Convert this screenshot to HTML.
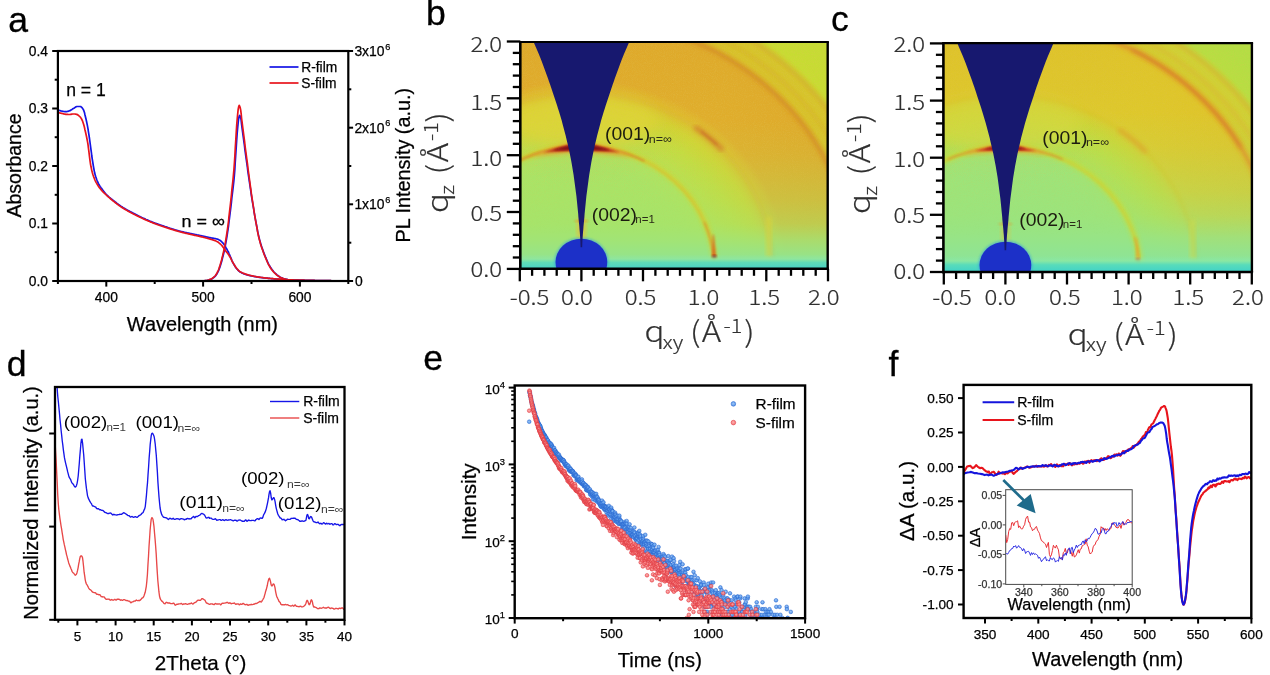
<!DOCTYPE html>
<html lang="en"><head><meta charset="utf-8"><title>Figure</title>
<style>html,body{margin:0;padding:0;background:#fff}svg{display:block}text{font-family:"Liberation Sans",Arial,sans-serif}.yh{font-family:"Noto Sans CJK SC","Liberation Sans",sans-serif;font-weight:300}</style></head><body>
<svg width="1270" height="675" viewBox="0 0 1270 675">
<rect width="1270" height="675" fill="#fff"/>
<text x="8.2" y="32.4" font-size="35.6" text-anchor="start" fill="#000" stroke="#000" stroke-width="0.3" >a</text>
<text x="426" y="25.4" font-size="35.6" text-anchor="start" fill="#000" stroke="#000" stroke-width="0.3" >b</text>
<text x="831" y="31" font-size="35.6" text-anchor="start" fill="#000" stroke="#000" stroke-width="0.3" >c</text>
<text x="6.8" y="376.2" font-size="35.6" text-anchor="start" fill="#000" stroke="#000" stroke-width="0.3" >d</text>
<text x="423.3" y="369.5" font-size="35.6" text-anchor="start" fill="#000" stroke="#000" stroke-width="0.3" >e</text>
<text x="888.6" y="375.7" font-size="35.6" text-anchor="start" fill="#000" stroke="#000" stroke-width="0.3" >f</text>
<g id="panel-a">
<clipPath id="clipA"><rect x="57.9" y="51.0" width="290.40000000000003" height="231.0"/></clipPath>
<g clip-path="url(#clipA)" fill="none" stroke-width="1.7" stroke-linejoin="round">
<path d="M57.9,109.9L58.4,110.1L58.9,110.3L59.4,110.4L59.8,110.6L60.3,110.7L60.8,110.9L61.3,111L61.8,111.1L62.3,111.2L62.7,111.3L63.2,111.4L63.7,111.5L64.2,111.5L64.7,111.6L65.2,111.6L65.7,111.7L66.1,111.6L66.6,111.6L67.1,111.5L67.6,111.4L68.1,111.3L68.6,111.1L69.1,111L69.5,110.8L70,110.6L70.5,110.4L71,110.1L71.5,109.7L72,109.4L72.4,109.1L72.9,108.8L73.4,108.5L73.9,108.2L74.4,107.9L74.9,107.5L75.4,107.2L75.8,106.9L76.3,106.7L76.8,106.5L77.3,106.5L77.8,106.5L78.3,106.5L78.7,106.5L79.2,106.5L79.7,106.5L80.2,106.5L80.7,106.6L81.2,106.9L81.7,107.3L82.1,107.8L82.6,108.5L83.1,109.1L83.6,110.1L84.1,111.5L84.6,113.1L85,115L85.5,117L86,119L86.5,121.2L87,123.6L87.5,126.1L88,128.9L88.4,131.7L88.9,134.7L89.4,138L89.9,141.5L90.4,145.3L90.9,149.1L91.4,152.7L91.8,156L92.3,159.3L92.8,162.5L93.3,165.6L93.8,168.5L94.3,171.1L94.7,173.1L95.2,174.9L95.7,176.6L96.2,178.1L96.7,179.5L97.2,180.8L97.7,181.9L98.1,183L98.6,184L99.1,184.8L99.6,185.6L100.1,186.4L100.6,187.1L101,187.7L101.5,188.4L102,189L102.5,189.7L103,190.3L103.5,191L104,191.6L104.4,192.3L104.9,192.9L105.4,193.5L105.9,194L106.4,194.5L106.9,195L107.4,195.5L107.8,196L108.3,196.4L108.8,196.9L109.3,197.3L109.8,197.7L110.3,198.1L110.7,198.5L111.2,198.9L111.7,199.3L112.2,199.6L112.7,200L113.2,200.4L113.7,200.8L114.1,201.1L114.6,201.5L115.1,201.9L115.6,202.3L116.1,202.6L116.6,203L117,203.4L117.5,203.7L118,204.1L118.5,204.5L119,204.8L119.5,205.2L120,205.5L120.4,205.8L120.9,206.2L121.4,206.5L121.9,206.8L122.4,207.1L122.9,207.5L123.3,207.8L123.8,208.1L124.3,208.4L124.8,208.6L125.3,208.9L125.8,209.2L126.3,209.5L126.7,209.8L127.2,210L127.7,210.3L128.2,210.6L128.7,210.8L129.2,211.1L129.7,211.4L130.1,211.6L130.6,211.9L131.1,212.1L131.6,212.4L132.1,212.6L132.6,212.9L133,213.1L133.5,213.4L134,213.6L134.5,213.9L135,214.1L135.5,214.4L136,214.6L136.4,214.9L136.9,215.1L137.4,215.3L137.9,215.6L138.4,215.8L138.9,216.1L139.3,216.3L139.8,216.5L140.3,216.8L140.8,217L141.3,217.2L141.8,217.5L142.3,217.7L142.7,217.9L143.2,218.2L143.7,218.4L144.2,218.6L144.7,218.8L145.2,219L145.7,219.3L146.1,219.5L146.6,219.7L147.1,219.9L147.6,220.1L148.1,220.3L148.6,220.5L149,220.7L149.5,221L150,221.2L150.5,221.4L151,221.6L151.5,221.7L152,221.9L152.4,222.1L152.9,222.3L153.4,222.5L153.9,222.7L154.4,222.9L154.9,223.1L155.3,223.2L155.8,223.4L156.3,223.6L156.8,223.8L157.3,223.9L157.8,224.1L158.3,224.3L158.7,224.5L159.2,224.6L159.7,224.8L160.2,225L160.7,225.1L161.2,225.3L161.6,225.5L162.1,225.6L162.6,225.8L163.1,225.9L163.6,226.1L164.1,226.3L164.6,226.4L165,226.6L165.5,226.8L166,226.9L166.5,227.1L167,227.2L167.5,227.4L168,227.6L168.4,227.7L168.9,227.9L169.4,228L169.9,228.2L170.4,228.4L170.9,228.5L171.3,228.7L171.8,228.8L172.3,229L172.8,229.1L173.3,229.3L173.8,229.4L174.3,229.6L174.7,229.7L175.2,229.9L175.7,230L176.2,230.2L176.7,230.3L177.2,230.4L177.6,230.6L178.1,230.7L178.6,230.9L179.1,231L179.6,231.1L180.1,231.2L180.6,231.4L181,231.5L181.5,231.6L182,231.7L182.5,231.8L183,231.9L183.5,232.1L184,232.2L184.4,232.3L184.9,232.4L185.4,232.5L185.9,232.6L186.4,232.7L186.9,232.8L187.3,232.9L187.8,233L188.3,233.1L188.8,233.2L189.3,233.3L189.8,233.4L190.3,233.5L190.7,233.6L191.2,233.7L191.7,233.8L192.2,233.9L192.7,234L193.2,234.1L193.6,234.2L194.1,234.3L194.6,234.4L195.1,234.5L195.6,234.6L196.1,234.7L196.6,234.8L197,234.9L197.5,235L198,235.1L198.5,235.2L199,235.3L199.5,235.4L199.9,235.5L200.4,235.6L200.9,235.7L201.4,235.8L201.9,235.9L202.4,236L202.9,236.1L203.3,236.2L203.8,236.3L204.3,236.4L204.8,236.5L205.3,236.6L205.8,236.8L206.3,236.9L206.7,237L207.2,237.1L207.7,237.2L208.2,237.3L208.7,237.4L209.2,237.5L209.6,237.6L210.1,237.7L210.6,237.8L211.1,237.9L211.6,238L212.1,238.1L212.6,238.2L213,238.2L213.5,238.3L214,238.4L214.5,238.5L215,238.5L215.5,238.6L215.9,238.7L216.4,238.9L216.9,239L217.4,239.1L217.9,239.3L218.4,239.5L218.9,239.8L219.3,240L219.8,240.3L220.3,240.6L220.8,240.9L221.3,241.3L221.8,241.8L222.2,242.3L222.7,242.8L223.2,243.4L223.7,244L224.2,244.7L224.7,245.4L225.2,246.2L225.6,247L226.1,247.9L226.6,248.7L227.1,249.6L227.6,250.6L228.1,251.5L228.6,252.5L229,253.5L229.5,254.6L230,255.8L230.5,257L231,258.2L231.5,259.4L231.9,260.6L232.4,261.6L232.9,262.6L233.4,263.5L233.9,264.4L234.4,265.3L234.9,266.1L235.3,266.8L235.8,267.5L236.3,268.2L236.8,268.8L237.3,269.3L237.8,269.9L238.2,270.4L238.7,270.9L239.2,271.3L239.7,271.7L240.2,272L240.7,272.3L241.2,272.6L241.6,272.8L242.1,273.1L242.6,273.3L243.1,273.5L243.6,273.7L244.1,273.9L244.6,274L245,274.2L245.5,274.4L246,274.5L246.5,274.7L247,274.8L247.5,275L247.9,275.1L248.4,275.2L248.9,275.3L249.4,275.5L249.9,275.6L250.4,275.7L250.9,275.8L251.3,275.9L251.8,276L252.3,276.1L252.8,276.2L253.3,276.3L253.8,276.4L254.2,276.5L254.7,276.6L255.2,276.6L255.7,276.7L256.2,276.8L256.7,276.9L257.2,277L257.6,277L258.1,277.1L258.6,277.2L259.1,277.3L259.6,277.3L260.1,277.4L260.5,277.5L261,277.5L261.5,277.6L262,277.7L262.5,277.7L263,277.8L263.5,277.8L263.9,277.9L264.4,277.9L264.9,278L265.4,278L265.9,278.1L266.4,278.1L266.9,278.2L267.3,278.2L267.8,278.3L268.3,278.3L268.8,278.4L269.3,278.4L269.8,278.4L270.2,278.5L270.7,278.5L271.2,278.6L271.7,278.6L272.2,278.7L272.7,278.7L273.2,278.7L273.6,278.8L274.1,278.8L274.6,278.8L275.1,278.9L275.6,278.9L276.1,279L276.5,279L277,279L277.5,279.1L278,279.1L278.5,279.1L279,279.2L279.5,279.2L279.9,279.3L280.4,279.3L280.9,279.3L281.4,279.4L281.9,279.4L282.4,279.4L282.9,279.5L283.3,279.5L283.8,279.5L284.3,279.6L284.8,279.6L285.3,279.6L285.8,279.6L286.2,279.7L286.7,279.7L287.2,279.7L287.7,279.7L288.2,279.8L288.7,279.8L289.2,279.8L289.6,279.8L290.1,279.8L290.6,279.9L291.1,279.9L291.6,279.9L292.1,279.9L292.5,279.9L293,279.9L293.5,280L294,280L294.5,280L295,280L295.5,280L295.9,280L296.4,280.1L296.9,280.1L297.4,280.1L297.9,280.1L298.4,280.1L298.8,280.1L299.3,280.1L299.8,280.1L300.3,280.2L300.8,280.2L301.3,280.2L301.8,280.2L302.2,280.2L302.7,280.2L303.2,280.2L303.7,280.2L304.2,280.2L304.7,280.3L305.2,280.3L305.6,280.3L306.1,280.3L306.6,280.3L307.1,280.3L307.6,280.3L308.1,280.3L308.5,280.3L309,280.3L309.5,280.4L310,280.4L310.5,280.4L311,280.4L311.5,280.4L311.9,280.4L312.4,280.4L312.9,280.4L313.4,280.4L313.9,280.4L314.4,280.4L314.8,280.5L315.3,280.5L315.8,280.5L316.3,280.5L316.8,280.5L317.3,280.5L317.8,280.5L318.2,280.5L318.7,280.5L319.2,280.5L319.7,280.5L320.2,280.6L320.7,280.6L321.2,280.6L321.6,280.6L322.1,280.6L322.6,280.6L323.1,280.6L323.6,280.6L324.1,280.6L324.5,280.6L325,280.6L325.5,280.7L326,280.7L326.5,280.7L327,280.7L327.5,280.7L327.9,280.7L328.4,280.7L328.9,280.7L329.4,280.7L329.9,280.7L330.4,280.7L330.8,280.7L331.3,280.8L331.8,280.8L332.3,280.8L332.8,280.8L333.3,280.8L333.8,280.8L334.2,280.8L334.7,280.8L335.2,280.8L335.7,280.8L336.2,280.8L336.7,280.8L337.1,280.8L337.6,280.9L338.1,280.9L338.6,280.9L339.1,280.9L339.6,280.9L340.1,280.9L340.5,280.9L341,280.9L341.5,280.9L342,280.9L342.5,280.9L343,280.9L343.5,280.9L343.9,280.9L344.4,281L344.9,281L345.4,281L345.9,281L346.4,281L346.8,281L347.3,281L347.8,281L348.3,281" stroke="#1414e6"/>
<path d="M58.3,281L58.8,281L59.3,281L59.7,281L60.2,281L60.7,281L61.2,281L61.7,281L62.2,281L62.7,281L63.1,281L63.6,281L64.1,281L64.6,281L65.1,281L65.6,281L66,281L66.5,281L67,281L67.5,281L68,281L68.5,281L69,281L69.4,281L69.9,281L70.4,281L70.9,281L71.4,281L71.9,281L72.3,281L72.8,281L73.3,281L73.8,281L74.3,281L74.8,281L75.3,281L75.7,281L76.2,281L76.7,281L77.2,281L77.7,281L78.2,281L78.6,281L79.1,281L79.6,281L80.1,281L80.6,281L81.1,281L81.6,281L82,281L82.5,281L83,281L83.5,281L84,281L84.5,281L85,281L85.4,281L85.9,281L86.4,281L86.9,281L87.4,281L87.9,281L88.3,281L88.8,281L89.3,281L89.8,281L90.3,281L90.8,281L91.3,281L91.7,281L92.2,281L92.7,281L93.2,281L93.7,281L94.2,281L94.6,281L95.1,281L95.6,281L96.1,281L96.6,281L97.1,281L97.6,281L98,281L98.5,281L99,281L99.5,281L100,281L100.5,281L101,281L101.4,281L101.9,281L102.4,281L102.9,281L103.4,281L103.9,281L104.3,281L104.8,281L105.3,281L105.8,281L106.3,281L106.8,281L107.3,281L107.7,281L108.2,281L108.7,281L109.2,281L109.7,281L110.2,281L110.6,281L111.1,281L111.6,281L112.1,281L112.6,281L113.1,281L113.6,281L114,281L114.5,281L115,281L115.5,281L116,281L116.5,281L116.9,281L117.4,281L117.9,281L118.4,281L118.9,281L119.4,281L119.9,281L120.3,281L120.8,281L121.3,281L121.8,281L122.3,281L122.8,281L123.3,281L123.7,281L124.2,281L124.7,281L125.2,281L125.7,281L126.2,281L126.6,281L127.1,281L127.6,281L128.1,281L128.6,281L129.1,281L129.6,281L130,281L130.5,281L131,281L131.5,281L132,281L132.5,281L132.9,281L133.4,281L133.9,281L134.4,281L134.9,281L135.4,281L135.9,281L136.3,281L136.8,281L137.3,281L137.8,281L138.3,281L138.8,281L139.3,281L139.7,281L140.2,281L140.7,281L141.2,281L141.7,281L142.2,281L142.6,281L143.1,281L143.6,281L144.1,281L144.6,281L145.1,281L145.6,281L146,281L146.5,281L147,281L147.5,281L148,281L148.5,281L148.9,281L149.4,281L149.9,281L150.4,281L150.9,281L151.4,281L151.9,281L152.3,281L152.8,281L153.3,281L153.8,281L154.3,281L154.8,281L155.2,281L155.7,281L156.2,281L156.7,281L157.2,281L157.7,281L158.2,281L158.6,281L159.1,281L159.6,281L160.1,281L160.6,281L161.1,281L161.6,281L162,281L162.5,281L163,281L163.5,281L164,281L164.5,281L164.9,281L165.4,281L165.9,281L166.4,281L166.9,281L167.4,281L167.9,281L168.3,281L168.8,281L169.3,281L169.8,281L170.3,281L170.8,281L171.2,281L171.7,281L172.2,281L172.7,281L173.2,281L173.7,281L174.2,281L174.6,281L175.1,281L175.6,281L176.1,281L176.6,281L177.1,281L177.5,281L178,281L178.5,281L179,281L179.5,281L180,281L180.5,281L180.9,281L181.4,281L181.9,281L182.4,281L182.9,281L183.4,281L183.9,281L184.3,281L184.8,281L185.3,281L185.8,281L186.3,281L186.8,281L187.2,281L187.7,281L188.2,281L188.7,281L189.2,281L189.7,281L190.2,281L190.6,281L191.1,281L191.6,281L192.1,281L192.6,281L193.1,281L193.5,281L194,281L194.5,281L195,281L195.5,281L196,281L196.5,281L196.9,281L197.4,281L197.9,281L198.4,281L198.9,281L199.4,281L199.9,281L200.3,281L200.8,281L201.3,280.9L201.8,280.9L202.3,280.9L202.8,280.9L203.2,280.9L203.7,280.8L204.2,280.8L204.7,280.8L205.2,280.7L205.7,280.7L206.2,280.6L206.6,280.6L207.1,280.5L207.6,280.4L208.1,280.3L208.6,280.1L209.1,280L209.5,279.8L210,279.6L210.5,279.4L211,279.2L211.5,279L212,278.7L212.5,278.4L212.9,278.1L213.4,277.8L213.9,277.4L214.4,277L214.9,276.5L215.4,276.1L215.8,275.5L216.3,274.8L216.8,274L217.3,273.1L217.8,272.2L218.3,271.2L218.8,270.1L219.2,268.9L219.7,267.6L220.2,266.2L220.7,264.6L221.2,263L221.7,261.3L222.2,259.4L222.6,257.6L223.1,255.7L223.6,253.7L224.1,251.6L224.6,249.4L225.1,247L225.5,244.5L226,241.9L226.5,239.1L227,236.1L227.5,232.9L228,229.6L228.5,226.2L228.9,222.5L229.4,218.6L229.9,214.7L230.4,210.7L230.9,206.7L231.4,202.5L231.8,198.2L232.3,194.1L232.8,190.1L233.3,185.8L233.8,181.3L234.3,176.1L234.8,169.9L235.2,162.6L235.7,155.1L236.2,147.7L236.7,139.9L237.2,132.9L237.7,127.3L238.2,122.4L238.6,119L239.1,116.5L239.6,115.4L240.1,116.1L240.6,117.6L241.1,119.8L241.5,123.6L242,127.7L242.5,131.4L243,135.1L243.5,138.7L244,142.3L244.5,145.9L244.9,149.6L245.4,153.2L245.9,156.9L246.4,160.4L246.9,164L247.4,167.4L247.8,170.9L248.3,174.3L248.8,177.7L249.3,181.1L249.8,184.5L250.3,187.8L250.8,191L251.2,194.2L251.7,197.3L252.2,200.3L252.7,203.3L253.2,206.3L253.7,209.2L254.1,212L254.6,214.9L255.1,217.7L255.6,220.4L256.1,223L256.6,225.6L257.1,228.1L257.5,230.6L258,233.1L258.5,235.4L259,237.5L259.5,239.5L260,241.3L260.5,243L260.9,244.6L261.4,246.1L261.9,247.5L262.4,248.9L262.9,250.3L263.4,251.7L263.8,252.9L264.3,254.2L264.8,255.4L265.3,256.6L265.8,257.7L266.3,258.9L266.8,260L267.2,261.2L267.7,262.2L268.2,263.3L268.7,264.3L269.2,265.2L269.7,266L270.1,266.8L270.6,267.6L271.1,268.3L271.6,269L272.1,269.7L272.6,270.3L273.1,270.9L273.5,271.5L274,272L274.5,272.6L275,273L275.5,273.5L276,274L276.5,274.4L276.9,274.8L277.4,275.2L277.9,275.5L278.4,275.9L278.9,276.2L279.4,276.6L279.8,276.9L280.3,277.2L280.8,277.4L281.3,277.7L281.8,277.9L282.3,278.1L282.8,278.3L283.2,278.5L283.7,278.7L284.2,278.8L284.7,279L285.2,279.1L285.7,279.3L286.1,279.4L286.6,279.6L287.1,279.7L287.6,279.8L288.1,279.9L288.6,280L289.1,280.1L289.5,280.1L290,280.2L290.5,280.2L291,280.3L291.5,280.3L292,280.4L292.4,280.4L292.9,280.5L293.4,280.5L293.9,280.5L294.4,280.6L294.9,280.6L295.4,280.6L295.8,280.6L296.3,280.7L296.8,280.7L297.3,280.7L297.8,280.7L298.3,280.7L298.8,280.8L299.2,280.8L299.7,280.8L300.2,280.8L300.7,280.8L301.2,280.9L301.7,280.9L302.1,280.9L302.6,280.9L303.1,280.9L303.6,280.9L304.1,280.9L304.6,280.9L305.1,280.9L305.5,280.9L306,280.9L306.5,280.9L307,280.9L307.5,280.9L308,280.9L308.4,280.9L308.9,280.9L309.4,280.9L309.9,280.9L310.4,280.9L310.9,280.9L311.4,280.9L311.8,280.9L312.3,280.9L312.8,281L313.3,281L313.8,281L314.3,281L314.8,281L315.2,281L315.7,281L316.2,281L316.7,281L317.2,281L317.7,281L318.1,281L318.6,281L319.1,281L319.6,281L320.1,281L320.6,281L321.1,281L321.5,281L322,281L322.5,281L323,281L323.5,281L324,281L324.4,281L324.9,281L325.4,281L325.9,281L326.4,281L326.9,281L327.4,281L327.8,281L328.3,281L328.8,281L329.3,281L329.8,281L330.3,281L330.7,281L331.2,281L331.7,281L332.2,281L332.7,281L333.2,281L333.7,281L334.1,281L334.6,281L335.1,281L335.6,281L336.1,281L336.6,281L337.1,281L337.5,281L338,281L338.5,281L339,281L339.5,281L340,281L340.4,281L340.9,281L341.4,281L341.9,281L342.4,281L342.9,281L343.4,281L343.8,281L344.3,281L344.8,281L345.3,281L345.8,281L346.3,281L346.7,281L347.2,281L347.7,281L348.2,281L348.7,281" stroke="#1414e6"/>
<path d="M57.9,112.5L58.4,112.6L58.9,112.7L59.4,112.8L59.8,113L60.3,113.1L60.8,113.2L61.3,113.3L61.8,113.4L62.3,113.5L62.7,113.6L63.2,113.8L63.7,113.9L64.2,114L64.7,114.1L65.2,114.2L65.7,114.3L66.1,114.3L66.6,114.4L67.1,114.4L67.6,114.4L68.1,114.5L68.6,114.5L69.1,114.5L69.5,114.5L70,114.5L70.5,114.4L71,114.4L71.5,114.2L72,114.1L72.4,114L72.9,114L73.4,114L73.9,114L74.4,114L74.9,114L75.4,114.1L75.8,114.2L76.3,114.3L76.8,114.4L77.3,114.6L77.8,114.9L78.3,115.2L78.7,115.6L79.2,116L79.7,116.5L80.2,117L80.7,117.6L81.2,118.4L81.7,119.2L82.1,120.1L82.6,121.2L83.1,122.7L83.6,124.3L84.1,126.1L84.6,128L85,130L85.5,132L86,134.2L86.5,136.5L87,139L87.5,141.6L88,144.5L88.4,147.8L88.9,151.7L89.4,155.9L89.9,159.9L90.4,163.5L90.9,166.3L91.4,168.6L91.8,170.6L92.3,172.5L92.8,174.2L93.3,175.7L93.8,177.1L94.3,178.3L94.7,179.5L95.2,180.6L95.7,181.6L96.2,182.6L96.7,183.4L97.2,184.3L97.7,185.1L98.1,185.8L98.6,186.6L99.1,187.2L99.6,187.9L100.1,188.5L100.6,189.1L101,189.7L101.5,190.2L102,190.8L102.5,191.3L103,191.8L103.5,192.3L104,192.8L104.4,193.3L104.9,193.7L105.4,194.2L105.9,194.7L106.4,195.1L106.9,195.6L107.4,196L107.8,196.4L108.3,196.9L108.8,197.3L109.3,197.7L109.8,198.1L110.3,198.6L110.7,199L111.2,199.4L111.7,199.8L112.2,200.2L112.7,200.6L113.2,201L113.7,201.3L114.1,201.7L114.6,202.1L115.1,202.5L115.6,202.9L116.1,203.2L116.6,203.6L117,204L117.5,204.3L118,204.7L118.5,205L119,205.4L119.5,205.7L120,206.1L120.4,206.4L120.9,206.7L121.4,207.1L121.9,207.4L122.4,207.7L122.9,208L123.3,208.3L123.8,208.6L124.3,208.9L124.8,209.2L125.3,209.5L125.8,209.8L126.3,210.1L126.7,210.3L127.2,210.6L127.7,210.9L128.2,211.2L128.7,211.4L129.2,211.7L129.7,211.9L130.1,212.2L130.6,212.5L131.1,212.7L131.6,213L132.1,213.2L132.6,213.5L133,213.7L133.5,214L134,214.2L134.5,214.5L135,214.7L135.5,214.9L136,215.2L136.4,215.4L136.9,215.7L137.4,215.9L137.9,216.2L138.4,216.4L138.9,216.6L139.3,216.9L139.8,217.1L140.3,217.3L140.8,217.6L141.3,217.8L141.8,218L142.3,218.3L142.7,218.5L143.2,218.7L143.7,219L144.2,219.2L144.7,219.4L145.2,219.6L145.7,219.8L146.1,220.1L146.6,220.3L147.1,220.5L147.6,220.7L148.1,220.9L148.6,221.1L149,221.3L149.5,221.5L150,221.7L150.5,221.9L151,222.1L151.5,222.3L152,222.5L152.4,222.7L152.9,222.9L153.4,223.1L153.9,223.3L154.4,223.4L154.9,223.6L155.3,223.8L155.8,224L156.3,224.2L156.8,224.3L157.3,224.5L157.8,224.7L158.3,224.9L158.7,225L159.2,225.2L159.7,225.4L160.2,225.5L160.7,225.7L161.2,225.9L161.6,226L162.1,226.2L162.6,226.4L163.1,226.5L163.6,226.7L164.1,226.8L164.6,227L165,227.2L165.5,227.3L166,227.5L166.5,227.7L167,227.8L167.5,228L168,228.1L168.4,228.3L168.9,228.4L169.4,228.6L169.9,228.8L170.4,228.9L170.9,229.1L171.3,229.2L171.8,229.4L172.3,229.5L172.8,229.7L173.3,229.8L173.8,230L174.3,230.1L174.7,230.3L175.2,230.4L175.7,230.6L176.2,230.7L176.7,230.8L177.2,231L177.6,231.1L178.1,231.3L178.6,231.4L179.1,231.5L179.6,231.7L180.1,231.8L180.6,231.9L181,232.1L181.5,232.2L182,232.3L182.5,232.4L183,232.6L183.5,232.7L184,232.8L184.4,232.9L184.9,233L185.4,233.2L185.9,233.3L186.4,233.4L186.9,233.5L187.3,233.6L187.8,233.7L188.3,233.8L188.8,233.9L189.3,234.1L189.8,234.2L190.3,234.3L190.7,234.4L191.2,234.5L191.7,234.6L192.2,234.7L192.7,234.8L193.2,234.9L193.6,235.1L194.1,235.2L194.6,235.3L195.1,235.4L195.6,235.5L196.1,235.6L196.6,235.7L197,235.8L197.5,235.9L198,236L198.5,236.1L199,236.2L199.5,236.3L199.9,236.4L200.4,236.6L200.9,236.7L201.4,236.8L201.9,236.9L202.4,237L202.9,237.1L203.3,237.2L203.8,237.4L204.3,237.5L204.8,237.6L205.3,237.7L205.8,237.9L206.3,238L206.7,238.1L207.2,238.3L207.7,238.4L208.2,238.5L208.7,238.7L209.2,238.8L209.6,239L210.1,239.1L210.6,239.2L211.1,239.4L211.6,239.5L212.1,239.7L212.6,239.8L213,240L213.5,240.1L214,240.3L214.5,240.4L215,240.6L215.5,240.8L215.9,241L216.4,241.2L216.9,241.5L217.4,241.7L217.9,242L218.4,242.4L218.9,242.8L219.3,243.2L219.8,243.6L220.3,244L220.8,244.5L221.3,245L221.8,245.5L222.2,246.1L222.7,246.8L223.2,247.4L223.7,248L224.2,248.7L224.7,249.3L225.2,250L225.6,250.7L226.1,251.4L226.6,252.1L227.1,252.7L227.6,253.3L228.1,254L228.6,254.7L229,255.4L229.5,256.2L230,257L230.5,257.9L231,258.9L231.5,259.8L231.9,260.8L232.4,261.7L232.9,262.5L233.4,263.4L233.9,264.2L234.4,265L234.9,265.8L235.3,266.6L235.8,267.2L236.3,267.9L236.8,268.5L237.3,269L237.8,269.6L238.2,270.1L238.7,270.6L239.2,271L239.7,271.4L240.2,271.7L240.7,272L241.2,272.3L241.6,272.5L242.1,272.8L242.6,273L243.1,273.2L243.6,273.4L244.1,273.6L244.6,273.7L245,273.9L245.5,274.1L246,274.3L246.5,274.4L247,274.6L247.5,274.7L247.9,274.9L248.4,275L248.9,275.1L249.4,275.3L249.9,275.4L250.4,275.5L250.9,275.6L251.3,275.7L251.8,275.8L252.3,275.9L252.8,276L253.3,276.1L253.8,276.2L254.2,276.3L254.7,276.4L255.2,276.5L255.7,276.6L256.2,276.7L256.7,276.8L257.2,276.8L257.6,276.9L258.1,277L258.6,277.1L259.1,277.1L259.6,277.2L260.1,277.3L260.5,277.3L261,277.4L261.5,277.5L262,277.5L262.5,277.6L263,277.7L263.5,277.7L263.9,277.8L264.4,277.9L264.9,277.9L265.4,278L265.9,278L266.4,278.1L266.9,278.1L267.3,278.2L267.8,278.2L268.3,278.3L268.8,278.3L269.3,278.4L269.8,278.4L270.2,278.5L270.7,278.5L271.2,278.6L271.7,278.6L272.2,278.6L272.7,278.7L273.2,278.7L273.6,278.8L274.1,278.8L274.6,278.9L275.1,278.9L275.6,278.9L276.1,279L276.5,279L277,279L277.5,279.1L278,279.1L278.5,279.2L279,279.2L279.5,279.2L279.9,279.3L280.4,279.3L280.9,279.3L281.4,279.4L281.9,279.4L282.4,279.4L282.9,279.5L283.3,279.5L283.8,279.5L284.3,279.6L284.8,279.6L285.3,279.6L285.8,279.6L286.2,279.7L286.7,279.7L287.2,279.7L287.7,279.7L288.2,279.8L288.7,279.8L289.2,279.8L289.6,279.8L290.1,279.8L290.6,279.9L291.1,279.9L291.6,279.9L292.1,279.9L292.5,279.9L293,279.9L293.5,280L294,280L294.5,280L295,280L295.5,280L295.9,280L296.4,280.1L296.9,280.1L297.4,280.1L297.9,280.1L298.4,280.1L298.8,280.1L299.3,280.1L299.8,280.1L300.3,280.2L300.8,280.2L301.3,280.2L301.8,280.2L302.2,280.2L302.7,280.2L303.2,280.2L303.7,280.2L304.2,280.2L304.7,280.3L305.2,280.3L305.6,280.3L306.1,280.3L306.6,280.3L307.1,280.3L307.6,280.3L308.1,280.3L308.5,280.3L309,280.3L309.5,280.4L310,280.4L310.5,280.4L311,280.4L311.5,280.4L311.9,280.4L312.4,280.4L312.9,280.4L313.4,280.4L313.9,280.4L314.4,280.4L314.8,280.5L315.3,280.5L315.8,280.5L316.3,280.5L316.8,280.5L317.3,280.5L317.8,280.5L318.2,280.5L318.7,280.5L319.2,280.5L319.7,280.5L320.2,280.6L320.7,280.6L321.2,280.6L321.6,280.6L322.1,280.6L322.6,280.6L323.1,280.6L323.6,280.6L324.1,280.6L324.5,280.6L325,280.6L325.5,280.7L326,280.7L326.5,280.7L327,280.7L327.5,280.7L327.9,280.7L328.4,280.7L328.9,280.7L329.4,280.7L329.9,280.7L330.4,280.7L330.8,280.7L331.3,280.8L331.8,280.8L332.3,280.8L332.8,280.8L333.3,280.8L333.8,280.8L334.2,280.8L334.7,280.8L335.2,280.8L335.7,280.8L336.2,280.8L336.7,280.8L337.1,280.8L337.6,280.9L338.1,280.9L338.6,280.9L339.1,280.9L339.6,280.9L340.1,280.9L340.5,280.9L341,280.9L341.5,280.9L342,280.9L342.5,280.9L343,280.9L343.5,280.9L343.9,280.9L344.4,281L344.9,281L345.4,281L345.9,281L346.4,281L346.8,281L347.3,281L347.8,281L348.3,281" stroke="#e8141c"/>
<path d="M57.9,281L58.4,281L58.9,281L59.4,281L59.8,281L60.3,281L60.8,281L61.3,281L61.8,281L62.3,281L62.7,281L63.2,281L63.7,281L64.2,281L64.7,281L65.2,281L65.7,281L66.1,281L66.6,281L67.1,281L67.6,281L68.1,281L68.6,281L69.1,281L69.5,281L70,281L70.5,281L71,281L71.5,281L72,281L72.4,281L72.9,281L73.4,281L73.9,281L74.4,281L74.9,281L75.4,281L75.8,281L76.3,281L76.8,281L77.3,281L77.8,281L78.3,281L78.7,281L79.2,281L79.7,281L80.2,281L80.7,281L81.2,281L81.7,281L82.1,281L82.6,281L83.1,281L83.6,281L84.1,281L84.6,281L85,281L85.5,281L86,281L86.5,281L87,281L87.5,281L88,281L88.4,281L88.9,281L89.4,281L89.9,281L90.4,281L90.9,281L91.4,281L91.8,281L92.3,281L92.8,281L93.3,281L93.8,281L94.3,281L94.7,281L95.2,281L95.7,281L96.2,281L96.7,281L97.2,281L97.7,281L98.1,281L98.6,281L99.1,281L99.6,281L100.1,281L100.6,281L101,281L101.5,281L102,281L102.5,281L103,281L103.5,281L104,281L104.4,281L104.9,281L105.4,281L105.9,281L106.4,281L106.9,281L107.4,281L107.8,281L108.3,281L108.8,281L109.3,281L109.8,281L110.3,281L110.7,281L111.2,281L111.7,281L112.2,281L112.7,281L113.2,281L113.7,281L114.1,281L114.6,281L115.1,281L115.6,281L116.1,281L116.6,281L117,281L117.5,281L118,281L118.5,281L119,281L119.5,281L120,281L120.4,281L120.9,281L121.4,281L121.9,281L122.4,281L122.9,281L123.3,281L123.8,281L124.3,281L124.8,281L125.3,281L125.8,281L126.3,281L126.7,281L127.2,281L127.7,281L128.2,281L128.7,281L129.2,281L129.7,281L130.1,281L130.6,281L131.1,281L131.6,281L132.1,281L132.6,281L133,281L133.5,281L134,281L134.5,281L135,281L135.5,281L136,281L136.4,281L136.9,281L137.4,281L137.9,281L138.4,281L138.9,281L139.3,281L139.8,281L140.3,281L140.8,281L141.3,281L141.8,281L142.3,281L142.7,281L143.2,281L143.7,281L144.2,281L144.7,281L145.2,281L145.7,281L146.1,281L146.6,281L147.1,281L147.6,281L148.1,281L148.6,281L149,281L149.5,281L150,281L150.5,281L151,281L151.5,281L152,281L152.4,281L152.9,281L153.4,281L153.9,281L154.4,281L154.9,281L155.3,281L155.8,281L156.3,281L156.8,281L157.3,281L157.8,281L158.3,281L158.7,281L159.2,281L159.7,281L160.2,281L160.7,281L161.2,281L161.6,281L162.1,281L162.6,281L163.1,281L163.6,281L164.1,281L164.6,281L165,281L165.5,281L166,281L166.5,281L167,281L167.5,281L168,281L168.4,281L168.9,281L169.4,281L169.9,281L170.4,281L170.9,281L171.3,281L171.8,281L172.3,281L172.8,281L173.3,281L173.8,281L174.3,281L174.7,281L175.2,281L175.7,281L176.2,281L176.7,281L177.2,281L177.6,281L178.1,281L178.6,281L179.1,281L179.6,281L180.1,281L180.6,281L181,281L181.5,281L182,281L182.5,281L183,281L183.5,281L184,281L184.4,281L184.9,281L185.4,281L185.9,281L186.4,281L186.9,281L187.3,281L187.8,281L188.3,281L188.8,281L189.3,281L189.8,281L190.3,281L190.7,281L191.2,281L191.7,281L192.2,281L192.7,281L193.2,281L193.6,281L194.1,281L194.6,281L195.1,281L195.6,281L196.1,281L196.6,281L197,281L197.5,281L198,281L198.5,281L199,281L199.5,281L199.9,281L200.4,281L200.9,280.9L201.4,280.9L201.9,280.9L202.4,280.9L202.9,280.9L203.3,280.8L203.8,280.8L204.3,280.8L204.8,280.7L205.3,280.7L205.8,280.6L206.3,280.6L206.7,280.5L207.2,280.4L207.7,280.3L208.2,280.1L208.7,280L209.2,279.8L209.6,279.6L210.1,279.4L210.6,279.2L211.1,279L211.6,278.7L212.1,278.4L212.6,278.1L213,277.8L213.5,277.4L214,277L214.5,276.5L215,276L215.5,275.5L215.9,274.8L216.4,274L216.9,273.1L217.4,272.1L217.9,271.1L218.4,270L218.9,268.8L219.3,267.5L219.8,266.1L220.3,264.5L220.8,262.8L221.3,261L221.8,259.2L222.2,257.3L222.7,255.4L223.2,253.3L223.7,251.1L224.2,248.8L224.7,246.4L225.2,243.8L225.6,241.1L226.1,238.1L226.6,235L227.1,231.6L227.6,228.2L228.1,224.5L228.6,220.5L229,216.4L229.5,212.2L230,207.9L230.5,203.5L231,198.9L231.5,194.2L231.9,189.7L232.4,185.2L232.9,180.5L233.4,175.4L233.9,169.8L234.4,163.1L234.9,155.4L235.3,147.5L235.8,139.7L236.3,131.4L236.8,123.9L237.3,118L237.8,112.9L238.2,109.2L238.7,106.6L239.2,105.4L239.7,106.2L240.2,107.8L240.7,110.1L241.2,114.1L241.6,118.5L242.1,122.4L242.6,126.3L243.1,130.1L243.6,134L244.1,137.8L244.6,141.7L245,145.5L245.5,149.4L246,153.2L246.5,156.9L247,160.6L247.5,164.2L247.9,167.8L248.4,171.5L248.9,175.2L249.4,179L249.9,182.7L250.4,186.3L250.9,189.8L251.3,193.2L251.8,196.5L252.3,199.8L252.8,203L253.3,206.2L253.8,209.3L254.2,212.4L254.7,215.4L255.2,218.3L255.7,221.1L256.2,223.8L256.7,226.5L257.2,229.2L257.6,231.8L258.1,234.2L258.6,236.5L259.1,238.6L259.6,240.4L260.1,242.2L260.5,243.8L261,245.4L261.5,246.9L262,248.4L262.5,249.8L263,251.2L263.5,252.5L263.9,253.8L264.4,255L264.9,256.3L265.4,257.4L265.9,258.6L266.4,259.8L266.9,260.9L267.3,262L267.8,263.1L268.3,264.1L268.8,265L269.3,265.9L269.8,266.7L270.2,267.5L270.7,268.3L271.2,269L271.7,269.6L272.2,270.3L272.7,270.9L273.2,271.5L273.6,272L274.1,272.5L274.6,273L275.1,273.5L275.6,273.9L276.1,274.4L276.5,274.8L277,275.2L277.5,275.5L278,275.9L278.5,276.2L279,276.6L279.5,276.9L279.9,277.2L280.4,277.4L280.9,277.7L281.4,277.9L281.9,278.1L282.4,278.3L282.9,278.5L283.3,278.6L283.8,278.8L284.3,279L284.8,279.1L285.3,279.3L285.8,279.4L286.2,279.6L286.7,279.7L287.2,279.8L287.7,279.9L288.2,280L288.7,280.1L289.2,280.1L289.6,280.2L290.1,280.2L290.6,280.3L291.1,280.3L291.6,280.4L292.1,280.4L292.5,280.5L293,280.5L293.5,280.5L294,280.6L294.5,280.6L295,280.6L295.5,280.6L295.9,280.7L296.4,280.7L296.9,280.7L297.4,280.7L297.9,280.7L298.4,280.8L298.8,280.8L299.3,280.8L299.8,280.8L300.3,280.8L300.8,280.9L301.3,280.9L301.8,280.9L302.2,280.9L302.7,280.9L303.2,280.9L303.7,280.9L304.2,280.9L304.7,280.9L305.2,280.9L305.6,280.9L306.1,280.9L306.6,280.9L307.1,280.9L307.6,280.9L308.1,280.9L308.5,280.9L309,280.9L309.5,280.9L310,280.9L310.5,280.9L311,280.9L311.5,280.9L311.9,280.9L312.4,281L312.9,281L313.4,281L313.9,281L314.4,281L314.8,281L315.3,281L315.8,281L316.3,281L316.8,281L317.3,281L317.8,281L318.2,281L318.7,281L319.2,281L319.7,281L320.2,281L320.7,281L321.2,281L321.6,281L322.1,281L322.6,281L323.1,281L323.6,281L324.1,281L324.5,281L325,281L325.5,281L326,281L326.5,281L327,281L327.5,281L327.9,281L328.4,281L328.9,281L329.4,281L329.9,281L330.4,281L330.8,281L331.3,281L331.8,281L332.3,281L332.8,281L333.3,281L333.8,281L334.2,281L334.7,281L335.2,281L335.7,281L336.2,281L336.7,281L337.1,281L337.6,281L338.1,281L338.6,281L339.1,281L339.6,281L340.1,281L340.5,281L341,281L341.5,281L342,281L342.5,281L343,281L343.5,281L343.9,281L344.4,281L344.9,281L345.4,281L345.9,281L346.4,281L346.8,281L347.3,281L347.8,281L348.3,281" stroke="#e8141c"/>
</g>
<rect x="57.9" y="51.0" width="290.40000000000003" height="230.0" fill="none" stroke="#000" stroke-width="2.2"/>
<line x1="52.2" y1="281" x2="57.9" y2="281" stroke="#000" stroke-width="2" />
<text x="48" y="285.7" font-size="13.8" text-anchor="end" fill="#000" stroke="#000" stroke-width="0.25" >0.0</text>
<line x1="54.7" y1="252.2" x2="57.9" y2="252.2" stroke="#000" stroke-width="2" />
<line x1="52.2" y1="223.5" x2="57.9" y2="223.5" stroke="#000" stroke-width="2" />
<text x="48" y="228.2" font-size="13.8" text-anchor="end" fill="#000" stroke="#000" stroke-width="0.25" >0.1</text>
<line x1="54.7" y1="194.8" x2="57.9" y2="194.8" stroke="#000" stroke-width="2" />
<line x1="52.2" y1="166" x2="57.9" y2="166" stroke="#000" stroke-width="2" />
<text x="48" y="170.7" font-size="13.8" text-anchor="end" fill="#000" stroke="#000" stroke-width="0.25" >0.2</text>
<line x1="54.7" y1="137.2" x2="57.9" y2="137.2" stroke="#000" stroke-width="2" />
<line x1="52.2" y1="108.5" x2="57.9" y2="108.5" stroke="#000" stroke-width="2" />
<text x="48" y="113.2" font-size="13.8" text-anchor="end" fill="#000" stroke="#000" stroke-width="0.25" >0.3</text>
<line x1="54.7" y1="79.7" x2="57.9" y2="79.7" stroke="#000" stroke-width="2" />
<line x1="52.2" y1="51" x2="57.9" y2="51" stroke="#000" stroke-width="2" />
<text x="48" y="55.7" font-size="13.8" text-anchor="end" fill="#000" stroke="#000" stroke-width="0.25" >0.4</text>
<line x1="57.9" y1="281" x2="57.9" y2="284" stroke="#000" stroke-width="2" />
<line x1="106.3" y1="281" x2="106.3" y2="286.6" stroke="#000" stroke-width="2" />
<text x="106.3" y="301.8" font-size="13.8" text-anchor="middle" fill="#000" stroke="#000" stroke-width="0.25" >400</text>
<line x1="154.7" y1="281" x2="154.7" y2="284" stroke="#000" stroke-width="2" />
<line x1="203.1" y1="281" x2="203.1" y2="286.6" stroke="#000" stroke-width="2" />
<text x="203.1" y="301.8" font-size="13.8" text-anchor="middle" fill="#000" stroke="#000" stroke-width="0.25" >500</text>
<line x1="251.5" y1="281" x2="251.5" y2="284" stroke="#000" stroke-width="2" />
<line x1="299.9" y1="281" x2="299.9" y2="286.6" stroke="#000" stroke-width="2" />
<text x="299.9" y="301.8" font-size="13.8" text-anchor="middle" fill="#000" stroke="#000" stroke-width="0.25" >600</text>
<line x1="348.3" y1="281" x2="348.3" y2="284" stroke="#000" stroke-width="2" />
<line x1="348.3" y1="281" x2="353.1" y2="281" stroke="#000" stroke-width="2" />
<text x="355" y="285.9" font-size="13.9" text-anchor="start" fill="#000" stroke="#000" stroke-width="0.25" >0</text>
<line x1="348.3" y1="242.7" x2="351.3" y2="242.7" stroke="#000" stroke-width="2" />
<line x1="348.3" y1="204.3" x2="353.1" y2="204.3" stroke="#000" stroke-width="2" />
<text x="354.4" y="209.2" font-size="13.9" text-anchor="start" fill="#000" stroke="#000" stroke-width="0.25" >1x10<tspan dy="-6.4" dx="0.8" font-size="9.2">6</tspan></text>
<line x1="348.3" y1="166" x2="351.3" y2="166" stroke="#000" stroke-width="2" />
<line x1="348.3" y1="127.7" x2="353.1" y2="127.7" stroke="#000" stroke-width="2" />
<text x="354.4" y="132.6" font-size="13.9" text-anchor="start" fill="#000" stroke="#000" stroke-width="0.25" >2x10<tspan dy="-6.4" dx="0.8" font-size="9.2">6</tspan></text>
<line x1="348.3" y1="89.3" x2="351.3" y2="89.3" stroke="#000" stroke-width="2" />
<line x1="348.3" y1="51" x2="353.1" y2="51" stroke="#000" stroke-width="2" />
<text x="354.4" y="55.9" font-size="13.9" text-anchor="start" fill="#000" stroke="#000" stroke-width="0.25" >3x10<tspan dy="-6.4" dx="0.8" font-size="9.2">6</tspan></text>
<text x="21" y="165.5" font-size="19.5" text-anchor="middle" fill="#000" stroke="#000" stroke-width="0.25" transform="rotate(-90 21 165.5)" >Absorbance</text>
<text x="202.4" y="331" font-size="19.95" text-anchor="middle" fill="#000" stroke="#000" stroke-width="0.25" >Wavelength (nm)</text>
<text x="410.4" y="165.2" font-size="19.85" text-anchor="middle" fill="#000" stroke="#000" stroke-width="0.25" transform="rotate(-90 410.4 165.2)" >PL Intensity (a.u.)</text>
<text x="66.2" y="96.3" font-size="17.6" text-anchor="start" fill="#000" stroke="#000" stroke-width="0.25" >n = 1</text>
<text x="181.6" y="226.6" font-size="17.4" text-anchor="start" fill="#000" stroke="#000" stroke-width="0.25" textLength="43.2" lengthAdjust="spacingAndGlyphs">n = ∞</text>
<line x1="269.5" y1="67" x2="298.5" y2="67" stroke="#1414e6" stroke-width="1.7" />
<line x1="269.5" y1="83" x2="298.5" y2="83" stroke="#e8141c" stroke-width="1.7" />
<text x="301.2" y="71.6" font-size="13.8" text-anchor="start" fill="#000" stroke="#000" stroke-width="0.25" >R-film</text>
<text x="301.2" y="87.6" font-size="13.8" text-anchor="start" fill="#000" stroke="#000" stroke-width="0.25" >S-film</text>
</g>
<g id="panel-b">
<defs>
<clipPath id="clipb"><rect x="520.3" y="42" width="307.4" height="226.8"/></clipPath>
<linearGradient id="vgb" gradientUnits="userSpaceOnUse" x1="0" y1="268.9" x2="0" y2="41.5">
<stop offset="0.000" stop-color="#8ee494" stop-opacity="1"/>
<stop offset="0.050" stop-color="#94e48c" stop-opacity="1"/>
<stop offset="0.125" stop-color="#a0e478" stop-opacity="0.85"/>
<stop offset="0.200" stop-color="#a6e46c" stop-opacity="0.55"/>
<stop offset="0.300" stop-color="#a8e468" stop-opacity="0.35"/>
<stop offset="0.400" stop-color="#a8e468" stop-opacity="0.22"/>
<stop offset="0.500" stop-color="#a8e468" stop-opacity="0.1"/>
<stop offset="0.650" stop-color="#a8e468" stop-opacity="0.0"/>
<stop offset="1.000" stop-color="#a8e468" stop-opacity="0.0"/>
</linearGradient>
<radialGradient id="rgb" gradientUnits="userSpaceOnUse" cx="581.4" cy="268.9" r="332.9" gradientTransform="translate(581.4 268.9) scale(1 0.9221) translate(-581.4 -268.9)">
<stop offset="0.000" stop-color="#a4e46c" stop-opacity="1"/>
<stop offset="0.333" stop-color="#aae466" stop-opacity="1"/>
<stop offset="0.391" stop-color="#b0e460" stop-opacity="1"/>
<stop offset="0.407" stop-color="#bce04e" stop-opacity="1"/>
<stop offset="0.481" stop-color="#c6dc3e" stop-opacity="1"/>
<stop offset="0.537" stop-color="#d2d432" stop-opacity="1"/>
<stop offset="0.585" stop-color="#dfbc2e" stop-opacity="1"/>
<stop offset="0.615" stop-color="#e0ae2c" stop-opacity="1"/>
<stop offset="0.807" stop-color="#dfab2b" stop-opacity="1"/>
<stop offset="0.833" stop-color="#d8c22a" stop-opacity="1"/>
<stop offset="0.896" stop-color="#d6c62c" stop-opacity="1"/>
<stop offset="0.926" stop-color="#c8dc32" stop-opacity="1"/>
<stop offset="1.000" stop-color="#c6dc34" stop-opacity="1"/>
</radialGradient>
<linearGradient id="mgb" gradientUnits="userSpaceOnUse" x1="0" y1="268.9" x2="0" y2="41.5">
<stop offset="0.000" stop-color="rgb(0,0,0)"/>
<stop offset="0.150" stop-color="rgb(0,0,0)"/>
<stop offset="0.275" stop-color="rgb(89,89,89)"/>
<stop offset="0.450" stop-color="rgb(216,216,216)"/>
<stop offset="0.600" stop-color="rgb(255,255,255)"/>
<stop offset="1.000" stop-color="rgb(255,255,255)"/>
</linearGradient>
<mask id="mkb" maskUnits="userSpaceOnUse" x="520.3" y="42" width="307.4" height="226.8"><rect x="520.3" y="42" width="307.4" height="226.8" fill="url(#mgb)"/></mask>
<radialGradient id="tgb" gradientUnits="userSpaceOnUse" cx="581.4" cy="32" r="154.1"><stop offset="0" stop-color="#dc9c28" stop-opacity="0.18"/><stop offset="0.55" stop-color="#dc9c28" stop-opacity="0.126"/><stop offset="1" stop-color="#dc9c28" stop-opacity="0"/></radialGradient>
<filter id="b1b" x="-20%" y="-20%" width="140%" height="140%"><feGaussianBlur stdDeviation="0.8"/></filter>
<filter id="b2b" x="-20%" y="-20%" width="140%" height="140%"><feGaussianBlur stdDeviation="2.2"/></filter>
<filter id="b3b" x="-20%" y="-20%" width="140%" height="140%"><feGaussianBlur stdDeviation="7"/></filter>
<filter id="nzb" x="0" y="0" width="100%" height="100%"><feTurbulence type="fractalNoise" baseFrequency="0.9" numOctaves="2" seed="3"/><feColorMatrix type="matrix" values="0 0 0 0 0.75  0 0 0 0 0.55  0 0 0 0 0.1  1.2 0 0 0 -0.5"/></filter>
</defs>
<g clip-path="url(#clipb)">
<rect x="520.3" y="42" width="307.4" height="226.8" fill="url(#rgb)"/>
<rect x="520.3" y="42" width="307.4" height="226.8" fill="url(#vgb)"/>
<rect x="520.3" y="42" width="307.4" height="226.8" fill="url(#tgb)"/>
<ellipse cx="581.4" cy="121.1" rx="76.4" ry="26.2" fill="#e0d636" fill-opacity="0.75" filter="url(#b3b)"/>
<rect x="520.3" y="42" width="307.4" height="226.8" filter="url(#nzb)" opacity="0.5" mask="url(#mkb)"/>
<ellipse cx="581.4" cy="268.9" rx="133.4" ry="123.0" fill="none" stroke="#dccc2a" stroke-width="4.5" stroke-opacity="0.75" filter="url(#b2b)"/>
<ellipse cx="581.4" cy="268.9" rx="132.9" ry="122.6" fill="none" stroke="#dcb428" stroke-width="1.6" stroke-opacity="0.5" filter="url(#b1b)"/>
<ellipse cx="581.4" cy="268.9" rx="191.1" ry="176.2" fill="none" stroke="#d8982a" stroke-width="2.4" stroke-opacity="0.25" filter="url(#b2b)"/>
<ellipse cx="581.4" cy="268.9" rx="271.3" ry="250.1" fill="none" stroke="#d48a26" stroke-width="6" stroke-opacity="0.5" filter="url(#b2b)"/>
<ellipse cx="581.4" cy="268.9" rx="271.3" ry="250.1" fill="none" stroke="#cc7626" stroke-width="1.8" stroke-opacity="0.3" filter="url(#b1b)"/>
<ellipse cx="581.4" cy="268.9" rx="286.1" ry="263.8" fill="none" stroke="#d48a28" stroke-width="3" stroke-opacity="0.25" filter="url(#b2b)"/>
<ellipse cx="581.4" cy="268.9" rx="300.9" ry="277.4" fill="none" stroke="#d08628" stroke-width="3.5" stroke-opacity="0.38" filter="url(#b2b)"/>
<path d="M721.2,148.7L720.6,148.1L720,147.6L719.4,147L718.8,146.4L718.2,145.9L717.6,145.3L717,144.7L716.4,144.2L715.8,143.6L715.2,143.1L714.6,142.5L714,142L713.4,141.4L712.7,140.9L712.1,140.3L711.5,139.8L710.9,139.3L710.2,138.7L709.6,138.2L709,137.7L708.3,137.1L707.7,136.6L707,136.1L706.4,135.6L705.7,135.1L705.1,134.6L704.4,134L703.8,133.5L703.1,133L702.5,132.5L701.8,132L701.1,131.5L700.5,131.1L699.8,130.6L699.1,130.1L698.5,129.6L697.8,129.1L697.1,128.6L696.4,128.2" fill="none" stroke="#d06826" stroke-width="5.5" stroke-opacity="0.55" stroke-linecap="round" filter="url(#b2b)"/>
<path d="M716.5,144.3L716.2,143.9L715.8,143.6L715.4,143.3L715.1,143L714.7,142.6L714.3,142.3L714,142L713.6,141.6L713.2,141.3L712.9,141L712.5,140.7L712.1,140.3L711.7,140L711.4,139.7L711,139.4L710.6,139L710.2,138.7L709.9,138.4L709.5,138.1L709.1,137.8L708.7,137.5L708.3,137.1L707.9,136.8L707.6,136.5L707.2,136.2L706.8,135.9L706.4,135.6L706,135.3L705.6,135L705.2,134.7L704.8,134.4L704.4,134L704,133.7L703.7,133.4L703.3,133.1L702.9,132.8L702.5,132.5L702.1,132.2L701.7,131.9" fill="none" stroke="#c05420" stroke-width="2.0" stroke-opacity="0.4" stroke-linecap="round" filter="url(#b1b)"/>
<path d="M714,260.4L713.9,259.4L713.8,258.4L713.7,257.4L713.6,256.4L713.5,255.4L713.4,254.5L713.3,253.5L713.1,252.5L713,251.5L712.8,250.5L712.7,249.6L712.5,248.6L712.3,247.6L712.1,246.6L711.9,245.7L711.7,244.7L711.5,243.7L711.3,242.8L711,241.8L710.8,240.8L710.5,239.9L710.3,238.9L710,238L709.7,237L709.5,236.1L709.2,235.1L708.9,234.2L708.6,233.2L708.2,232.3L707.9,231.3L707.6,230.4L707.2,229.5L706.9,228.5L706.5,227.6L706.2,226.7L705.8,225.7L705.4,224.8L705,223.9L704.6,223" fill="none" stroke="#dc8222" stroke-width="2.0" stroke-opacity="0.5" stroke-linecap="round" filter="url(#b1b)"/>
<path d="M643.8,160.7L640.8,159.3L637.8,157.9L634.8,156.7L631.7,155.5L628.6,154.3L625.5,153.3L622.4,152.3L619.2,151.4L616,150.6L612.7,149.8L609.5,149.1L606.2,148.5L603,148L599.7,147.5L596.4,147.1L593,146.8L589.7,146.6L586.4,146.4L583.1,146.3L579.7,146.3L576.4,146.4L573.1,146.6L569.8,146.8L566.4,147.1L563.1,147.5L559.8,148L556.6,148.5L553.3,149.1L550.1,149.8L546.8,150.6L543.6,151.4L540.4,152.3L537.3,153.3L534.2,154.3L531.1,155.5L528,156.7L525,157.9L522,159.3L519,160.7" fill="none" stroke="#d8601c" stroke-width="2.0" stroke-opacity="0.5" stroke-linecap="round" filter="url(#b1b)"/>
<rect x="765.8" y="216.6" width="6" height="40.9" fill="#e4d438" opacity="0.45" filter="url(#b2b)"/>
<path d="M529.6,157 Q565.9,141.7 581.4,141.7 Q596.9,141.7 633.2,157 Q596.9,152.2 581.4,152.2 Q565.9,152.2 529.6,157Z" fill="#ec9026" fill-opacity="0.7" filter="url(#b2b)"/>
<path d="M543.2,152.5 Q569.9,143 581.4,143 Q592.9,143 619.6,152.5 Q592.9,150.8 581.4,150.8 Q569.9,150.8 543.2,152.5Z" fill="#bc2a1a" fill-opacity="0.95" filter="url(#b1b)"/>
<path d="M552.4,150.2 Q572.7,144 581.4,144 Q590.1,144 610.4,150.2 Q590.1,150 581.4,150 Q572.7,150 552.4,150.2Z" fill="#7e0e16" fill-opacity="1.0" filter="url(#b1b)"/>
<path d="M712,257.5 L712.7,234.8 L713.9,234.8 L716.3,257.5Z" fill="#d86a1e" fill-opacity="0.85" filter="url(#b1b)"/>
<ellipse cx="714.3" cy="257" rx="2.4" ry="2.0" fill="#8a1410" filter="url(#b1b)"/>
<ellipse cx="581.4" cy="221.1" rx="7.5" ry="1.0" fill="#e8801c" fill-opacity="0.7" filter="url(#b1b)"/>
<ellipse cx="581.4" cy="229.1" rx="4.5" ry="13.6" fill="#f0b830" fill-opacity="0.63" filter="url(#b2b)"/>
<linearGradient id="cyb" gradientUnits="userSpaceOnUse" x1="0" y1="254.7" x2="0" y2="268.8"><stop offset="0" stop-color="#8ee6a0" stop-opacity="0"/><stop offset="0.3" stop-color="#8ee6a0" stop-opacity="0.85"/><stop offset="0.55" stop-color="#60dcb6"/><stop offset="1" stop-color="#48d2c6"/></linearGradient>
<rect x="520.3" y="254.7" width="307.4" height="14.1" fill="url(#cyb)"/>
<ellipse cx="581.4" cy="262.1" rx="27.2" ry="24.6" fill="#38a0d8" fill-opacity="0.6" filter="url(#b1b)"/>
<ellipse cx="581.4" cy="262.1" rx="25.9" ry="23.3" fill="#1c30c8"/>
<path d="M532.4,39.2L533.7,42.2L535,45.3L536.3,48.3L537.6,51.3L538.9,54.3L540.1,57.3L541.3,60.3L542.5,63.4L543.6,66.4L544.7,69.4L545.8,72.4L546.9,75.4L548,78.4L549,81.4L550.1,84.5L551.1,87.5L552.1,90.5L553.1,93.5L554.1,96.5L555.1,99.5L556.1,102.6L557.1,105.6L558,108.6L559,111.6L559.9,114.6L560.8,117.6L561.7,120.6L562.5,123.7L563.3,126.7L564.1,129.7L564.9,132.7L565.7,135.7L566.4,138.7L567.1,141.8L567.9,144.8L568.5,147.8L569.2,150.8L569.8,153.8L570.4,156.8L571,159.8L571.6,162.9L572.1,165.9L572.6,168.9L573.1,171.9L573.6,174.9L574,177.9L574.4,181L574.8,184L575.2,187L575.6,190L576,193L576.4,196L576.7,199L577,202.1L577.3,205.1L577.6,208.1L577.9,211.1L578.2,214.1L578.4,217.1L578.7,220.2L579,223.2L579.3,226.2L579.5,229.2L579.8,232.2L580,235.2L580.2,238.3L580.4,241.3L580.5,244.3L580.6,247.3L582.2,247.3L582.3,244.3L582.4,241.3L582.6,238.3L582.8,235.2L583,232.2L583.3,229.2L583.5,226.2L583.8,223.2L584.1,220.2L584.4,217.1L584.6,214.1L584.9,211.1L585.2,208.1L585.5,205.1L585.8,202.1L586.1,199L586.4,196L586.8,193L587.2,190L587.6,187L588,184L588.4,181L588.8,177.9L589.2,174.9L589.7,171.9L590.2,168.9L590.7,165.9L591.2,162.9L591.8,159.8L592.4,156.8L593,153.8L593.6,150.8L594.3,147.8L594.9,144.8L595.7,141.8L596.4,138.7L597.1,135.7L597.9,132.7L598.7,129.7L599.5,126.7L600.3,123.7L601.1,120.6L602,117.6L602.9,114.6L603.8,111.6L604.8,108.6L605.7,105.6L606.7,102.6L607.7,99.5L608.7,96.5L609.7,93.5L610.7,90.5L611.7,87.5L612.7,84.5L613.8,81.4L614.8,78.4L615.9,75.4L617,72.4L618.1,69.4L619.2,66.4L620.3,63.4L621.5,60.3L622.7,57.3L623.9,54.3L625.2,51.3L626.5,48.3L627.8,45.3L629.1,42.2L630.4,39.2Z" fill="#17186f"/>
</g>
<text x="605.1" y="140.1" font-size="17.6" fill="#1c1c10" textLength="45.2" lengthAdjust="spacingAndGlyphs">(001)</text>
<text x="648.7" y="142.6" font-size="11.4" fill="#2a2a18" textLength="23.2" lengthAdjust="spacingAndGlyphs">n=∞</text>
<text x="591.7" y="221.1" font-size="17.6" fill="#1c1c10" textLength="45.2" lengthAdjust="spacingAndGlyphs">(002)</text>
<text x="635.3" y="223" font-size="11.4" fill="#2a2a18" textLength="19.5" lengthAdjust="spacingAndGlyphs">n=1</text>
<line x1="519.3" y1="42" x2="828.9" y2="42" stroke="#000" stroke-width="2.2" />
<line x1="827.7" y1="42" x2="827.7" y2="268.8" stroke="#000" stroke-width="2.4" />
<line x1="520.3" y1="41" x2="520.3" y2="270.1" stroke="#000" stroke-width="2.6" />
<line x1="519" y1="268.8" x2="828.9" y2="268.8" stroke="#000" stroke-width="2.6" />
<line x1="506.8" y1="268.9" x2="520.3" y2="268.9" stroke="#000" stroke-width="2.3" />
<line x1="512.8" y1="257.5" x2="520.3" y2="257.5" stroke="#000" stroke-width="2.3" />
<line x1="512.8" y1="246.2" x2="520.3" y2="246.2" stroke="#000" stroke-width="2.3" />
<line x1="512.8" y1="234.8" x2="520.3" y2="234.8" stroke="#000" stroke-width="2.3" />
<line x1="512.8" y1="223.4" x2="520.3" y2="223.4" stroke="#000" stroke-width="2.3" />
<line x1="506.8" y1="212" x2="520.3" y2="212" stroke="#000" stroke-width="2.3" />
<line x1="512.8" y1="200.7" x2="520.3" y2="200.7" stroke="#000" stroke-width="2.3" />
<line x1="512.8" y1="189.3" x2="520.3" y2="189.3" stroke="#000" stroke-width="2.3" />
<line x1="512.8" y1="177.9" x2="520.3" y2="177.9" stroke="#000" stroke-width="2.3" />
<line x1="512.8" y1="166.6" x2="520.3" y2="166.6" stroke="#000" stroke-width="2.3" />
<line x1="506.8" y1="155.2" x2="520.3" y2="155.2" stroke="#000" stroke-width="2.3" />
<line x1="512.8" y1="143.8" x2="520.3" y2="143.8" stroke="#000" stroke-width="2.3" />
<line x1="512.8" y1="132.5" x2="520.3" y2="132.5" stroke="#000" stroke-width="2.3" />
<line x1="512.8" y1="121.1" x2="520.3" y2="121.1" stroke="#000" stroke-width="2.3" />
<line x1="512.8" y1="109.7" x2="520.3" y2="109.7" stroke="#000" stroke-width="2.3" />
<line x1="506.8" y1="98.3" x2="520.3" y2="98.3" stroke="#000" stroke-width="2.3" />
<line x1="512.8" y1="87" x2="520.3" y2="87" stroke="#000" stroke-width="2.3" />
<line x1="512.8" y1="75.6" x2="520.3" y2="75.6" stroke="#000" stroke-width="2.3" />
<line x1="512.8" y1="64.2" x2="520.3" y2="64.2" stroke="#000" stroke-width="2.3" />
<line x1="512.8" y1="52.9" x2="520.3" y2="52.9" stroke="#000" stroke-width="2.3" />
<line x1="506.8" y1="41.5" x2="520.3" y2="41.5" stroke="#000" stroke-width="2.3" />
<text transform="translate(502 51.6) scale(1.14 1)" font-size="21" text-anchor="end" class="yh" fill="#303030" stroke="#303030" stroke-width="0.2">2.0</text>
<text transform="translate(502 109.6) scale(1.14 1)" font-size="21" text-anchor="end" class="yh" fill="#303030" stroke="#303030" stroke-width="0.2">1.5</text>
<text transform="translate(502 166.3) scale(1.14 1)" font-size="21" text-anchor="end" class="yh" fill="#303030" stroke="#303030" stroke-width="0.2">1.0</text>
<text transform="translate(502 221) scale(1.14 1)" font-size="21" text-anchor="end" class="yh" fill="#303030" stroke="#303030" stroke-width="0.2">0.5</text>
<text transform="translate(502 276.7) scale(1.14 1)" font-size="21" text-anchor="end" class="yh" fill="#303030" stroke="#303030" stroke-width="0.2">0.0</text>
<line x1="519.8" y1="268.8" x2="519.8" y2="281.3" stroke="#000" stroke-width="2.3" />
<line x1="532.1" y1="268.8" x2="532.1" y2="275.8" stroke="#000" stroke-width="2.3" />
<line x1="544.4" y1="268.8" x2="544.4" y2="275.8" stroke="#000" stroke-width="2.3" />
<line x1="556.7" y1="268.8" x2="556.7" y2="275.8" stroke="#000" stroke-width="2.3" />
<line x1="569.1" y1="268.8" x2="569.1" y2="275.8" stroke="#000" stroke-width="2.3" />
<line x1="581.4" y1="268.8" x2="581.4" y2="281.3" stroke="#000" stroke-width="2.3" />
<line x1="593.7" y1="268.8" x2="593.7" y2="275.8" stroke="#000" stroke-width="2.3" />
<line x1="606.1" y1="268.8" x2="606.1" y2="275.8" stroke="#000" stroke-width="2.3" />
<line x1="618.4" y1="268.8" x2="618.4" y2="275.8" stroke="#000" stroke-width="2.3" />
<line x1="630.7" y1="268.8" x2="630.7" y2="275.8" stroke="#000" stroke-width="2.3" />
<line x1="643" y1="268.8" x2="643" y2="281.3" stroke="#000" stroke-width="2.3" />
<line x1="655.4" y1="268.8" x2="655.4" y2="275.8" stroke="#000" stroke-width="2.3" />
<line x1="667.7" y1="268.8" x2="667.7" y2="275.8" stroke="#000" stroke-width="2.3" />
<line x1="680" y1="268.8" x2="680" y2="275.8" stroke="#000" stroke-width="2.3" />
<line x1="692.4" y1="268.8" x2="692.4" y2="275.8" stroke="#000" stroke-width="2.3" />
<line x1="704.7" y1="268.8" x2="704.7" y2="281.3" stroke="#000" stroke-width="2.3" />
<line x1="717" y1="268.8" x2="717" y2="275.8" stroke="#000" stroke-width="2.3" />
<line x1="729.4" y1="268.8" x2="729.4" y2="275.8" stroke="#000" stroke-width="2.3" />
<line x1="741.7" y1="268.8" x2="741.7" y2="275.8" stroke="#000" stroke-width="2.3" />
<line x1="754" y1="268.8" x2="754" y2="275.8" stroke="#000" stroke-width="2.3" />
<line x1="766.3" y1="268.8" x2="766.3" y2="281.3" stroke="#000" stroke-width="2.3" />
<line x1="778.7" y1="268.8" x2="778.7" y2="275.8" stroke="#000" stroke-width="2.3" />
<line x1="791" y1="268.8" x2="791" y2="275.8" stroke="#000" stroke-width="2.3" />
<line x1="803.3" y1="268.8" x2="803.3" y2="275.8" stroke="#000" stroke-width="2.3" />
<line x1="815.7" y1="268.8" x2="815.7" y2="275.8" stroke="#000" stroke-width="2.3" />
<line x1="828" y1="268.8" x2="828" y2="281.3" stroke="#000" stroke-width="2.3" />
<text transform="translate(529.6 304.7) scale(1.14 1)" font-size="21" text-anchor="middle" class="yh" fill="#303030" stroke="#303030" stroke-width="0.2">-0.5</text>
<text transform="translate(576.9 304.7) scale(1.14 1)" font-size="21" text-anchor="middle" class="yh" fill="#303030" stroke="#303030" stroke-width="0.2">0.0</text>
<text transform="translate(640.5 304.7) scale(1.14 1)" font-size="21" text-anchor="middle" class="yh" fill="#303030" stroke="#303030" stroke-width="0.2">0.5</text>
<text transform="translate(703.6 304.7) scale(1.14 1)" font-size="21" text-anchor="middle" class="yh" fill="#303030" stroke="#303030" stroke-width="0.2">1.0</text>
<text transform="translate(764.3 304.7) scale(1.14 1)" font-size="21" text-anchor="middle" class="yh" fill="#303030" stroke="#303030" stroke-width="0.2">1.5</text>
<text transform="translate(823.8 304.7) scale(1.14 1)" font-size="21" text-anchor="middle" class="yh" fill="#303030" stroke="#303030" stroke-width="0.2">2.0</text>
<text transform="translate(644.5 342) scale(1.15 1)" font-size="28.8" class="yh" fill="#303030" stroke="#303030" stroke-width="0.2">q<tspan dy="6.6" dx="-1.6" font-size="18.6">xy</tspan><tspan dy="-6.6" dx="-0.4"> (</tspan><tspan dx="1.2">Å</tspan><tspan dy="-9.4" dx="2" font-size="18.8">-1</tspan><tspan dy="9.4" dx="1.6">)</tspan></text>
<text transform="translate(447.5 213) rotate(-90) scale(1.15 1)" font-size="28.8" class="yh" fill="#303030" stroke="#303030" stroke-width="0.2">q<tspan dy="6.6" dx="-1.6" font-size="18.6">z</tspan><tspan dy="-6.6" dx="2.9"> (</tspan><tspan dx="1.5">Å</tspan><tspan dy="-9.4" dx="1.6" font-size="18.8">-1</tspan><tspan dy="9.4" dx="-0.3">)</tspan></text>
</g>
<g id="panel-c">
<defs>
<clipPath id="clipc"><rect x="943.4" y="43.2" width="308.5" height="228.8"/></clipPath>
<linearGradient id="vgc" gradientUnits="userSpaceOnUse" x1="0" y1="272" x2="0" y2="43.4">
<stop offset="0.000" stop-color="#86e4a0" stop-opacity="1"/>
<stop offset="0.050" stop-color="#8ce498" stop-opacity="1"/>
<stop offset="0.150" stop-color="#96e488" stop-opacity="0.85"/>
<stop offset="0.250" stop-color="#9ce47c" stop-opacity="0.55"/>
<stop offset="0.350" stop-color="#9ee478" stop-opacity="0.35"/>
<stop offset="0.450" stop-color="#9ee478" stop-opacity="0.22"/>
<stop offset="0.550" stop-color="#9ee478" stop-opacity="0.1"/>
<stop offset="0.700" stop-color="#9ee478" stop-opacity="0.0"/>
<stop offset="1.000" stop-color="#9ee478" stop-opacity="0.0"/>
</linearGradient>
<radialGradient id="rgc" gradientUnits="userSpaceOnUse" cx="1005.4" cy="272" r="332.6" gradientTransform="translate(1005.4 272) scale(1 0.9278) translate(-1005.4 -272)">
<stop offset="0.000" stop-color="#98e482" stop-opacity="1"/>
<stop offset="0.333" stop-color="#9ee47a" stop-opacity="1"/>
<stop offset="0.394" stop-color="#a2e474" stop-opacity="1"/>
<stop offset="0.413" stop-color="#b2e056" stop-opacity="1"/>
<stop offset="0.481" stop-color="#bede44" stop-opacity="1"/>
<stop offset="0.537" stop-color="#ccd636" stop-opacity="1"/>
<stop offset="0.585" stop-color="#ddcb2e" stop-opacity="1"/>
<stop offset="0.615" stop-color="#dec92c" stop-opacity="1"/>
<stop offset="0.807" stop-color="#dfc52a" stop-opacity="1"/>
<stop offset="0.833" stop-color="#d4cc30" stop-opacity="1"/>
<stop offset="0.896" stop-color="#cfd236" stop-opacity="1"/>
<stop offset="0.926" stop-color="#b8de42" stop-opacity="1"/>
<stop offset="1.000" stop-color="#b4de44" stop-opacity="1"/>
</radialGradient>
<linearGradient id="mgc" gradientUnits="userSpaceOnUse" x1="0" y1="272" x2="0" y2="43.4">
<stop offset="0.000" stop-color="rgb(0,0,0)"/>
<stop offset="0.150" stop-color="rgb(0,0,0)"/>
<stop offset="0.275" stop-color="rgb(76,76,76)"/>
<stop offset="0.450" stop-color="rgb(204,204,204)"/>
<stop offset="0.600" stop-color="rgb(255,255,255)"/>
<stop offset="1.000" stop-color="rgb(255,255,255)"/>
</linearGradient>
<mask id="mkc" maskUnits="userSpaceOnUse" x="943.4" y="43.2" width="308.5" height="228.8"><rect x="943.4" y="43.2" width="308.5" height="228.8" fill="url(#mgc)"/></mask>
<radialGradient id="tgc" gradientUnits="userSpaceOnUse" cx="1005.4" cy="33.2" r="154"><stop offset="0" stop-color="#dca82a" stop-opacity="0.12"/><stop offset="0.55" stop-color="#dca82a" stop-opacity="0.08399999999999999"/><stop offset="1" stop-color="#dca82a" stop-opacity="0"/></radialGradient>
<filter id="b1c" x="-20%" y="-20%" width="140%" height="140%"><feGaussianBlur stdDeviation="0.8"/></filter>
<filter id="b2c" x="-20%" y="-20%" width="140%" height="140%"><feGaussianBlur stdDeviation="2.2"/></filter>
<filter id="b3c" x="-20%" y="-20%" width="140%" height="140%"><feGaussianBlur stdDeviation="7"/></filter>
<filter id="nzc" x="0" y="0" width="100%" height="100%"><feTurbulence type="fractalNoise" baseFrequency="0.9" numOctaves="2" seed="3"/><feColorMatrix type="matrix" values="0 0 0 0 0.75  0 0 0 0 0.55  0 0 0 0 0.1  1.2 0 0 0 -0.5"/></filter>
</defs>
<g clip-path="url(#clipc)">
<rect x="943.4" y="43.2" width="308.5" height="228.8" fill="url(#rgc)"/>
<rect x="943.4" y="43.2" width="308.5" height="228.8" fill="url(#vgc)"/>
<rect x="943.4" y="43.2" width="308.5" height="228.8" fill="url(#tgc)"/>
<ellipse cx="1005.4" cy="123.4" rx="76.4" ry="26.3" fill="#d8d83a" fill-opacity="0.6" filter="url(#b3c)"/>
<rect x="943.4" y="43.2" width="308.5" height="228.8" filter="url(#nzc)" opacity="0.4" mask="url(#mkc)"/>
<ellipse cx="1005.4" cy="272" rx="134.8" ry="125.0" fill="none" stroke="#d0d830" stroke-width="5.5" stroke-opacity="0.7" filter="url(#b2c)"/>
<ellipse cx="1005.4" cy="272" rx="134.3" ry="124.6" fill="none" stroke="#d8c02a" stroke-width="1.6" stroke-opacity="0.4" filter="url(#b1c)"/>
<ellipse cx="1005.4" cy="272" rx="191.0" ry="177.2" fill="none" stroke="#dca82a" stroke-width="2.4" stroke-opacity="0.22" filter="url(#b2c)"/>
<ellipse cx="1005.4" cy="272" rx="271.0" ry="251.5" fill="none" stroke="#e0962a" stroke-width="6.5" stroke-opacity="0.55" filter="url(#b2c)"/>
<ellipse cx="1005.4" cy="272" rx="271.0" ry="251.5" fill="none" stroke="#d8702a" stroke-width="1.8" stroke-opacity="0.3" filter="url(#b1c)"/>
<ellipse cx="1005.4" cy="272" rx="285.8" ry="265.2" fill="none" stroke="#e09a2a" stroke-width="3.5" stroke-opacity="0.3" filter="url(#b2c)"/>
<ellipse cx="1005.4" cy="272" rx="300.6" ry="278.9" fill="none" stroke="#dc962a" stroke-width="4" stroke-opacity="0.4" filter="url(#b2c)"/>
<path d="M1145.1,151.2L1144.5,150.6L1143.9,150L1143.3,149.4L1142.7,148.9L1142.1,148.3L1141.5,147.7L1140.9,147.2L1140.3,146.6L1139.7,146.1L1139.1,145.5L1138.5,144.9L1137.9,144.4L1137.3,143.8L1136.6,143.3L1136,142.8L1135.4,142.2L1134.8,141.7L1134.1,141.1L1133.5,140.6L1132.9,140.1L1132.2,139.5L1131.6,139L1130.9,138.5L1130.3,138L1129.6,137.5L1129,136.9L1128.3,136.4L1127.7,135.9L1127,135.4L1126.4,134.9L1125.7,134.4L1125,133.9L1124.4,133.4L1123.7,132.9L1123,132.4L1122.4,132L1121.7,131.5L1121,131L1120.3,130.5" fill="none" stroke="#e0962a" stroke-width="5" stroke-opacity="0.5" stroke-linecap="round" filter="url(#b2c)"/>
<path d="M1139.4,263.3L1139.3,262.6L1139.3,262L1139.2,261.3L1139.1,260.6L1139.1,260L1139,259.3L1138.9,258.6L1138.8,258L1138.8,257.3L1138.7,256.7L1138.6,256L1138.5,255.3L1138.4,254.7L1138.3,254L1138.2,253.3L1138.1,252.7L1137.9,252L1137.8,251.4L1137.7,250.7L1137.6,250L1137.5,249.4L1137.3,248.7L1137.2,248.1L1137,247.4L1136.9,246.8L1136.8,246.1L1136.6,245.4L1136.4,244.8L1136.3,244.1L1136.1,243.5L1136,242.8L1135.8,242.2L1135.6,241.5L1135.4,240.9L1135.3,240.2L1135.1,239.6L1134.9,238.9L1134.7,238.3L1134.5,237.7" fill="none" stroke="#e09426" stroke-width="2.0" stroke-opacity="0.45" stroke-linecap="round" filter="url(#b1c)"/>
<path d="M1062.2,159.1L1059.4,157.9L1056.7,156.8L1053.9,155.8L1051,154.8L1048.2,153.9L1045.4,153.1L1042.5,152.3L1039.6,151.5L1036.7,150.8L1033.7,150.2L1030.8,149.7L1027.8,149.2L1024.9,148.7L1021.9,148.4L1018.9,148L1015.9,147.8L1012.9,147.6L1009.9,147.5L1006.9,147.4L1003.9,147.4L1000.9,147.5L997.9,147.6L994.9,147.8L991.9,148L988.9,148.4L985.9,148.7L983,149.2L980,149.7L977.1,150.2L974.1,150.8L971.2,151.5L968.3,152.3L965.4,153.1L962.6,153.9L959.8,154.8L956.9,155.8L954.1,156.8L951.4,157.9L948.6,159.1" fill="none" stroke="#dc6a20" stroke-width="2.0" stroke-opacity="0.45" stroke-linecap="round" filter="url(#b1c)"/>
<path d="M1240.1,146.3L1238.2,143.2L1236.2,140.1L1234.1,137L1232,134L1229.8,131L1227.6,128L1225.4,125.1L1223.1,122.2L1220.8,119.3L1218.4,116.5L1216,113.7L1213.5,110.9L1211,108.1L1208.4,105.4L1205.8,102.7L1203.2,100.1L1200.5,97.5L1197.8,94.9L1195.1,92.4L1192.3,89.9L1189.4,87.4L1186.6,85L1183.7,82.6L1180.7,80.2L1177.8,77.9L1174.7,75.7L1171.7,73.4L1168.6,71.2L1165.5,69.1L1162.3,67L1159.2,64.9L1156,62.9L1152.7,60.9L1149.4,59L1146.1,57.1L1142.8,55.2L1139.4,53.4L1136.1,51.7L1132.6,50" fill="none" stroke="#d45a26" stroke-width="3.5" stroke-opacity="0.4" stroke-linecap="round" filter="url(#b2c)"/>
<rect x="1189.7" y="219.4" width="6" height="41.1" fill="#d8d840" opacity="0.45" filter="url(#b2c)"/>
<path d="M961,154.8 Q992.1,143.2 1005.4,143.2 Q1018.7,143.2 1049.8,154.8 Q1018.7,152 1005.4,152 Q992.1,152 961,154.8Z" fill="#ec9a28" fill-opacity="0.65" filter="url(#b2c)"/>
<path d="M974.6,151.1 Q996.2,144.4 1005.4,144.4 Q1014.6,144.4 1036.2,151.1 Q1014.6,150.8 1005.4,150.8 Q996.2,150.8 974.6,151.1Z" fill="#cc301c" fill-opacity="0.95" filter="url(#b1c)"/>
<path d="M984.5,149.3 Q999.1,145.2 1005.4,145.2 Q1011.7,145.2 1026.3,149.3 Q1011.7,150 1005.4,150 Q999.1,150 984.5,149.3Z" fill="#8a1216" fill-opacity="1.0" filter="url(#b1c)"/>
<path d="M1135.5,260.6 L1136.2,237.7 L1137.4,237.7 L1139.8,260.6Z" fill="#e8a82a" fill-opacity="0.55" filter="url(#b1c)"/>
<ellipse cx="1137.8" cy="260" rx="2.4" ry="2.0" fill="#d8501c" filter="url(#b1c)"/>
<ellipse cx="1005.4" cy="224" rx="7.5" ry="1.0" fill="#e8801c" fill-opacity="0.45" filter="url(#b1c)"/>
<ellipse cx="1005.4" cy="232" rx="4.5" ry="13.7" fill="#f0b830" fill-opacity="0.405" filter="url(#b2c)"/>
<linearGradient id="cyc" gradientUnits="userSpaceOnUse" x1="0" y1="256" x2="0" y2="272"><stop offset="0" stop-color="#8ae8a4" stop-opacity="0"/><stop offset="0.3" stop-color="#8ae8a4" stop-opacity="0.85"/><stop offset="0.55" stop-color="#58dcba"/><stop offset="1" stop-color="#40d2c8"/></linearGradient>
<rect x="943.4" y="256" width="308.5" height="16" fill="url(#cyc)"/>
<ellipse cx="1005.4" cy="265.1" rx="27.2" ry="24.7" fill="#38a0d8" fill-opacity="0.6" filter="url(#b1c)"/>
<ellipse cx="1005.4" cy="265.1" rx="25.9" ry="23.4" fill="#1c30c8"/>
<path d="M956.4,41.1L957.7,44.1L959,47.2L960.3,50.2L961.6,53.2L962.9,56.3L964.1,59.3L965.3,62.3L966.5,65.4L967.6,68.4L968.7,71.4L969.8,74.5L970.9,77.5L972,80.5L973,83.6L974.1,86.6L975.1,89.6L976.1,92.6L977.1,95.7L978.1,98.7L979.1,101.7L980.1,104.8L981.1,107.8L982,110.8L983,113.9L983.9,116.9L984.8,119.9L985.7,123L986.5,126L987.3,129L988.1,132.1L988.9,135.1L989.7,138.1L990.4,141.2L991.1,144.2L991.9,147.2L992.5,150.2L993.2,153.3L993.8,156.3L994.4,159.3L995,162.4L995.6,165.4L996.1,168.4L996.6,171.5L997.1,174.5L997.6,177.5L998,180.6L998.4,183.6L998.8,186.6L999.2,189.7L999.6,192.7L1000,195.7L1000.4,198.7L1000.7,201.8L1001,204.8L1001.3,207.8L1001.6,210.9L1001.9,213.9L1002.2,216.9L1002.4,220L1002.7,223L1003,226L1003.3,229.1L1003.5,232.1L1003.8,235.1L1004,238.2L1004.2,241.2L1004.4,244.2L1004.5,247.3L1004.6,250.3L1006.2,250.3L1006.3,247.3L1006.4,244.2L1006.6,241.2L1006.8,238.2L1007,235.1L1007.3,232.1L1007.5,229.1L1007.8,226L1008.1,223L1008.4,220L1008.6,216.9L1008.9,213.9L1009.2,210.9L1009.5,207.8L1009.8,204.8L1010.1,201.8L1010.4,198.7L1010.8,195.7L1011.2,192.7L1011.6,189.7L1012,186.6L1012.4,183.6L1012.8,180.6L1013.2,177.5L1013.7,174.5L1014.2,171.5L1014.7,168.4L1015.2,165.4L1015.8,162.4L1016.4,159.3L1017,156.3L1017.6,153.3L1018.3,150.2L1018.9,147.2L1019.7,144.2L1020.4,141.2L1021.1,138.1L1021.9,135.1L1022.7,132.1L1023.5,129L1024.3,126L1025.1,123L1026,119.9L1026.9,116.9L1027.8,113.9L1028.8,110.8L1029.7,107.8L1030.7,104.8L1031.7,101.7L1032.7,98.7L1033.7,95.7L1034.7,92.6L1035.7,89.6L1036.7,86.6L1037.8,83.6L1038.8,80.5L1039.9,77.5L1041,74.5L1042.1,71.4L1043.2,68.4L1044.3,65.4L1045.5,62.3L1046.7,59.3L1047.9,56.3L1049.2,53.2L1050.5,50.2L1051.8,47.2L1053.1,44.1L1054.4,41.1Z" fill="#17186f"/>
</g>
<text x="1042.3" y="143.6" font-size="17.6" fill="#1c1c10" textLength="45.2" lengthAdjust="spacingAndGlyphs">(001)</text>
<text x="1085.9" y="146" font-size="11.4" fill="#2a2a18" textLength="23.2" lengthAdjust="spacingAndGlyphs">n=∞</text>
<text x="1019.2" y="226.4" font-size="17.6" fill="#1c1c10" textLength="45.2" lengthAdjust="spacingAndGlyphs">(002)</text>
<text x="1062.8" y="228.3" font-size="11.4" fill="#2a2a18" textLength="19.5" lengthAdjust="spacingAndGlyphs">n=1</text>
<line x1="942.4" y1="43.2" x2="1253.1" y2="43.2" stroke="#000" stroke-width="2.2" />
<line x1="1251.9" y1="43.2" x2="1251.9" y2="272" stroke="#000" stroke-width="2.4" />
<line x1="943.4" y1="42.2" x2="943.4" y2="273.3" stroke="#000" stroke-width="2.6" />
<line x1="942.1" y1="272" x2="1253.1" y2="272" stroke="#000" stroke-width="2.6" />
<line x1="929.9" y1="272" x2="943.4" y2="272" stroke="#000" stroke-width="2.3" />
<line x1="935.9" y1="260.6" x2="943.4" y2="260.6" stroke="#000" stroke-width="2.3" />
<line x1="935.9" y1="249.1" x2="943.4" y2="249.1" stroke="#000" stroke-width="2.3" />
<line x1="935.9" y1="237.7" x2="943.4" y2="237.7" stroke="#000" stroke-width="2.3" />
<line x1="935.9" y1="226.3" x2="943.4" y2="226.3" stroke="#000" stroke-width="2.3" />
<line x1="929.9" y1="214.8" x2="943.4" y2="214.8" stroke="#000" stroke-width="2.3" />
<line x1="935.9" y1="203.4" x2="943.4" y2="203.4" stroke="#000" stroke-width="2.3" />
<line x1="935.9" y1="192" x2="943.4" y2="192" stroke="#000" stroke-width="2.3" />
<line x1="935.9" y1="180.6" x2="943.4" y2="180.6" stroke="#000" stroke-width="2.3" />
<line x1="935.9" y1="169.1" x2="943.4" y2="169.1" stroke="#000" stroke-width="2.3" />
<line x1="929.9" y1="157.7" x2="943.4" y2="157.7" stroke="#000" stroke-width="2.3" />
<line x1="935.9" y1="146.3" x2="943.4" y2="146.3" stroke="#000" stroke-width="2.3" />
<line x1="935.9" y1="134.8" x2="943.4" y2="134.8" stroke="#000" stroke-width="2.3" />
<line x1="935.9" y1="123.4" x2="943.4" y2="123.4" stroke="#000" stroke-width="2.3" />
<line x1="935.9" y1="112" x2="943.4" y2="112" stroke="#000" stroke-width="2.3" />
<line x1="929.9" y1="100.6" x2="943.4" y2="100.6" stroke="#000" stroke-width="2.3" />
<line x1="935.9" y1="89.1" x2="943.4" y2="89.1" stroke="#000" stroke-width="2.3" />
<line x1="935.9" y1="77.7" x2="943.4" y2="77.7" stroke="#000" stroke-width="2.3" />
<line x1="935.9" y1="66.3" x2="943.4" y2="66.3" stroke="#000" stroke-width="2.3" />
<line x1="935.9" y1="54.8" x2="943.4" y2="54.8" stroke="#000" stroke-width="2.3" />
<line x1="929.9" y1="43.4" x2="943.4" y2="43.4" stroke="#000" stroke-width="2.3" />
<text transform="translate(925 51.6) scale(1.14 1)" font-size="21" text-anchor="end" class="yh" fill="#303030" stroke="#303030" stroke-width="0.2">2.0</text>
<text transform="translate(925 109.5) scale(1.14 1)" font-size="21" text-anchor="end" class="yh" fill="#303030" stroke="#303030" stroke-width="0.2">1.5</text>
<text transform="translate(925 166.5) scale(1.14 1)" font-size="21" text-anchor="end" class="yh" fill="#303030" stroke="#303030" stroke-width="0.2">1.0</text>
<text transform="translate(925 223) scale(1.14 1)" font-size="21" text-anchor="end" class="yh" fill="#303030" stroke="#303030" stroke-width="0.2">0.5</text>
<text transform="translate(925 279.3) scale(1.14 1)" font-size="21" text-anchor="end" class="yh" fill="#303030" stroke="#303030" stroke-width="0.2">0.0</text>
<line x1="943.8" y1="272" x2="943.8" y2="284.5" stroke="#000" stroke-width="2.3" />
<line x1="956.1" y1="272" x2="956.1" y2="279" stroke="#000" stroke-width="2.3" />
<line x1="968.4" y1="272" x2="968.4" y2="279" stroke="#000" stroke-width="2.3" />
<line x1="980.8" y1="272" x2="980.8" y2="279" stroke="#000" stroke-width="2.3" />
<line x1="993.1" y1="272" x2="993.1" y2="279" stroke="#000" stroke-width="2.3" />
<line x1="1005.4" y1="272" x2="1005.4" y2="284.5" stroke="#000" stroke-width="2.3" />
<line x1="1017.7" y1="272" x2="1017.7" y2="279" stroke="#000" stroke-width="2.3" />
<line x1="1030" y1="272" x2="1030" y2="279" stroke="#000" stroke-width="2.3" />
<line x1="1042.4" y1="272" x2="1042.4" y2="279" stroke="#000" stroke-width="2.3" />
<line x1="1054.7" y1="272" x2="1054.7" y2="279" stroke="#000" stroke-width="2.3" />
<line x1="1067" y1="272" x2="1067" y2="284.5" stroke="#000" stroke-width="2.3" />
<line x1="1079.3" y1="272" x2="1079.3" y2="279" stroke="#000" stroke-width="2.3" />
<line x1="1091.6" y1="272" x2="1091.6" y2="279" stroke="#000" stroke-width="2.3" />
<line x1="1104" y1="272" x2="1104" y2="279" stroke="#000" stroke-width="2.3" />
<line x1="1116.3" y1="272" x2="1116.3" y2="279" stroke="#000" stroke-width="2.3" />
<line x1="1128.6" y1="272" x2="1128.6" y2="284.5" stroke="#000" stroke-width="2.3" />
<line x1="1140.9" y1="272" x2="1140.9" y2="279" stroke="#000" stroke-width="2.3" />
<line x1="1153.2" y1="272" x2="1153.2" y2="279" stroke="#000" stroke-width="2.3" />
<line x1="1165.6" y1="272" x2="1165.6" y2="279" stroke="#000" stroke-width="2.3" />
<line x1="1177.9" y1="272" x2="1177.9" y2="279" stroke="#000" stroke-width="2.3" />
<line x1="1190.2" y1="272" x2="1190.2" y2="284.5" stroke="#000" stroke-width="2.3" />
<line x1="1202.5" y1="272" x2="1202.5" y2="279" stroke="#000" stroke-width="2.3" />
<line x1="1214.8" y1="272" x2="1214.8" y2="279" stroke="#000" stroke-width="2.3" />
<line x1="1227.2" y1="272" x2="1227.2" y2="279" stroke="#000" stroke-width="2.3" />
<line x1="1239.5" y1="272" x2="1239.5" y2="279" stroke="#000" stroke-width="2.3" />
<line x1="1251.8" y1="272" x2="1251.8" y2="284.5" stroke="#000" stroke-width="2.3" />
<text transform="translate(952.1 304.9) scale(1.14 1)" font-size="21" text-anchor="middle" class="yh" fill="#303030" stroke="#303030" stroke-width="0.2">-0.5</text>
<text transform="translate(1000.2 304.9) scale(1.14 1)" font-size="21" text-anchor="middle" class="yh" fill="#303030" stroke="#303030" stroke-width="0.2">0.0</text>
<text transform="translate(1064.7 304.9) scale(1.14 1)" font-size="21" text-anchor="middle" class="yh" fill="#303030" stroke="#303030" stroke-width="0.2">0.5</text>
<text transform="translate(1126.7 304.9) scale(1.14 1)" font-size="21" text-anchor="middle" class="yh" fill="#303030" stroke="#303030" stroke-width="0.2">1.0</text>
<text transform="translate(1188.3 304.9) scale(1.14 1)" font-size="21" text-anchor="middle" class="yh" fill="#303030" stroke="#303030" stroke-width="0.2">1.5</text>
<text transform="translate(1247.9 304.9) scale(1.14 1)" font-size="21" text-anchor="middle" class="yh" fill="#303030" stroke="#303030" stroke-width="0.2">2.0</text>
<text transform="translate(1067.8 344.5) scale(1.15 1)" font-size="28.8" class="yh" fill="#303030" stroke="#303030" stroke-width="0.2">q<tspan dy="6.6" dx="-1.6" font-size="18.6">xy</tspan><tspan dy="-6.6" dx="-0.4"> (</tspan><tspan dx="1.2">Å</tspan><tspan dy="-9.4" dx="2" font-size="18.8">-1</tspan><tspan dy="9.4" dx="1.6">)</tspan></text>
<text transform="translate(869.9 214) rotate(-90) scale(1.15 1)" font-size="28.8" class="yh" fill="#303030" stroke="#303030" stroke-width="0.2">q<tspan dy="6.6" dx="-1.6" font-size="18.6">z</tspan><tspan dy="-6.6" dx="2.9"> (</tspan><tspan dx="1.5">Å</tspan><tspan dy="-9.4" dx="1.6" font-size="18.8">-1</tspan><tspan dy="9.4" dx="-0.3">)</tspan></text>
</g>
<g id="panel-d">
<clipPath id="clipD"><rect x="55.0" y="387.0" width="289.5" height="232.79999999999995"/></clipPath>
<g clip-path="url(#clipD)" fill="none" stroke-width="1.35" stroke-linejoin="round">
<path d="M56.2,372.1L56.8,382.1L57.3,390.5L57.8,396.8L58.4,402.2L58.9,407.5L59.5,413.6L60,419.5L60.6,424.9L61.1,430.2L61.7,435.6L62.2,440.5L62.8,444.9L63.3,449.3L63.9,453.7L64.4,457.4L65,460.3L65.5,462.6L66.1,465.1L66.6,467.2L67.2,469.7L67.7,471.9L68.3,474.1L68.8,476L69.4,477.7L69.9,478.4L70.5,479.3L71,480.6L71.6,482.3L72.1,483L72.7,483.6L73.2,484.2L73.8,485.1L74.3,486.1L74.9,486.8L75.4,487.1L76,486.6L76.5,485.4L77.1,483.2L77.6,480.5L78.2,476L78.7,470.2L79.3,463.3L79.8,456.4L80.4,449.6L80.9,443.4L81.5,439.3L82,439.2L82.6,443.3L83.1,448.7L83.7,454.8L84.2,462L84.8,470.7L85.3,478.5L85.9,483.8L86.4,488.2L87,492.2L87.5,495.6L88.1,497.6L88.6,498.9L89.2,499.9L89.7,501.2L90.3,502L90.8,502.8L91.4,503.6L91.9,504.8L92.5,505.9L93,506.1L93.6,506L94.1,506.3L94.7,506.6L95.2,506.8L95.8,507.1L96.3,508.1L96.9,508.7L97.4,508.9L98,508.6L98.5,508.6L99.1,509.3L99.6,509.7L100.2,509.7L100.7,509.7L101.3,510.1L101.8,510.4L102.4,510.3L102.9,510.5L103.5,510.8L104,511.6L104.6,512.2L105.1,512.5L105.7,512.6L106.2,512.7L106.8,513.1L107.3,513.3L107.9,513.6L108.4,513.4L109,513.5L109.5,513.2L110.1,513.1L110.6,513L111.2,513.4L111.7,513.9L112.3,514.7L112.8,515L113.4,514.6L113.9,514.2L114.5,514.7L115,514.9L115.6,514.8L116.1,514.9L116.7,515.1L117.2,515L117.8,514.7L118.3,514.6L118.9,514.6L119.4,514.5L120,514.2L120.5,514.4L121.1,514.3L121.6,514.3L122.2,513.7L122.7,513.5L123.3,513L123.8,512.7L124.4,513L124.9,513.3L125.5,513.8L126,513.8L126.6,514.6L127.1,514.7L127.7,515.4L128.2,515.6L128.8,515.6L129.3,515.8L129.9,516.5L130.4,517L131,516.8L131.5,516.6L132.1,516.5L132.6,516.9L133.2,517.1L133.7,517.3L134.3,517L134.8,516.9L135.4,516.6L135.9,516.9L136.5,517.1L137,517.4L137.6,516.9L138.1,516.5L138.7,515.9L139.2,515.5L139.8,515.3L140.3,515L140.9,514.7L141.4,514L142,513.2L142.5,513.1L143.1,512.6L143.6,511.3L144.2,509.7L144.7,508.8L145.3,506.3L145.8,501.6L146.4,495.6L146.9,489.3L147.5,482.9L148,475.1L148.6,466.7L149.1,458.5L149.7,451.1L150.2,444.3L150.8,439.2L151.3,435.1L151.9,433.3L152.4,433.2L153,434L153.5,435L154.1,436.5L154.6,439.4L155.2,443.8L155.7,449.4L156.3,455.5L156.8,463.4L157.4,472.4L157.9,481.9L158.5,490.2L159,497L159.6,503.3L160.1,508L160.7,511L161.2,513.1L161.8,514.7L162.3,515.6L162.9,516.4L163.4,517.1L164,517.4L164.5,517.4L165.1,517.7L165.6,517.6L166.2,517.8L166.7,518L167.3,518.6L167.8,519L168.4,519.5L168.9,519.2L169.5,518.3L170,518.2L170.6,518.5L171.1,518.9L171.7,519L172.2,519L172.8,518.4L173.3,518.3L173.9,518.9L174.4,519.4L175,519.3L175.5,519.1L176.1,518.8L176.6,518.7L177.2,518.8L177.7,518.7L178.3,518.8L178.8,519.1L179.4,519.6L179.9,519.2L180.5,519L181,518.7L181.6,518.6L182.1,518.8L182.7,518.9L183.2,519.1L183.8,519.2L184.3,519.8L184.9,519.5L185.4,519.3L186,519L186.5,519.2L187.1,518.6L187.6,518.4L188.2,518.6L188.7,518.9L189.3,519L189.8,518.7L190.4,518.9L190.9,518.9L191.5,518.3L192,517.6L192.6,517.2L193.1,516.7L193.7,516.4L194.2,517.2L194.8,517.8L195.3,517.3L195.9,516.4L196.4,516.4L197,516.6L197.5,516.5L198.1,516L198.6,515.6L199.2,515.4L199.7,515.2L200.3,514.8L200.8,514L201.4,513.6L201.9,513.4L202.5,513.8L203,513.8L203.6,514.2L204.1,514.6L204.7,515.3L205.2,516.3L205.8,517.5L206.3,518L206.9,517.9L207.4,517.9L208,517.5L208.5,517.3L209.1,517.5L209.6,518.3L210.2,518.1L210.7,518.1L211.3,518.2L211.8,518.8L212.4,519.2L212.9,519.3L213.5,519.4L214,519.4L214.6,519.2L215.1,518.6L215.7,519L216.2,519.6L216.8,520.3L217.3,520.1L217.9,520L218.4,519.8L219,519.7L219.5,519.6L220.1,519.6L220.6,520.1L221.2,520.4L221.7,520.3L222.3,519.8L222.8,519.6L223.4,520L223.9,520.4L224.5,520.5L225,520.1L225.6,519.7L226.1,519.6L226.7,520L227.2,520.3L227.8,520.2L228.3,519.9L228.9,520.1L229.4,519.8L230,519.7L230.5,519.6L231.1,520.1L231.6,520.2L232.2,520.4L232.7,520.7L233.3,520.9L233.8,520.5L234.4,520.2L234.9,520.3L235.5,520.2L236,520.2L236.6,520.8L237.1,521.1L237.7,520.8L238.2,520.1L238.8,520.2L239.3,520.1L239.9,519.9L240.4,520.2L241,520.5L241.5,520.8L242.1,521L242.6,521.3L243.2,521.1L243.7,521.3L244.3,521.3L244.8,520.8L245.4,520L245.9,520L246.5,520.6L247,521.3L247.6,521L248.1,520.3L248.7,520L249.2,520.3L249.8,520.5L250.3,520.6L250.9,520.6L251.4,520.5L252,520.4L252.5,520.3L253.1,520.3L253.6,520.4L254.2,520.7L254.7,520.9L255.3,520.6L255.8,519.6L256.4,519.3L256.9,518.9L257.5,518.7L258,518.7L258.6,519.3L259.1,519.5L259.7,518.6L260.2,518.1L260.8,517.9L261.3,518.1L261.9,518.4L262.4,518.1L263,516.9L263.5,515.1L264.1,514L264.6,513.2L265.2,511.9L265.7,510.6L266.3,508.5L266.8,506.3L267.4,503.6L267.9,501.1L268.5,497.9L269,494.4L269.6,491.4L270.1,490.8L270.7,493.5L271.2,497.5L271.8,499.9L272.3,499.7L272.9,498.7L273.4,497.7L274,497.6L274.5,499.1L275.1,501.6L275.6,504.8L276.2,508.1L276.7,510.1L277.3,512.2L277.8,514L278.4,515.3L278.9,516L279.5,516.9L280,517.9L280.6,518L281.1,518.3L281.7,518.9L282.2,519.8L282.8,519.7L283.3,519.6L283.9,519.2L284.4,519.9L285,520.3L285.5,520.8L286.1,520.2L286.6,520.1L287.2,519.3L287.7,519.1L288.3,519.3L288.8,519.4L289.4,519.4L289.9,519.3L290.5,519.1L291,518.5L291.6,518.3L292.1,518.4L292.7,518.4L293.2,518.2L293.8,518.2L294.3,518.2L294.9,518.2L295.4,518.4L296,519.2L296.5,519.4L297.1,519.5L297.6,519.6L298.2,519.9L298.7,520.3L299.3,520.7L299.8,521.3L300.4,521.2L300.9,521.3L301.5,521L302,520.9L302.6,521L303.1,521.1L303.7,521.3L304.2,521.2L304.8,521L305.3,520.7L305.9,520.3L306.4,517.9L307,514.9L307.5,514.4L308.1,515.7L308.6,518.2L309.2,518.9L309.7,518.1L310.3,516.8L310.8,516.5L311.4,516.8L311.9,517.9L312.5,519.4L313,520.9L313.6,521.6L314.1,521.9L314.7,522L315.2,522.2L315.8,522.5L316.3,522.7L316.9,522.6L317.4,522.5L318,522L318.5,522.7L319.1,523.3L319.6,523.7L320.2,523.3L320.7,523.5L321.3,523.5L321.8,524L322.4,523.9L322.9,523.4L323.5,522.7L324,522.8L324.6,523.3L325.1,523.9L325.7,524.1L326.2,523.5L326.8,523.2L327.3,523.9L327.9,523.8L328.4,523.7L329,523.4L329.5,524.2L330.1,524.1L330.6,524.1L331.2,523.6L331.7,523.6L332.3,524.1L332.8,524.8L333.4,524.9L333.9,524.4L334.5,523.7L335,523.7L335.6,524L336.1,524.5L336.7,524.6L337.2,524.4L337.8,524.3L338.3,524.5L338.9,525L339.4,525.6L340,525.7L340.5,525L341.1,524.6L341.6,524.5L342.2,524.5L342.7,524.5L343.3,524.5L343.8,524.7L344.4,524.8L344.9,525" stroke="#1515e8"/>
<path d="M55,440L55.5,450L56.1,460L56.6,470.5L57.2,482.2L57.7,494.3L58.3,503.7L58.8,509.5L59.4,514.4L59.9,518.4L60.5,522.2L61,525.6L61.6,528.9L62.1,532.3L62.7,535.8L63.2,539.3L63.8,542.1L64.3,544.7L64.9,547.1L65.4,549.6L66,552L66.5,554.6L67.1,556.6L67.6,558.8L68.2,560.9L68.7,562.9L69.3,564.4L69.8,565.9L70.4,567.1L70.9,568.5L71.5,569.8L72,571.3L72.6,572.2L73.1,572.7L73.7,573.2L74.2,573.9L74.8,574.7L75.3,575.2L75.9,574.8L76.4,574.2L77,572.7L77.5,570.7L78.1,567.8L78.6,564.7L79.2,561.7L79.7,558.8L80.3,556.5L80.8,555.9L81.4,555.9L81.9,556.3L82.5,557.6L83,561.2L83.6,566.7L84.1,572.2L84.7,575.9L85.2,579.6L85.8,582.3L86.3,583.9L86.9,584.7L87.4,585.5L88,586.6L88.5,587.8L89.1,588.7L89.6,589.4L90.2,589.7L90.7,590L91.3,590.5L91.8,591.3L92.4,591.9L92.9,592.3L93.5,592.4L94,592.6L94.6,592.7L95.1,592.6L95.7,593L96.2,593.7L96.8,594.4L97.3,594.2L97.9,594.3L98.4,594.4L99,594.9L99.5,594.7L100.1,594.9L100.6,595.7L101.2,596.6L101.7,596.7L102.3,596.7L102.8,597L103.4,596.8L103.9,596.8L104.5,597.2L105,598.2L105.6,598.9L106.1,599.3L106.7,599.3L107.2,599.1L107.8,599.2L108.3,599.2L108.9,599.1L109.4,599.3L110,600L110.5,600.2L111.1,599.8L111.6,599.5L112.2,599.8L112.7,600L113.3,600.2L113.8,599.8L114.4,599.6L114.9,599.3L115.5,599.7L116,600.1L116.6,599.8L117.1,599.2L117.7,599.1L118.2,599.4L118.8,599.2L119.3,599.3L119.9,599.8L120.4,600.3L121,599.9L121.5,600L122.1,600L122.6,600.3L123.2,600L123.7,599.7L124.3,599.6L124.8,599.8L125.4,600.2L125.9,600.5L126.5,600.6L127,600.5L127.6,600.6L128.1,601.1L128.7,601.2L129.2,601.1L129.8,601.3L130.3,602.2L130.9,602.8L131.4,602.5L132,601.9L132.5,601.8L133.1,601.8L133.6,601.4L134.2,601L134.7,601.1L135.3,601.1L135.8,600.6L136.4,600L136.9,600.3L137.5,600.6L138,600.7L138.6,600.5L139.1,600.7L139.7,600.5L140.2,600.2L140.8,599.5L141.3,599L141.9,598.2L142.4,598L143,597.6L143.5,596.9L144.1,595.5L144.6,594L145.2,592.3L145.7,589.6L146.3,586.3L146.8,581.6L147.4,574.7L147.9,565.6L148.5,556.3L149,546.8L149.6,538.1L150.1,530.2L150.7,523.7L151.2,519.4L151.8,517.6L152.3,518.1L152.9,519L153.4,522.1L154,526.7L154.5,532.8L155.1,539.4L155.6,545.8L156.2,553.9L156.7,563.1L157.3,572.6L157.8,580.2L158.4,586.4L158.9,591.7L159.5,596L160,598.1L160.6,599.4L161.1,600.2L161.7,601L162.2,601.2L162.8,601.9L163.3,602.5L163.9,603.4L164.4,603.7L165,603.8L165.5,603.1L166.1,602.4L166.6,602.3L167.2,602.6L167.7,603L168.3,602.9L168.8,603L169.4,602.9L169.9,603.3L170.5,603.4L171,603.7L171.6,603.6L172.1,603.6L172.7,603.5L173.2,603.1L173.8,603.2L174.3,603.9L174.9,604.9L175.4,605.2L176,604.9L176.5,604.3L177.1,604.2L177.6,604.2L178.2,604.2L178.7,603.8L179.3,603.8L179.8,603.8L180.4,603.8L180.9,603.5L181.5,603.4L182,604L182.6,604.5L183.1,604.3L183.7,603.9L184.2,604.1L184.8,603.9L185.3,603.6L185.9,603.7L186.4,604.1L187,604.1L187.5,604.3L188.1,604.1L188.6,603.9L189.2,603.5L189.7,603.9L190.3,603.6L190.8,603.3L191.4,602.9L191.9,603.5L192.5,603.8L193,604.1L193.6,603.4L194.1,603L194.7,602.6L195.2,602.5L195.8,602.1L196.3,601.8L196.9,601.1L197.4,600.5L198,600.2L198.5,600.2L199.1,600.1L199.6,600.3L200.2,600.4L200.7,600.1L201.3,599.4L201.8,598.7L202.4,598.7L202.9,598.9L203.5,599.3L204,599.7L204.6,599.8L205.1,600.5L205.7,601.7L206.2,602.8L206.8,603L207.3,603.4L207.9,603.5L208.4,603.9L209,604.1L209.5,604.3L210.1,604.3L210.6,603.9L211.2,603.8L211.7,603.8L212.3,604.2L212.8,604L213.4,604.4L213.9,604.6L214.5,604.5L215,603.6L215.6,603.5L216.1,603.8L216.7,604L217.2,604L217.8,603.9L218.3,604.1L218.9,603.9L219.4,603.9L220,604L220.5,604.8L221.1,604.6L221.6,603.9L222.2,603.1L222.7,603.4L223.3,603.4L223.8,603.2L224.4,603.1L224.9,603.1L225.5,602.9L226,602.8L226.6,602.5L227.1,602.3L227.7,602.4L228.2,603L228.8,603.3L229.3,603L229.9,602.8L230.4,603.1L231,603.7L231.5,603.8L232.1,603.4L232.6,603.4L233.2,603.4L233.7,603.3L234.3,602.9L234.8,603.5L235.4,604L235.9,604.4L236.5,604L237,604.1L237.6,603.8L238.1,603.8L238.7,604.3L239.2,604.8L239.8,604.6L240.3,604L240.9,603.9L241.4,604.4L242,604.4L242.5,603.8L243.1,603.4L243.6,603.7L244.2,604.1L244.7,604.6L245.3,604.7L245.8,604.8L246.4,604.4L246.9,604.4L247.5,604.8L248,605.4L248.6,605.1L249.1,604.7L249.7,604.9L250.2,604.8L250.8,604.5L251.3,604.3L251.9,604.7L252.4,604.6L253,604.4L253.5,604.2L254.1,604.2L254.6,604L255.2,603.6L255.7,603.4L256.3,603.5L256.8,603.4L257.4,602.9L257.9,602.7L258.5,602.4L259,602.1L259.6,601.4L260.1,601.5L260.7,601.7L261.2,602.1L261.8,601.4L262.3,600.4L262.9,599.5L263.4,598.7L264,597.5L264.5,595.6L265.1,593.6L265.6,591.4L266.2,589.8L266.7,587.8L267.3,585.5L267.8,582.6L268.4,580.4L268.9,578.8L269.5,578.3L270,579.7L270.6,582L271.1,584.6L271.7,585.9L272.2,585.9L272.8,584.7L273.3,584L273.9,584.1L274.4,585.3L275,587.6L275.5,591L276.1,593.8L276.6,596.2L277.2,597.4L277.7,598.5L278.3,599.6L278.8,601L279.4,601.8L279.9,602.2L280.5,603.2L281,604.4L281.6,604.8L282.1,604.7L282.7,604.7L283.2,604.8L283.8,604.7L284.3,604.7L284.9,604.7L285.4,604.5L286,604.6L286.5,604.8L287.1,604.8L287.6,604.7L288.2,605L288.7,605.3L289.3,605.6L289.8,605.7L290.4,605.8L290.9,606.1L291.5,605.8L292,605.6L292.6,605.2L293.1,605.8L293.7,606.2L294.2,605.9L294.8,605L295.3,604.9L295.9,605.8L296.4,606.3L297,606.3L297.5,606.3L298.1,606.5L298.6,606.6L299.2,606.8L299.7,606.4L300.3,606.4L300.8,606.2L301.4,606.9L301.9,606.9L302.5,606.8L303,606.6L303.6,606.3L304.1,606L304.7,605.3L305.2,605L305.8,603.7L306.3,602.1L306.9,600.5L307.4,600.4L308,601.7L308.5,603.4L309.1,604.6L309.6,604.7L310.2,603.3L310.7,601.2L311.3,599.8L311.8,600.2L312.4,602L312.9,604.6L313.5,606.5L314,607.2L314.6,607L315.1,607.2L315.7,607.4L316.2,607.6L316.8,608L317.3,608.3L317.9,608.8L318.4,608.7L319,608.5L319.5,607.9L320.1,607.9L320.6,608.2L321.2,608.3L321.7,608.2L322.3,607.8L322.8,607.6L323.4,607.3L323.9,607.7L324.5,607.8L325,608.1L325.6,607.9L326.1,608.2L326.7,608.1L327.2,607.6L327.8,607.3L328.3,607.2L328.9,607.3L329.4,608L330,608.4L330.5,608.6L331.1,608L331.6,608.2L332.2,608.1L332.7,608.4L333.3,608.4L333.8,609L334.4,609.1L334.9,608.9L335.5,608.3L336,608.3L336.6,608.3L337.1,608.7L337.7,608.6L338.2,609L338.8,608.5L339.3,608.1L339.9,608.1L340.4,608.5L341,608.3L341.5,608L342.1,607.8L342.6,607.9L343.2,608.7L343.7,609.4L344.3,609.1L344.8,608.3" stroke="#e84848"/>
</g>
<rect x="55.0" y="387.0" width="289.5" height="232.79999999999995" fill="none" stroke="#000" stroke-width="2.3"/>
<line x1="49.2" y1="433.5" x2="55" y2="433.5" stroke="#000" stroke-width="2" />
<line x1="49.2" y1="526.6" x2="55" y2="526.6" stroke="#000" stroke-width="2" />
<line x1="49.2" y1="619.8" x2="55" y2="619.8" stroke="#000" stroke-width="2" />
<line x1="58.3" y1="619.8" x2="58.3" y2="622.7" stroke="#000" stroke-width="2" />
<line x1="77.4" y1="619.8" x2="77.4" y2="625.4" stroke="#000" stroke-width="2" />
<text x="77.4" y="641" font-size="13.5" text-anchor="middle" fill="#000" stroke="#000" stroke-width="0.25" >5</text>
<line x1="96.5" y1="619.8" x2="96.5" y2="622.7" stroke="#000" stroke-width="2" />
<line x1="115.6" y1="619.8" x2="115.6" y2="625.4" stroke="#000" stroke-width="2" />
<text x="115.6" y="641" font-size="13.5" text-anchor="middle" fill="#000" stroke="#000" stroke-width="0.25" >10</text>
<line x1="134.6" y1="619.8" x2="134.6" y2="622.7" stroke="#000" stroke-width="2" />
<line x1="153.7" y1="619.8" x2="153.7" y2="625.4" stroke="#000" stroke-width="2" />
<text x="153.7" y="641" font-size="13.5" text-anchor="middle" fill="#000" stroke="#000" stroke-width="0.25" >15</text>
<line x1="172.8" y1="619.8" x2="172.8" y2="622.7" stroke="#000" stroke-width="2" />
<line x1="191.9" y1="619.8" x2="191.9" y2="625.4" stroke="#000" stroke-width="2" />
<text x="191.9" y="641" font-size="13.5" text-anchor="middle" fill="#000" stroke="#000" stroke-width="0.25" >20</text>
<line x1="211" y1="619.8" x2="211" y2="622.7" stroke="#000" stroke-width="2" />
<line x1="230" y1="619.8" x2="230" y2="625.4" stroke="#000" stroke-width="2" />
<text x="230" y="641" font-size="13.5" text-anchor="middle" fill="#000" stroke="#000" stroke-width="0.25" >25</text>
<line x1="249.1" y1="619.8" x2="249.1" y2="622.7" stroke="#000" stroke-width="2" />
<line x1="268.2" y1="619.8" x2="268.2" y2="625.4" stroke="#000" stroke-width="2" />
<text x="268.2" y="641" font-size="13.5" text-anchor="middle" fill="#000" stroke="#000" stroke-width="0.25" >30</text>
<line x1="287.3" y1="619.8" x2="287.3" y2="622.7" stroke="#000" stroke-width="2" />
<line x1="306.4" y1="619.8" x2="306.4" y2="625.4" stroke="#000" stroke-width="2" />
<text x="306.4" y="641" font-size="13.5" text-anchor="middle" fill="#000" stroke="#000" stroke-width="0.25" >35</text>
<line x1="325.4" y1="619.8" x2="325.4" y2="622.7" stroke="#000" stroke-width="2" />
<line x1="344.5" y1="619.8" x2="344.5" y2="625.4" stroke="#000" stroke-width="2" />
<text x="344.5" y="641" font-size="13.5" text-anchor="middle" fill="#000" stroke="#000" stroke-width="0.25" >40</text>
<text x="38.2" y="503" font-size="20.0" text-anchor="middle" fill="#000" stroke="#000" stroke-width="0.25" transform="rotate(-90 38.2 503)" >Normalized Intensity (a.u.)</text>
<text x="200.6" y="669.5" font-size="20.6" text-anchor="middle" fill="#000" stroke="#000" stroke-width="0.25" >2Theta (°)</text>
<text x="63.7" y="428" font-size="16.6" textLength="43.6" lengthAdjust="spacingAndGlyphs">(002)</text>
<text x="106.4" y="431.3" font-size="10.6" fill="#3c3c3c" textLength="19.7" lengthAdjust="spacingAndGlyphs">n=1</text>
<text x="135.5" y="428.3" font-size="16.6" textLength="43.6" lengthAdjust="spacingAndGlyphs">(001)</text>
<text x="177.5" y="431.6" font-size="10.6" fill="#3c3c3c" textLength="22.6" lengthAdjust="spacingAndGlyphs">n=∞</text>
<text x="179.3" y="508.3" font-size="16.6" textLength="43.6" lengthAdjust="spacingAndGlyphs">(011)</text>
<text x="222.2" y="512.4" font-size="10.6" fill="#3c3c3c" textLength="22.6" lengthAdjust="spacingAndGlyphs">n=∞</text>
<text x="241" y="484.2" font-size="16.6" textLength="43.6" lengthAdjust="spacingAndGlyphs">(002)</text>
<text x="287.1" y="487.9" font-size="10.6" fill="#3c3c3c" textLength="22.6" lengthAdjust="spacingAndGlyphs">n=∞</text>
<text x="277.8" y="508.9" font-size="16.6" textLength="43.6" lengthAdjust="spacingAndGlyphs">(012)</text>
<text x="320.9" y="513.1" font-size="10.6" fill="#3c3c3c" textLength="22.6" lengthAdjust="spacingAndGlyphs">n=∞</text>
<line x1="270" y1="401.5" x2="299.3" y2="401.5" stroke="#1515e8" stroke-width="1.4" />
<line x1="270" y1="418" x2="299.3" y2="418" stroke="#e84848" stroke-width="1.4" />
<text x="303.2" y="406.3" font-size="14" text-anchor="start" fill="#000" stroke="#000" stroke-width="0.25" >R-film</text>
<text x="303.2" y="422.8" font-size="14" text-anchor="start" fill="#000" stroke="#000" stroke-width="0.25" >S-film</text>
</g>
<g id="panel-e">
<clipPath id="clipE"><rect x="514.7" y="385.5" width="290.4" height="232.70000000000005"/></clipPath>
<defs><radialGradient id="gB" cx="0.45" cy="0.42" r="0.6"><stop offset="0" stop-color="#8cbaf4"/><stop offset="0.55" stop-color="#5a9cec"/><stop offset="1" stop-color="#3f82e4"/></radialGradient><radialGradient id="gR" cx="0.45" cy="0.42" r="0.6"><stop offset="0" stop-color="#fba4a4"/><stop offset="0.55" stop-color="#f87a7a"/><stop offset="1" stop-color="#f05c60"/></radialGradient></defs>
<g clip-path="url(#clipE)" stroke-width="0.6">
<g fill="url(#gB)" fill-opacity="0.85" stroke="#2c68d0" stroke-opacity="0.85">
<circle cx="529.2" cy="421.7" r="1.85"/>
<circle cx="529.4" cy="391.8" r="1.85"/>
<circle cx="529.7" cy="392.8" r="1.85"/>
<circle cx="529.9" cy="393.5" r="1.85"/>
<circle cx="530.1" cy="395.3" r="1.85"/>
<circle cx="530.4" cy="396.3" r="1.85"/>
<circle cx="530.6" cy="396.8" r="1.85"/>
<circle cx="530.9" cy="397.9" r="1.85"/>
<circle cx="531.1" cy="399.4" r="1.85"/>
<circle cx="531.3" cy="400.7" r="1.85"/>
<circle cx="531.6" cy="401.9" r="1.85"/>
<circle cx="531.8" cy="402.6" r="1.85"/>
<circle cx="532.1" cy="404.2" r="1.85"/>
<circle cx="532.3" cy="403.9" r="1.85"/>
<circle cx="532.6" cy="405.4" r="1.85"/>
<circle cx="532.8" cy="405.9" r="1.85"/>
<circle cx="533.0" cy="406.2" r="1.85"/>
<circle cx="533.3" cy="407.4" r="1.85"/>
<circle cx="533.5" cy="409.3" r="1.85"/>
<circle cx="533.8" cy="409.2" r="1.85"/>
<circle cx="534.0" cy="410.0" r="1.85"/>
<circle cx="534.3" cy="411.6" r="1.85"/>
<circle cx="534.5" cy="412.5" r="1.85"/>
<circle cx="534.7" cy="412.9" r="1.85"/>
<circle cx="535.0" cy="414.4" r="1.85"/>
<circle cx="535.2" cy="413.7" r="1.85"/>
<circle cx="535.5" cy="416.4" r="1.85"/>
<circle cx="535.7" cy="416.5" r="1.85"/>
<circle cx="535.9" cy="416.8" r="1.85"/>
<circle cx="536.2" cy="417.5" r="1.85"/>
<circle cx="536.4" cy="418.0" r="1.85"/>
<circle cx="536.7" cy="418.6" r="1.85"/>
<circle cx="536.9" cy="419.5" r="1.85"/>
<circle cx="537.2" cy="419.5" r="1.85"/>
<circle cx="537.4" cy="421.8" r="1.85"/>
<circle cx="537.6" cy="421.3" r="1.85"/>
<circle cx="537.9" cy="422.3" r="1.85"/>
<circle cx="538.1" cy="422.5" r="1.85"/>
<circle cx="538.4" cy="423.0" r="1.85"/>
<circle cx="538.6" cy="424.2" r="1.85"/>
<circle cx="538.9" cy="424.7" r="1.85"/>
<circle cx="539.1" cy="424.4" r="1.85"/>
<circle cx="539.3" cy="425.3" r="1.85"/>
<circle cx="539.6" cy="426.4" r="1.85"/>
<circle cx="539.8" cy="425.4" r="1.85"/>
<circle cx="540.1" cy="425.8" r="1.85"/>
<circle cx="540.3" cy="428.4" r="1.85"/>
<circle cx="540.5" cy="427.9" r="1.85"/>
<circle cx="540.8" cy="427.2" r="1.85"/>
<circle cx="541.0" cy="428.6" r="1.85"/>
<circle cx="541.3" cy="429.5" r="1.85"/>
<circle cx="541.5" cy="430.2" r="1.85"/>
<circle cx="541.8" cy="430.9" r="1.85"/>
<circle cx="542.0" cy="431.2" r="1.85"/>
<circle cx="542.2" cy="431.8" r="1.85"/>
<circle cx="542.5" cy="431.5" r="1.85"/>
<circle cx="542.7" cy="432.7" r="1.85"/>
<circle cx="543.0" cy="433.1" r="1.85"/>
<circle cx="543.2" cy="434.1" r="1.85"/>
<circle cx="543.4" cy="433.8" r="1.85"/>
<circle cx="543.7" cy="434.7" r="1.85"/>
<circle cx="543.9" cy="434.7" r="1.85"/>
<circle cx="544.2" cy="434.3" r="1.85"/>
<circle cx="544.4" cy="435.2" r="1.85"/>
<circle cx="544.7" cy="435.5" r="1.85"/>
<circle cx="544.9" cy="436.0" r="1.85"/>
<circle cx="545.1" cy="436.6" r="1.85"/>
<circle cx="545.4" cy="437.1" r="1.85"/>
<circle cx="545.6" cy="437.7" r="1.85"/>
<circle cx="545.9" cy="437.3" r="1.85"/>
<circle cx="546.1" cy="439.0" r="1.85"/>
<circle cx="546.4" cy="437.7" r="1.85"/>
<circle cx="546.6" cy="439.0" r="1.85"/>
<circle cx="546.8" cy="439.9" r="1.85"/>
<circle cx="547.1" cy="440.1" r="1.85"/>
<circle cx="547.3" cy="440.6" r="1.85"/>
<circle cx="547.6" cy="440.4" r="1.85"/>
<circle cx="547.8" cy="441.4" r="1.85"/>
<circle cx="548.0" cy="440.4" r="1.85"/>
<circle cx="548.3" cy="442.2" r="1.85"/>
<circle cx="548.5" cy="443.6" r="1.85"/>
<circle cx="548.8" cy="442.9" r="1.85"/>
<circle cx="549.0" cy="444.2" r="1.85"/>
<circle cx="549.3" cy="443.1" r="1.85"/>
<circle cx="549.5" cy="442.6" r="1.85"/>
<circle cx="549.7" cy="443.3" r="1.85"/>
<circle cx="550.0" cy="445.1" r="1.85"/>
<circle cx="550.2" cy="445.0" r="1.85"/>
<circle cx="550.5" cy="443.5" r="1.85"/>
<circle cx="550.7" cy="444.9" r="1.85"/>
<circle cx="551.0" cy="445.5" r="1.85"/>
<circle cx="551.2" cy="445.0" r="1.85"/>
<circle cx="551.4" cy="444.3" r="1.85"/>
<circle cx="551.7" cy="445.5" r="1.85"/>
<circle cx="551.9" cy="446.7" r="1.85"/>
<circle cx="552.2" cy="446.9" r="1.85"/>
<circle cx="552.4" cy="447.0" r="1.85"/>
<circle cx="552.6" cy="448.3" r="1.85"/>
<circle cx="552.9" cy="449.0" r="1.85"/>
<circle cx="553.1" cy="448.4" r="1.85"/>
<circle cx="553.4" cy="449.5" r="1.85"/>
<circle cx="553.6" cy="449.1" r="1.85"/>
<circle cx="553.9" cy="449.3" r="1.85"/>
<circle cx="554.1" cy="447.9" r="1.85"/>
<circle cx="554.3" cy="450.8" r="1.85"/>
<circle cx="554.6" cy="450.5" r="1.85"/>
<circle cx="554.8" cy="450.8" r="1.85"/>
<circle cx="555.1" cy="450.7" r="1.85"/>
<circle cx="555.3" cy="450.5" r="1.85"/>
<circle cx="555.5" cy="452.1" r="1.85"/>
<circle cx="555.8" cy="452.7" r="1.85"/>
<circle cx="556.0" cy="453.7" r="1.85"/>
<circle cx="556.3" cy="453.4" r="1.85"/>
<circle cx="556.5" cy="452.5" r="1.85"/>
<circle cx="556.8" cy="453.2" r="1.85"/>
<circle cx="557.0" cy="454.4" r="1.85"/>
<circle cx="557.2" cy="454.2" r="1.85"/>
<circle cx="557.5" cy="454.1" r="1.85"/>
<circle cx="557.7" cy="454.0" r="1.85"/>
<circle cx="558.0" cy="455.3" r="1.85"/>
<circle cx="558.2" cy="455.3" r="1.85"/>
<circle cx="558.5" cy="457.0" r="1.85"/>
<circle cx="558.7" cy="456.7" r="1.85"/>
<circle cx="558.9" cy="454.6" r="1.85"/>
<circle cx="559.2" cy="458.3" r="1.85"/>
<circle cx="559.4" cy="456.9" r="1.85"/>
<circle cx="559.7" cy="456.7" r="1.85"/>
<circle cx="559.9" cy="457.5" r="1.85"/>
<circle cx="560.1" cy="458.3" r="1.85"/>
<circle cx="560.4" cy="457.9" r="1.85"/>
<circle cx="560.6" cy="458.1" r="1.85"/>
<circle cx="560.9" cy="458.5" r="1.85"/>
<circle cx="561.1" cy="460.5" r="1.85"/>
<circle cx="561.4" cy="459.2" r="1.85"/>
<circle cx="561.6" cy="460.1" r="1.85"/>
<circle cx="561.8" cy="460.1" r="1.85"/>
<circle cx="562.1" cy="459.7" r="1.85"/>
<circle cx="562.3" cy="459.6" r="1.85"/>
<circle cx="562.6" cy="459.7" r="1.85"/>
<circle cx="562.8" cy="461.3" r="1.85"/>
<circle cx="563.1" cy="460.2" r="1.85"/>
<circle cx="563.3" cy="460.3" r="1.85"/>
<circle cx="563.5" cy="460.6" r="1.85"/>
<circle cx="563.8" cy="460.7" r="1.85"/>
<circle cx="564.0" cy="462.4" r="1.85"/>
<circle cx="564.3" cy="462.7" r="1.85"/>
<circle cx="564.5" cy="462.1" r="1.85"/>
<circle cx="564.7" cy="464.5" r="1.85"/>
<circle cx="565.0" cy="463.3" r="1.85"/>
<circle cx="565.2" cy="464.3" r="1.85"/>
<circle cx="565.5" cy="464.4" r="1.85"/>
<circle cx="565.7" cy="466.1" r="1.85"/>
<circle cx="566.0" cy="465.5" r="1.85"/>
<circle cx="566.2" cy="464.9" r="1.85"/>
<circle cx="566.4" cy="464.3" r="1.85"/>
<circle cx="566.7" cy="464.5" r="1.85"/>
<circle cx="566.9" cy="465.9" r="1.85"/>
<circle cx="567.2" cy="466.3" r="1.85"/>
<circle cx="567.4" cy="467.2" r="1.85"/>
<circle cx="567.6" cy="466.3" r="1.85"/>
<circle cx="567.9" cy="467.2" r="1.85"/>
<circle cx="568.1" cy="466.6" r="1.85"/>
<circle cx="568.4" cy="465.7" r="1.85"/>
<circle cx="568.6" cy="467.8" r="1.85"/>
<circle cx="568.9" cy="469.7" r="1.85"/>
<circle cx="569.1" cy="469.3" r="1.85"/>
<circle cx="569.3" cy="470.3" r="1.85"/>
<circle cx="569.6" cy="470.3" r="1.85"/>
<circle cx="569.8" cy="467.8" r="1.85"/>
<circle cx="570.1" cy="469.3" r="1.85"/>
<circle cx="570.3" cy="471.5" r="1.85"/>
<circle cx="570.6" cy="469.4" r="1.85"/>
<circle cx="570.8" cy="469.0" r="1.85"/>
<circle cx="571.0" cy="471.0" r="1.85"/>
<circle cx="571.3" cy="471.7" r="1.85"/>
<circle cx="571.5" cy="471.6" r="1.85"/>
<circle cx="571.8" cy="471.2" r="1.85"/>
<circle cx="572.0" cy="471.1" r="1.85"/>
<circle cx="572.2" cy="470.7" r="1.85"/>
<circle cx="572.5" cy="471.0" r="1.85"/>
<circle cx="572.7" cy="471.3" r="1.85"/>
<circle cx="573.0" cy="471.4" r="1.85"/>
<circle cx="573.2" cy="472.4" r="1.85"/>
<circle cx="573.5" cy="475.3" r="1.85"/>
<circle cx="573.7" cy="473.9" r="1.85"/>
<circle cx="573.9" cy="473.6" r="1.85"/>
<circle cx="574.2" cy="474.7" r="1.85"/>
<circle cx="574.4" cy="473.5" r="1.85"/>
<circle cx="574.7" cy="475.3" r="1.85"/>
<circle cx="574.9" cy="476.2" r="1.85"/>
<circle cx="575.2" cy="473.7" r="1.85"/>
<circle cx="575.4" cy="474.9" r="1.85"/>
<circle cx="575.6" cy="475.7" r="1.85"/>
<circle cx="575.9" cy="475.1" r="1.85"/>
<circle cx="576.1" cy="475.2" r="1.85"/>
<circle cx="576.4" cy="476.3" r="1.85"/>
<circle cx="576.6" cy="480.1" r="1.85"/>
<circle cx="576.8" cy="478.2" r="1.85"/>
<circle cx="577.1" cy="478.2" r="1.85"/>
<circle cx="577.3" cy="479.1" r="1.85"/>
<circle cx="577.6" cy="477.9" r="1.85"/>
<circle cx="577.8" cy="477.0" r="1.85"/>
<circle cx="578.1" cy="479.3" r="1.85"/>
<circle cx="578.3" cy="480.4" r="1.85"/>
<circle cx="578.5" cy="476.8" r="1.85"/>
<circle cx="578.8" cy="480.1" r="1.85"/>
<circle cx="579.0" cy="481.3" r="1.85"/>
<circle cx="579.3" cy="479.7" r="1.85"/>
<circle cx="579.5" cy="479.8" r="1.85"/>
<circle cx="579.7" cy="481.5" r="1.85"/>
<circle cx="580.0" cy="479.9" r="1.85"/>
<circle cx="580.2" cy="481.7" r="1.85"/>
<circle cx="580.5" cy="482.6" r="1.85"/>
<circle cx="580.7" cy="481.4" r="1.85"/>
<circle cx="581.0" cy="480.9" r="1.85"/>
<circle cx="581.2" cy="483.0" r="1.85"/>
<circle cx="581.4" cy="482.0" r="1.85"/>
<circle cx="581.7" cy="482.9" r="1.85"/>
<circle cx="581.9" cy="479.4" r="1.85"/>
<circle cx="582.2" cy="484.2" r="1.85"/>
<circle cx="582.4" cy="481.7" r="1.85"/>
<circle cx="582.7" cy="483.9" r="1.85"/>
<circle cx="582.9" cy="484.2" r="1.85"/>
<circle cx="583.1" cy="483.3" r="1.85"/>
<circle cx="583.4" cy="483.4" r="1.85"/>
<circle cx="583.6" cy="483.1" r="1.85"/>
<circle cx="583.9" cy="484.6" r="1.85"/>
<circle cx="584.1" cy="486.2" r="1.85"/>
<circle cx="584.3" cy="486.4" r="1.85"/>
<circle cx="584.6" cy="485.2" r="1.85"/>
<circle cx="584.8" cy="485.4" r="1.85"/>
<circle cx="585.1" cy="484.5" r="1.85"/>
<circle cx="585.3" cy="486.1" r="1.85"/>
<circle cx="585.6" cy="485.5" r="1.85"/>
<circle cx="585.8" cy="485.1" r="1.85"/>
<circle cx="586.0" cy="487.3" r="1.85"/>
<circle cx="586.3" cy="489.9" r="1.85"/>
<circle cx="586.5" cy="489.7" r="1.85"/>
<circle cx="586.8" cy="490.4" r="1.85"/>
<circle cx="587.0" cy="486.3" r="1.85"/>
<circle cx="587.3" cy="490.0" r="1.85"/>
<circle cx="587.5" cy="487.3" r="1.85"/>
<circle cx="587.7" cy="488.5" r="1.85"/>
<circle cx="588.0" cy="487.1" r="1.85"/>
<circle cx="588.2" cy="488.4" r="1.85"/>
<circle cx="588.5" cy="490.2" r="1.85"/>
<circle cx="588.7" cy="490.7" r="1.85"/>
<circle cx="588.9" cy="490.4" r="1.85"/>
<circle cx="589.2" cy="490.6" r="1.85"/>
<circle cx="589.4" cy="491.9" r="1.85"/>
<circle cx="589.7" cy="491.4" r="1.85"/>
<circle cx="589.9" cy="489.3" r="1.85"/>
<circle cx="590.2" cy="494.5" r="1.85"/>
<circle cx="590.4" cy="491.8" r="1.85"/>
<circle cx="590.6" cy="493.8" r="1.85"/>
<circle cx="590.9" cy="492.4" r="1.85"/>
<circle cx="591.1" cy="491.6" r="1.85"/>
<circle cx="591.4" cy="493.3" r="1.85"/>
<circle cx="591.6" cy="492.2" r="1.85"/>
<circle cx="591.8" cy="496.2" r="1.85"/>
<circle cx="592.1" cy="492.2" r="1.85"/>
<circle cx="592.3" cy="495.1" r="1.85"/>
<circle cx="592.6" cy="493.5" r="1.85"/>
<circle cx="592.8" cy="494.4" r="1.85"/>
<circle cx="593.1" cy="499.4" r="1.85"/>
<circle cx="593.3" cy="496.4" r="1.85"/>
<circle cx="593.5" cy="495.1" r="1.85"/>
<circle cx="593.8" cy="493.3" r="1.85"/>
<circle cx="594.0" cy="495.5" r="1.85"/>
<circle cx="594.3" cy="495.8" r="1.85"/>
<circle cx="594.5" cy="498.8" r="1.85"/>
<circle cx="594.8" cy="494.4" r="1.85"/>
<circle cx="595.0" cy="494.1" r="1.85"/>
<circle cx="595.2" cy="497.2" r="1.85"/>
<circle cx="595.5" cy="497.8" r="1.85"/>
<circle cx="595.7" cy="500.6" r="1.85"/>
<circle cx="596.0" cy="496.5" r="1.85"/>
<circle cx="596.2" cy="493.9" r="1.85"/>
<circle cx="596.4" cy="497.3" r="1.85"/>
<circle cx="596.7" cy="496.6" r="1.85"/>
<circle cx="596.9" cy="498.0" r="1.85"/>
<circle cx="597.2" cy="501.0" r="1.85"/>
<circle cx="597.4" cy="497.2" r="1.85"/>
<circle cx="597.7" cy="502.0" r="1.85"/>
<circle cx="597.9" cy="500.4" r="1.85"/>
<circle cx="598.1" cy="499.7" r="1.85"/>
<circle cx="598.4" cy="498.9" r="1.85"/>
<circle cx="598.6" cy="500.0" r="1.85"/>
<circle cx="598.9" cy="500.3" r="1.85"/>
<circle cx="599.1" cy="502.6" r="1.85"/>
<circle cx="599.4" cy="503.9" r="1.85"/>
<circle cx="599.6" cy="501.6" r="1.85"/>
<circle cx="599.8" cy="503.2" r="1.85"/>
<circle cx="600.1" cy="504.7" r="1.85"/>
<circle cx="600.3" cy="504.9" r="1.85"/>
<circle cx="600.6" cy="503.6" r="1.85"/>
<circle cx="600.8" cy="506.5" r="1.85"/>
<circle cx="601.0" cy="505.8" r="1.85"/>
<circle cx="601.3" cy="506.6" r="1.85"/>
<circle cx="601.5" cy="503.4" r="1.85"/>
<circle cx="601.8" cy="503.1" r="1.85"/>
<circle cx="602.0" cy="500.6" r="1.85"/>
<circle cx="602.3" cy="507.3" r="1.85"/>
<circle cx="602.5" cy="505.9" r="1.85"/>
<circle cx="602.7" cy="503.1" r="1.85"/>
<circle cx="603.0" cy="505.6" r="1.85"/>
<circle cx="603.2" cy="506.0" r="1.85"/>
<circle cx="603.5" cy="502.4" r="1.85"/>
<circle cx="603.7" cy="506.5" r="1.85"/>
<circle cx="603.9" cy="508.4" r="1.85"/>
<circle cx="604.2" cy="509.1" r="1.85"/>
<circle cx="604.4" cy="505.9" r="1.85"/>
<circle cx="604.7" cy="506.3" r="1.85"/>
<circle cx="604.9" cy="510.0" r="1.85"/>
<circle cx="605.2" cy="509.3" r="1.85"/>
<circle cx="605.4" cy="506.5" r="1.85"/>
<circle cx="605.6" cy="506.6" r="1.85"/>
<circle cx="605.9" cy="509.3" r="1.85"/>
<circle cx="606.1" cy="507.0" r="1.85"/>
<circle cx="606.4" cy="507.3" r="1.85"/>
<circle cx="606.6" cy="512.6" r="1.85"/>
<circle cx="606.9" cy="509.6" r="1.85"/>
<circle cx="607.1" cy="508.4" r="1.85"/>
<circle cx="607.3" cy="510.6" r="1.85"/>
<circle cx="607.6" cy="514.5" r="1.85"/>
<circle cx="607.8" cy="510.5" r="1.85"/>
<circle cx="608.1" cy="508.7" r="1.85"/>
<circle cx="608.3" cy="507.2" r="1.85"/>
<circle cx="608.5" cy="515.7" r="1.85"/>
<circle cx="608.8" cy="505.8" r="1.85"/>
<circle cx="609.0" cy="513.7" r="1.85"/>
<circle cx="609.3" cy="509.3" r="1.85"/>
<circle cx="609.5" cy="509.1" r="1.85"/>
<circle cx="609.8" cy="509.8" r="1.85"/>
<circle cx="610.0" cy="511.7" r="1.85"/>
<circle cx="610.2" cy="514.9" r="1.85"/>
<circle cx="610.5" cy="511.2" r="1.85"/>
<circle cx="610.7" cy="514.5" r="1.85"/>
<circle cx="611.0" cy="519.1" r="1.85"/>
<circle cx="611.2" cy="507.6" r="1.85"/>
<circle cx="611.5" cy="512.0" r="1.85"/>
<circle cx="611.7" cy="509.8" r="1.85"/>
<circle cx="611.9" cy="516.1" r="1.85"/>
<circle cx="612.2" cy="511.0" r="1.85"/>
<circle cx="612.4" cy="511.0" r="1.85"/>
<circle cx="612.7" cy="511.3" r="1.85"/>
<circle cx="612.9" cy="514.9" r="1.85"/>
<circle cx="613.1" cy="518.1" r="1.85"/>
<circle cx="613.4" cy="515.8" r="1.85"/>
<circle cx="613.6" cy="521.2" r="1.85"/>
<circle cx="613.9" cy="520.1" r="1.85"/>
<circle cx="614.1" cy="515.8" r="1.85"/>
<circle cx="614.4" cy="518.8" r="1.85"/>
<circle cx="614.6" cy="516.9" r="1.85"/>
<circle cx="614.8" cy="517.1" r="1.85"/>
<circle cx="615.1" cy="512.7" r="1.85"/>
<circle cx="615.3" cy="514.3" r="1.85"/>
<circle cx="615.6" cy="517.6" r="1.85"/>
<circle cx="615.8" cy="514.9" r="1.85"/>
<circle cx="616.0" cy="520.0" r="1.85"/>
<circle cx="616.3" cy="518.9" r="1.85"/>
<circle cx="616.5" cy="516.3" r="1.85"/>
<circle cx="616.8" cy="521.8" r="1.85"/>
<circle cx="617.0" cy="519.6" r="1.85"/>
<circle cx="617.3" cy="522.5" r="1.85"/>
<circle cx="617.5" cy="519.1" r="1.85"/>
<circle cx="617.7" cy="515.8" r="1.85"/>
<circle cx="618.0" cy="521.8" r="1.85"/>
<circle cx="618.2" cy="519.4" r="1.85"/>
<circle cx="618.5" cy="522.5" r="1.85"/>
<circle cx="618.7" cy="523.5" r="1.85"/>
<circle cx="619.0" cy="524.1" r="1.85"/>
<circle cx="619.2" cy="517.4" r="1.85"/>
<circle cx="619.4" cy="515.7" r="1.85"/>
<circle cx="619.7" cy="520.1" r="1.85"/>
<circle cx="619.9" cy="523.5" r="1.85"/>
<circle cx="620.2" cy="520.1" r="1.85"/>
<circle cx="620.4" cy="522.9" r="1.85"/>
<circle cx="620.6" cy="520.3" r="1.85"/>
<circle cx="620.9" cy="521.8" r="1.85"/>
<circle cx="621.1" cy="522.0" r="1.85"/>
<circle cx="621.4" cy="521.4" r="1.85"/>
<circle cx="621.6" cy="524.7" r="1.85"/>
<circle cx="621.9" cy="524.5" r="1.85"/>
<circle cx="622.1" cy="528.6" r="1.85"/>
<circle cx="622.3" cy="525.1" r="1.85"/>
<circle cx="622.6" cy="528.1" r="1.85"/>
<circle cx="622.8" cy="524.7" r="1.85"/>
<circle cx="623.1" cy="527.2" r="1.85"/>
<circle cx="623.3" cy="524.5" r="1.85"/>
<circle cx="623.6" cy="523.9" r="1.85"/>
<circle cx="623.8" cy="529.5" r="1.85"/>
<circle cx="624.0" cy="527.9" r="1.85"/>
<circle cx="624.3" cy="528.4" r="1.85"/>
<circle cx="624.5" cy="523.9" r="1.85"/>
<circle cx="624.8" cy="521.8" r="1.85"/>
<circle cx="625.0" cy="524.1" r="1.85"/>
<circle cx="625.2" cy="527.7" r="1.85"/>
<circle cx="625.5" cy="522.9" r="1.85"/>
<circle cx="625.7" cy="531.7" r="1.85"/>
<circle cx="626.0" cy="523.3" r="1.85"/>
<circle cx="626.2" cy="529.5" r="1.85"/>
<circle cx="626.5" cy="536.8" r="1.85"/>
<circle cx="626.7" cy="521.0" r="1.85"/>
<circle cx="626.9" cy="523.9" r="1.85"/>
<circle cx="627.2" cy="531.4" r="1.85"/>
<circle cx="627.4" cy="528.1" r="1.85"/>
<circle cx="627.7" cy="529.5" r="1.85"/>
<circle cx="627.9" cy="528.8" r="1.85"/>
<circle cx="628.1" cy="534.0" r="1.85"/>
<circle cx="628.4" cy="531.7" r="1.85"/>
<circle cx="628.6" cy="528.4" r="1.85"/>
<circle cx="628.9" cy="529.3" r="1.85"/>
<circle cx="629.1" cy="526.8" r="1.85"/>
<circle cx="629.4" cy="530.2" r="1.85"/>
<circle cx="629.6" cy="524.3" r="1.85"/>
<circle cx="629.8" cy="533.2" r="1.85"/>
<circle cx="630.1" cy="530.2" r="1.85"/>
<circle cx="630.3" cy="537.7" r="1.85"/>
<circle cx="630.6" cy="535.7" r="1.85"/>
<circle cx="630.8" cy="527.9" r="1.85"/>
<circle cx="631.1" cy="535.1" r="1.85"/>
<circle cx="631.3" cy="530.7" r="1.85"/>
<circle cx="631.5" cy="532.7" r="1.85"/>
<circle cx="631.8" cy="536.0" r="1.85"/>
<circle cx="632.0" cy="534.0" r="1.85"/>
<circle cx="632.3" cy="534.8" r="1.85"/>
<circle cx="632.5" cy="534.8" r="1.85"/>
<circle cx="632.7" cy="531.2" r="1.85"/>
<circle cx="633.0" cy="531.7" r="1.85"/>
<circle cx="633.2" cy="536.0" r="1.85"/>
<circle cx="633.5" cy="537.1" r="1.85"/>
<circle cx="633.7" cy="533.5" r="1.85"/>
<circle cx="634.0" cy="534.8" r="1.85"/>
<circle cx="634.2" cy="531.7" r="1.85"/>
<circle cx="634.4" cy="527.5" r="1.85"/>
<circle cx="634.7" cy="532.7" r="1.85"/>
<circle cx="634.9" cy="535.7" r="1.85"/>
<circle cx="635.2" cy="536.2" r="1.85"/>
<circle cx="635.4" cy="538.9" r="1.85"/>
<circle cx="635.7" cy="539.3" r="1.85"/>
<circle cx="635.9" cy="539.9" r="1.85"/>
<circle cx="636.1" cy="538.0" r="1.85"/>
<circle cx="636.4" cy="538.3" r="1.85"/>
<circle cx="636.6" cy="534.6" r="1.85"/>
<circle cx="636.9" cy="538.6" r="1.85"/>
<circle cx="637.1" cy="538.0" r="1.85"/>
<circle cx="637.3" cy="542.2" r="1.85"/>
<circle cx="637.6" cy="532.7" r="1.85"/>
<circle cx="637.8" cy="536.2" r="1.85"/>
<circle cx="638.1" cy="532.7" r="1.85"/>
<circle cx="638.3" cy="536.0" r="1.85"/>
<circle cx="638.6" cy="534.0" r="1.85"/>
<circle cx="638.8" cy="539.9" r="1.85"/>
<circle cx="639.0" cy="536.8" r="1.85"/>
<circle cx="639.3" cy="530.9" r="1.85"/>
<circle cx="639.5" cy="544.3" r="1.85"/>
<circle cx="639.8" cy="536.0" r="1.85"/>
<circle cx="640.0" cy="534.6" r="1.85"/>
<circle cx="640.2" cy="538.6" r="1.85"/>
<circle cx="640.5" cy="537.7" r="1.85"/>
<circle cx="640.7" cy="536.2" r="1.85"/>
<circle cx="641.0" cy="543.3" r="1.85"/>
<circle cx="641.2" cy="539.6" r="1.85"/>
<circle cx="641.5" cy="544.7" r="1.85"/>
<circle cx="641.7" cy="544.0" r="1.85"/>
<circle cx="641.9" cy="544.0" r="1.85"/>
<circle cx="642.2" cy="542.6" r="1.85"/>
<circle cx="642.4" cy="541.5" r="1.85"/>
<circle cx="642.7" cy="540.9" r="1.85"/>
<circle cx="642.9" cy="548.6" r="1.85"/>
<circle cx="643.2" cy="536.0" r="1.85"/>
<circle cx="643.4" cy="538.9" r="1.85"/>
<circle cx="643.6" cy="540.5" r="1.85"/>
<circle cx="643.9" cy="544.7" r="1.85"/>
<circle cx="644.1" cy="544.0" r="1.85"/>
<circle cx="644.4" cy="541.9" r="1.85"/>
<circle cx="644.6" cy="542.6" r="1.85"/>
<circle cx="644.8" cy="551.7" r="1.85"/>
<circle cx="645.1" cy="541.5" r="1.85"/>
<circle cx="645.3" cy="534.8" r="1.85"/>
<circle cx="645.6" cy="553.1" r="1.85"/>
<circle cx="645.8" cy="541.5" r="1.85"/>
<circle cx="646.1" cy="544.0" r="1.85"/>
<circle cx="646.3" cy="545.8" r="1.85"/>
<circle cx="646.5" cy="540.5" r="1.85"/>
<circle cx="646.8" cy="551.2" r="1.85"/>
<circle cx="647.0" cy="545.5" r="1.85"/>
<circle cx="647.3" cy="540.9" r="1.85"/>
<circle cx="647.5" cy="547.4" r="1.85"/>
<circle cx="647.8" cy="548.6" r="1.85"/>
<circle cx="648.0" cy="546.6" r="1.85"/>
<circle cx="648.2" cy="549.1" r="1.85"/>
<circle cx="648.5" cy="541.5" r="1.85"/>
<circle cx="648.7" cy="551.7" r="1.85"/>
<circle cx="649.0" cy="544.3" r="1.85"/>
<circle cx="649.2" cy="554.1" r="1.85"/>
<circle cx="649.4" cy="545.5" r="1.85"/>
<circle cx="649.7" cy="549.1" r="1.85"/>
<circle cx="649.9" cy="562.4" r="1.85"/>
<circle cx="650.2" cy="549.1" r="1.85"/>
<circle cx="650.4" cy="554.1" r="1.85"/>
<circle cx="650.7" cy="551.2" r="1.85"/>
<circle cx="650.9" cy="543.6" r="1.85"/>
<circle cx="651.1" cy="555.1" r="1.85"/>
<circle cx="651.4" cy="555.1" r="1.85"/>
<circle cx="651.6" cy="544.3" r="1.85"/>
<circle cx="651.9" cy="549.9" r="1.85"/>
<circle cx="652.1" cy="544.3" r="1.85"/>
<circle cx="652.3" cy="549.5" r="1.85"/>
<circle cx="652.6" cy="555.1" r="1.85"/>
<circle cx="652.8" cy="551.7" r="1.85"/>
<circle cx="653.1" cy="546.2" r="1.85"/>
<circle cx="653.3" cy="547.8" r="1.85"/>
<circle cx="653.6" cy="551.7" r="1.85"/>
<circle cx="653.8" cy="551.7" r="1.85"/>
<circle cx="654.0" cy="552.6" r="1.85"/>
<circle cx="654.3" cy="555.1" r="1.85"/>
<circle cx="654.5" cy="544.7" r="1.85"/>
<circle cx="654.8" cy="552.6" r="1.85"/>
<circle cx="655.0" cy="558.8" r="1.85"/>
<circle cx="655.3" cy="555.6" r="1.85"/>
<circle cx="655.5" cy="550.4" r="1.85"/>
<circle cx="655.7" cy="550.8" r="1.85"/>
<circle cx="656.0" cy="554.6" r="1.85"/>
<circle cx="656.2" cy="557.1" r="1.85"/>
<circle cx="656.5" cy="554.1" r="1.85"/>
<circle cx="656.7" cy="563.7" r="1.85"/>
<circle cx="656.9" cy="561.8" r="1.85"/>
<circle cx="657.2" cy="551.2" r="1.85"/>
<circle cx="657.4" cy="557.7" r="1.85"/>
<circle cx="657.7" cy="553.6" r="1.85"/>
<circle cx="657.9" cy="549.9" r="1.85"/>
<circle cx="658.2" cy="552.6" r="1.85"/>
<circle cx="658.4" cy="555.6" r="1.85"/>
<circle cx="658.6" cy="547.0" r="1.85"/>
<circle cx="658.9" cy="553.1" r="1.85"/>
<circle cx="659.1" cy="558.2" r="1.85"/>
<circle cx="659.4" cy="553.1" r="1.85"/>
<circle cx="659.6" cy="555.1" r="1.85"/>
<circle cx="659.9" cy="561.8" r="1.85"/>
<circle cx="660.1" cy="557.1" r="1.85"/>
<circle cx="660.3" cy="558.2" r="1.85"/>
<circle cx="660.6" cy="569.3" r="1.85"/>
<circle cx="660.8" cy="558.8" r="1.85"/>
<circle cx="661.1" cy="559.4" r="1.85"/>
<circle cx="661.3" cy="560.5" r="1.85"/>
<circle cx="661.5" cy="567.8" r="1.85"/>
<circle cx="661.8" cy="560.5" r="1.85"/>
<circle cx="662.0" cy="559.4" r="1.85"/>
<circle cx="662.3" cy="558.8" r="1.85"/>
<circle cx="662.5" cy="565.7" r="1.85"/>
<circle cx="662.8" cy="556.6" r="1.85"/>
<circle cx="663.0" cy="566.4" r="1.85"/>
<circle cx="663.2" cy="561.1" r="1.85"/>
<circle cx="663.5" cy="554.1" r="1.85"/>
<circle cx="663.7" cy="564.3" r="1.85"/>
<circle cx="664.0" cy="563.7" r="1.85"/>
<circle cx="664.2" cy="555.6" r="1.85"/>
<circle cx="664.4" cy="563.0" r="1.85"/>
<circle cx="664.7" cy="563.0" r="1.85"/>
<circle cx="664.9" cy="559.9" r="1.85"/>
<circle cx="665.2" cy="556.6" r="1.85"/>
<circle cx="665.4" cy="576.2" r="1.85"/>
<circle cx="665.7" cy="566.4" r="1.85"/>
<circle cx="665.9" cy="567.8" r="1.85"/>
<circle cx="666.1" cy="568.6" r="1.85"/>
<circle cx="666.4" cy="567.8" r="1.85"/>
<circle cx="666.6" cy="567.8" r="1.85"/>
<circle cx="666.9" cy="561.1" r="1.85"/>
<circle cx="667.1" cy="568.6" r="1.85"/>
<circle cx="667.4" cy="562.4" r="1.85"/>
<circle cx="667.6" cy="561.1" r="1.85"/>
<circle cx="667.8" cy="567.8" r="1.85"/>
<circle cx="668.1" cy="563.0" r="1.85"/>
<circle cx="668.3" cy="556.1" r="1.85"/>
<circle cx="668.6" cy="562.4" r="1.85"/>
<circle cx="668.8" cy="568.6" r="1.85"/>
<circle cx="669.0" cy="565.0" r="1.85"/>
<circle cx="669.3" cy="570.1" r="1.85"/>
<circle cx="669.5" cy="563.7" r="1.85"/>
<circle cx="669.8" cy="560.5" r="1.85"/>
<circle cx="670.0" cy="570.1" r="1.85"/>
<circle cx="670.3" cy="567.1" r="1.85"/>
<circle cx="670.5" cy="559.9" r="1.85"/>
<circle cx="670.7" cy="569.3" r="1.85"/>
<circle cx="671.0" cy="565.0" r="1.85"/>
<circle cx="671.2" cy="572.6" r="1.85"/>
<circle cx="671.5" cy="571.8" r="1.85"/>
<circle cx="671.7" cy="570.1" r="1.85"/>
<circle cx="672.0" cy="556.6" r="1.85"/>
<circle cx="672.2" cy="569.3" r="1.85"/>
<circle cx="672.4" cy="570.9" r="1.85"/>
<circle cx="672.7" cy="570.9" r="1.85"/>
<circle cx="672.9" cy="568.6" r="1.85"/>
<circle cx="673.2" cy="564.3" r="1.85"/>
<circle cx="673.4" cy="567.1" r="1.85"/>
<circle cx="673.6" cy="558.2" r="1.85"/>
<circle cx="673.9" cy="567.1" r="1.85"/>
<circle cx="674.1" cy="561.1" r="1.85"/>
<circle cx="674.4" cy="567.1" r="1.85"/>
<circle cx="674.6" cy="565.7" r="1.85"/>
<circle cx="674.9" cy="579.2" r="1.85"/>
<circle cx="675.1" cy="570.1" r="1.85"/>
<circle cx="675.3" cy="570.1" r="1.85"/>
<circle cx="675.6" cy="571.8" r="1.85"/>
<circle cx="675.8" cy="586.1" r="1.85"/>
<circle cx="676.1" cy="565.7" r="1.85"/>
<circle cx="676.3" cy="572.6" r="1.85"/>
<circle cx="676.5" cy="573.5" r="1.85"/>
<circle cx="676.8" cy="572.6" r="1.85"/>
<circle cx="677.0" cy="572.6" r="1.85"/>
<circle cx="677.3" cy="568.6" r="1.85"/>
<circle cx="677.5" cy="580.3" r="1.85"/>
<circle cx="677.8" cy="578.2" r="1.85"/>
<circle cx="678.0" cy="573.5" r="1.85"/>
<circle cx="678.2" cy="573.5" r="1.85"/>
<circle cx="678.5" cy="576.2" r="1.85"/>
<circle cx="678.7" cy="568.6" r="1.85"/>
<circle cx="679.0" cy="570.1" r="1.85"/>
<circle cx="679.2" cy="573.5" r="1.85"/>
<circle cx="679.5" cy="565.0" r="1.85"/>
<circle cx="679.7" cy="574.4" r="1.85"/>
<circle cx="679.9" cy="568.6" r="1.85"/>
<circle cx="680.2" cy="561.8" r="1.85"/>
<circle cx="680.4" cy="584.9" r="1.85"/>
<circle cx="680.7" cy="568.6" r="1.85"/>
<circle cx="680.9" cy="572.6" r="1.85"/>
<circle cx="681.1" cy="583.7" r="1.85"/>
<circle cx="681.4" cy="577.2" r="1.85"/>
<circle cx="681.6" cy="583.7" r="1.85"/>
<circle cx="681.9" cy="581.4" r="1.85"/>
<circle cx="682.1" cy="572.6" r="1.85"/>
<circle cx="682.4" cy="574.4" r="1.85"/>
<circle cx="682.6" cy="564.3" r="1.85"/>
<circle cx="682.8" cy="579.2" r="1.85"/>
<circle cx="683.1" cy="572.6" r="1.85"/>
<circle cx="683.3" cy="576.2" r="1.85"/>
<circle cx="683.6" cy="578.2" r="1.85"/>
<circle cx="683.8" cy="580.3" r="1.85"/>
<circle cx="684.1" cy="579.2" r="1.85"/>
<circle cx="684.3" cy="578.2" r="1.85"/>
<circle cx="684.5" cy="573.5" r="1.85"/>
<circle cx="684.8" cy="575.3" r="1.85"/>
<circle cx="685.0" cy="569.3" r="1.85"/>
<circle cx="685.3" cy="572.6" r="1.85"/>
<circle cx="685.5" cy="579.2" r="1.85"/>
<circle cx="685.7" cy="569.3" r="1.85"/>
<circle cx="686.0" cy="575.3" r="1.85"/>
<circle cx="686.2" cy="590.2" r="1.85"/>
<circle cx="686.5" cy="586.1" r="1.85"/>
<circle cx="686.7" cy="580.3" r="1.85"/>
<circle cx="687.0" cy="581.4" r="1.85"/>
<circle cx="687.2" cy="579.2" r="1.85"/>
<circle cx="687.4" cy="586.1" r="1.85"/>
<circle cx="687.7" cy="568.6" r="1.85"/>
<circle cx="687.9" cy="568.6" r="1.85"/>
<circle cx="688.2" cy="577.2" r="1.85"/>
<circle cx="688.4" cy="591.7" r="1.85"/>
<circle cx="688.6" cy="582.5" r="1.85"/>
<circle cx="688.9" cy="582.5" r="1.85"/>
<circle cx="689.1" cy="582.5" r="1.85"/>
<circle cx="689.4" cy="586.1" r="1.85"/>
<circle cx="689.6" cy="583.7" r="1.85"/>
<circle cx="689.9" cy="582.5" r="1.85"/>
<circle cx="690.1" cy="594.9" r="1.85"/>
<circle cx="690.3" cy="583.7" r="1.85"/>
<circle cx="690.6" cy="577.2" r="1.85"/>
<circle cx="690.8" cy="581.4" r="1.85"/>
<circle cx="691.1" cy="582.5" r="1.85"/>
<circle cx="691.3" cy="583.7" r="1.85"/>
<circle cx="691.6" cy="577.2" r="1.85"/>
<circle cx="691.8" cy="581.4" r="1.85"/>
<circle cx="692.0" cy="583.7" r="1.85"/>
<circle cx="692.3" cy="586.1" r="1.85"/>
<circle cx="692.5" cy="580.3" r="1.85"/>
<circle cx="692.8" cy="590.2" r="1.85"/>
<circle cx="693.0" cy="586.1" r="1.85"/>
<circle cx="693.2" cy="583.7" r="1.85"/>
<circle cx="693.5" cy="571.8" r="1.85"/>
<circle cx="693.7" cy="591.7" r="1.85"/>
<circle cx="694.0" cy="586.1" r="1.85"/>
<circle cx="694.2" cy="584.9" r="1.85"/>
<circle cx="694.5" cy="580.3" r="1.85"/>
<circle cx="694.7" cy="575.3" r="1.85"/>
<circle cx="694.9" cy="591.7" r="1.85"/>
<circle cx="695.2" cy="602.3" r="1.85"/>
<circle cx="695.4" cy="594.9" r="1.85"/>
<circle cx="695.7" cy="586.1" r="1.85"/>
<circle cx="695.9" cy="593.3" r="1.85"/>
<circle cx="696.2" cy="586.1" r="1.85"/>
<circle cx="696.4" cy="586.1" r="1.85"/>
<circle cx="696.6" cy="580.3" r="1.85"/>
<circle cx="696.9" cy="590.2" r="1.85"/>
<circle cx="697.1" cy="591.7" r="1.85"/>
<circle cx="697.4" cy="591.7" r="1.85"/>
<circle cx="697.6" cy="588.8" r="1.85"/>
<circle cx="697.8" cy="578.2" r="1.85"/>
<circle cx="698.1" cy="593.3" r="1.85"/>
<circle cx="698.3" cy="596.6" r="1.85"/>
<circle cx="698.6" cy="588.8" r="1.85"/>
<circle cx="698.8" cy="596.6" r="1.85"/>
<circle cx="699.1" cy="587.4" r="1.85"/>
<circle cx="699.3" cy="590.2" r="1.85"/>
<circle cx="699.5" cy="591.7" r="1.85"/>
<circle cx="699.8" cy="591.7" r="1.85"/>
<circle cx="700.0" cy="581.4" r="1.85"/>
<circle cx="700.3" cy="593.3" r="1.85"/>
<circle cx="700.5" cy="584.9" r="1.85"/>
<circle cx="700.7" cy="586.1" r="1.85"/>
<circle cx="701.0" cy="594.9" r="1.85"/>
<circle cx="701.2" cy="584.9" r="1.85"/>
<circle cx="701.5" cy="596.6" r="1.85"/>
<circle cx="701.7" cy="594.9" r="1.85"/>
<circle cx="702.0" cy="602.3" r="1.85"/>
<circle cx="702.2" cy="600.3" r="1.85"/>
<circle cx="702.4" cy="591.7" r="1.85"/>
<circle cx="702.7" cy="598.4" r="1.85"/>
<circle cx="702.9" cy="602.3" r="1.85"/>
<circle cx="703.2" cy="598.4" r="1.85"/>
<circle cx="703.4" cy="590.2" r="1.85"/>
<circle cx="703.7" cy="582.5" r="1.85"/>
<circle cx="703.9" cy="590.2" r="1.85"/>
<circle cx="704.1" cy="584.9" r="1.85"/>
<circle cx="704.4" cy="611.9" r="1.85"/>
<circle cx="704.6" cy="606.8" r="1.85"/>
<circle cx="704.9" cy="588.8" r="1.85"/>
<circle cx="705.1" cy="591.7" r="1.85"/>
<circle cx="705.3" cy="600.3" r="1.85"/>
<circle cx="705.6" cy="606.8" r="1.85"/>
<circle cx="705.8" cy="611.9" r="1.85"/>
<circle cx="706.1" cy="591.7" r="1.85"/>
<circle cx="706.3" cy="591.7" r="1.85"/>
<circle cx="706.6" cy="587.4" r="1.85"/>
<circle cx="706.8" cy="598.4" r="1.85"/>
<circle cx="707.0" cy="594.9" r="1.85"/>
<circle cx="707.3" cy="611.9" r="1.85"/>
<circle cx="707.5" cy="614.8" r="1.85"/>
<circle cx="707.8" cy="606.8" r="1.85"/>
<circle cx="708.0" cy="587.4" r="1.85"/>
<circle cx="708.3" cy="583.7" r="1.85"/>
<circle cx="708.5" cy="590.2" r="1.85"/>
<circle cx="708.7" cy="596.6" r="1.85"/>
<circle cx="709.0" cy="598.4" r="1.85"/>
<circle cx="709.2" cy="604.5" r="1.85"/>
<circle cx="709.5" cy="604.5" r="1.85"/>
<circle cx="709.7" cy="591.7" r="1.85"/>
<circle cx="709.9" cy="602.3" r="1.85"/>
<circle cx="710.2" cy="590.2" r="1.85"/>
<circle cx="710.4" cy="586.1" r="1.85"/>
<circle cx="710.7" cy="602.3" r="1.85"/>
<circle cx="710.9" cy="606.8" r="1.85"/>
<circle cx="711.2" cy="582.5" r="1.85"/>
<circle cx="711.4" cy="596.6" r="1.85"/>
<circle cx="711.6" cy="611.9" r="1.85"/>
<circle cx="711.9" cy="590.2" r="1.85"/>
<circle cx="712.1" cy="600.3" r="1.85"/>
<circle cx="712.4" cy="591.7" r="1.85"/>
<circle cx="712.6" cy="596.6" r="1.85"/>
<circle cx="712.8" cy="593.3" r="1.85"/>
<circle cx="713.1" cy="582.5" r="1.85"/>
<circle cx="713.3" cy="611.9" r="1.85"/>
<circle cx="713.6" cy="598.4" r="1.85"/>
<circle cx="713.8" cy="604.5" r="1.85"/>
<circle cx="714.1" cy="604.5" r="1.85"/>
<circle cx="714.3" cy="606.8" r="1.85"/>
<circle cx="714.5" cy="604.5" r="1.85"/>
<circle cx="714.8" cy="611.9" r="1.85"/>
<circle cx="715.0" cy="593.3" r="1.85"/>
<circle cx="715.3" cy="602.3" r="1.85"/>
<circle cx="715.5" cy="602.3" r="1.85"/>
<circle cx="715.8" cy="590.2" r="1.85"/>
<circle cx="716.0" cy="600.3" r="1.85"/>
<circle cx="716.2" cy="606.8" r="1.85"/>
<circle cx="716.5" cy="594.9" r="1.85"/>
<circle cx="716.7" cy="594.9" r="1.85"/>
<circle cx="717.0" cy="611.9" r="1.85"/>
<circle cx="717.2" cy="602.3" r="1.85"/>
<circle cx="717.4" cy="606.8" r="1.85"/>
<circle cx="717.7" cy="593.3" r="1.85"/>
<circle cx="717.9" cy="618.0" r="1.85"/>
<circle cx="718.2" cy="593.3" r="1.85"/>
<circle cx="718.4" cy="596.6" r="1.85"/>
<circle cx="718.7" cy="594.9" r="1.85"/>
<circle cx="718.9" cy="593.3" r="1.85"/>
<circle cx="719.1" cy="606.8" r="1.85"/>
<circle cx="719.4" cy="604.5" r="1.85"/>
<circle cx="719.6" cy="594.9" r="1.85"/>
<circle cx="719.9" cy="596.6" r="1.85"/>
<circle cx="720.1" cy="611.9" r="1.85"/>
<circle cx="720.4" cy="587.4" r="1.85"/>
<circle cx="720.6" cy="604.5" r="1.85"/>
<circle cx="720.8" cy="598.4" r="1.85"/>
<circle cx="721.1" cy="611.9" r="1.85"/>
<circle cx="721.3" cy="600.3" r="1.85"/>
<circle cx="721.6" cy="590.2" r="1.85"/>
<circle cx="721.8" cy="614.8" r="1.85"/>
<circle cx="722.0" cy="604.5" r="1.85"/>
<circle cx="722.3" cy="604.5" r="1.85"/>
<circle cx="722.5" cy="609.2" r="1.85"/>
<circle cx="722.8" cy="618.0" r="1.85"/>
<circle cx="723.0" cy="602.3" r="1.85"/>
<circle cx="723.3" cy="594.9" r="1.85"/>
<circle cx="723.5" cy="611.9" r="1.85"/>
<circle cx="723.7" cy="611.9" r="1.85"/>
<circle cx="724.0" cy="611.9" r="1.85"/>
<circle cx="724.2" cy="602.3" r="1.85"/>
<circle cx="724.5" cy="598.4" r="1.85"/>
<circle cx="724.7" cy="602.3" r="1.85"/>
<circle cx="724.9" cy="600.3" r="1.85"/>
<circle cx="725.2" cy="606.8" r="1.85"/>
<circle cx="725.4" cy="618.0" r="1.85"/>
<circle cx="725.7" cy="591.7" r="1.85"/>
<circle cx="725.9" cy="618.0" r="1.85"/>
<circle cx="726.2" cy="604.5" r="1.85"/>
<circle cx="726.4" cy="611.9" r="1.85"/>
<circle cx="726.6" cy="598.4" r="1.85"/>
<circle cx="726.9" cy="614.8" r="1.85"/>
<circle cx="727.4" cy="604.5" r="1.85"/>
<circle cx="727.6" cy="598.4" r="1.85"/>
<circle cx="727.9" cy="600.3" r="1.85"/>
<circle cx="728.1" cy="611.9" r="1.85"/>
<circle cx="728.3" cy="606.8" r="1.85"/>
<circle cx="728.6" cy="604.5" r="1.85"/>
<circle cx="728.8" cy="614.8" r="1.85"/>
<circle cx="729.1" cy="618.0" r="1.85"/>
<circle cx="729.3" cy="600.3" r="1.85"/>
<circle cx="729.5" cy="600.3" r="1.85"/>
<circle cx="729.8" cy="609.2" r="1.85"/>
<circle cx="730.0" cy="593.3" r="1.85"/>
<circle cx="730.5" cy="618.0" r="1.85"/>
<circle cx="730.8" cy="614.8" r="1.85"/>
<circle cx="731.2" cy="606.8" r="1.85"/>
<circle cx="731.5" cy="618.0" r="1.85"/>
<circle cx="731.7" cy="600.3" r="1.85"/>
<circle cx="732.0" cy="614.8" r="1.85"/>
<circle cx="732.9" cy="604.5" r="1.85"/>
<circle cx="733.7" cy="618.0" r="1.85"/>
<circle cx="734.1" cy="596.6" r="1.85"/>
<circle cx="734.4" cy="609.2" r="1.85"/>
<circle cx="734.9" cy="604.5" r="1.85"/>
<circle cx="735.1" cy="606.8" r="1.85"/>
<circle cx="735.4" cy="598.4" r="1.85"/>
<circle cx="735.6" cy="611.9" r="1.85"/>
<circle cx="735.8" cy="600.3" r="1.85"/>
<circle cx="736.1" cy="618.0" r="1.85"/>
<circle cx="736.3" cy="614.8" r="1.85"/>
<circle cx="736.6" cy="609.2" r="1.85"/>
<circle cx="736.8" cy="604.5" r="1.85"/>
<circle cx="737.0" cy="614.8" r="1.85"/>
<circle cx="737.3" cy="614.8" r="1.85"/>
<circle cx="737.5" cy="596.6" r="1.85"/>
<circle cx="737.8" cy="596.6" r="1.85"/>
<circle cx="738.3" cy="618.0" r="1.85"/>
<circle cx="739.0" cy="614.8" r="1.85"/>
<circle cx="739.2" cy="602.3" r="1.85"/>
<circle cx="739.5" cy="611.9" r="1.85"/>
<circle cx="739.7" cy="618.0" r="1.85"/>
<circle cx="740.0" cy="614.8" r="1.85"/>
<circle cx="740.2" cy="598.4" r="1.85"/>
<circle cx="740.4" cy="596.6" r="1.85"/>
<circle cx="741.6" cy="606.8" r="1.85"/>
<circle cx="741.9" cy="611.9" r="1.85"/>
<circle cx="742.1" cy="611.9" r="1.85"/>
<circle cx="742.4" cy="611.9" r="1.85"/>
<circle cx="742.6" cy="618.0" r="1.85"/>
<circle cx="743.6" cy="618.0" r="1.85"/>
<circle cx="743.8" cy="609.2" r="1.85"/>
<circle cx="744.1" cy="606.8" r="1.85"/>
<circle cx="744.6" cy="598.4" r="1.85"/>
<circle cx="744.8" cy="604.5" r="1.85"/>
<circle cx="745.0" cy="604.5" r="1.85"/>
<circle cx="745.3" cy="614.8" r="1.85"/>
<circle cx="745.8" cy="602.3" r="1.85"/>
<circle cx="746.0" cy="618.0" r="1.85"/>
<circle cx="747.0" cy="609.2" r="1.85"/>
<circle cx="747.2" cy="606.8" r="1.85"/>
<circle cx="747.7" cy="598.4" r="1.85"/>
<circle cx="747.9" cy="596.6" r="1.85"/>
<circle cx="748.4" cy="606.8" r="1.85"/>
<circle cx="748.7" cy="609.2" r="1.85"/>
<circle cx="748.9" cy="606.8" r="1.85"/>
<circle cx="749.4" cy="609.2" r="1.85"/>
<circle cx="749.6" cy="609.2" r="1.85"/>
<circle cx="750.1" cy="606.8" r="1.85"/>
<circle cx="750.4" cy="614.8" r="1.85"/>
<circle cx="751.1" cy="618.0" r="1.85"/>
<circle cx="751.3" cy="609.2" r="1.85"/>
<circle cx="751.6" cy="618.0" r="1.85"/>
<circle cx="752.1" cy="611.9" r="1.85"/>
<circle cx="752.3" cy="618.0" r="1.85"/>
<circle cx="753.0" cy="614.8" r="1.85"/>
<circle cx="753.7" cy="611.9" r="1.85"/>
<circle cx="754.0" cy="618.0" r="1.85"/>
<circle cx="755.9" cy="606.8" r="1.85"/>
<circle cx="756.2" cy="618.0" r="1.85"/>
<circle cx="756.4" cy="611.9" r="1.85"/>
<circle cx="756.7" cy="602.3" r="1.85"/>
<circle cx="757.1" cy="609.2" r="1.85"/>
<circle cx="757.4" cy="611.9" r="1.85"/>
<circle cx="757.9" cy="606.8" r="1.85"/>
<circle cx="759.3" cy="618.0" r="1.85"/>
<circle cx="760.0" cy="614.8" r="1.85"/>
<circle cx="760.3" cy="618.0" r="1.85"/>
<circle cx="761.2" cy="618.0" r="1.85"/>
<circle cx="761.7" cy="609.2" r="1.85"/>
<circle cx="762.0" cy="614.8" r="1.85"/>
<circle cx="762.5" cy="602.3" r="1.85"/>
<circle cx="762.7" cy="618.0" r="1.85"/>
<circle cx="762.9" cy="618.0" r="1.85"/>
<circle cx="763.2" cy="609.2" r="1.85"/>
<circle cx="764.6" cy="614.8" r="1.85"/>
<circle cx="765.4" cy="609.2" r="1.85"/>
<circle cx="765.8" cy="611.9" r="1.85"/>
<circle cx="766.6" cy="614.8" r="1.85"/>
<circle cx="767.5" cy="611.9" r="1.85"/>
<circle cx="767.8" cy="614.8" r="1.85"/>
<circle cx="768.8" cy="611.9" r="1.85"/>
<circle cx="769.0" cy="614.8" r="1.85"/>
<circle cx="769.5" cy="609.2" r="1.85"/>
<circle cx="770.9" cy="611.9" r="1.85"/>
<circle cx="773.1" cy="614.8" r="1.85"/>
<circle cx="774.3" cy="618.0" r="1.85"/>
<circle cx="775.0" cy="614.8" r="1.85"/>
<circle cx="776.0" cy="600.3" r="1.85"/>
<circle cx="776.3" cy="606.8" r="1.85"/>
<circle cx="777.2" cy="614.8" r="1.85"/>
<circle cx="779.6" cy="606.8" r="1.85"/>
<circle cx="780.4" cy="614.8" r="1.85"/>
<circle cx="782.5" cy="618.0" r="1.85"/>
<circle cx="786.7" cy="606.8" r="1.85"/>
<circle cx="786.9" cy="609.2" r="1.85"/>
<circle cx="787.4" cy="618.0" r="1.85"/>
<circle cx="787.9" cy="618.0" r="1.85"/>
<circle cx="790.8" cy="611.9" r="1.85"/>
</g>
<g fill="url(#gR)" fill-opacity="0.85" stroke="#e03c44" stroke-opacity="0.85">
<circle cx="529.2" cy="410.7" r="1.85"/>
<circle cx="529.4" cy="390.5" r="1.85"/>
<circle cx="529.7" cy="391.4" r="1.85"/>
<circle cx="529.9" cy="392.9" r="1.85"/>
<circle cx="530.1" cy="395.1" r="1.85"/>
<circle cx="530.4" cy="395.6" r="1.85"/>
<circle cx="530.6" cy="396.9" r="1.85"/>
<circle cx="530.9" cy="398.7" r="1.85"/>
<circle cx="531.1" cy="399.6" r="1.85"/>
<circle cx="531.3" cy="400.9" r="1.85"/>
<circle cx="531.6" cy="402.4" r="1.85"/>
<circle cx="531.8" cy="403.6" r="1.85"/>
<circle cx="532.1" cy="404.8" r="1.85"/>
<circle cx="532.3" cy="405.8" r="1.85"/>
<circle cx="532.6" cy="407.4" r="1.85"/>
<circle cx="532.8" cy="407.9" r="1.85"/>
<circle cx="533.0" cy="409.6" r="1.85"/>
<circle cx="533.3" cy="410.0" r="1.85"/>
<circle cx="533.5" cy="411.1" r="1.85"/>
<circle cx="533.8" cy="412.5" r="1.85"/>
<circle cx="534.0" cy="412.7" r="1.85"/>
<circle cx="534.3" cy="413.1" r="1.85"/>
<circle cx="534.5" cy="414.3" r="1.85"/>
<circle cx="534.7" cy="416.5" r="1.85"/>
<circle cx="535.0" cy="416.2" r="1.85"/>
<circle cx="535.2" cy="417.6" r="1.85"/>
<circle cx="535.5" cy="418.5" r="1.85"/>
<circle cx="535.7" cy="419.7" r="1.85"/>
<circle cx="535.9" cy="420.2" r="1.85"/>
<circle cx="536.2" cy="420.3" r="1.85"/>
<circle cx="536.4" cy="421.5" r="1.85"/>
<circle cx="536.7" cy="422.8" r="1.85"/>
<circle cx="536.9" cy="423.7" r="1.85"/>
<circle cx="537.2" cy="424.3" r="1.85"/>
<circle cx="537.4" cy="424.5" r="1.85"/>
<circle cx="537.6" cy="424.5" r="1.85"/>
<circle cx="537.9" cy="426.9" r="1.85"/>
<circle cx="538.1" cy="427.0" r="1.85"/>
<circle cx="538.4" cy="427.9" r="1.85"/>
<circle cx="538.6" cy="428.7" r="1.85"/>
<circle cx="538.9" cy="428.7" r="1.85"/>
<circle cx="539.1" cy="429.3" r="1.85"/>
<circle cx="539.3" cy="431.1" r="1.85"/>
<circle cx="539.6" cy="431.5" r="1.85"/>
<circle cx="539.8" cy="430.8" r="1.85"/>
<circle cx="540.1" cy="431.9" r="1.85"/>
<circle cx="540.3" cy="432.4" r="1.85"/>
<circle cx="540.5" cy="433.6" r="1.85"/>
<circle cx="540.8" cy="434.1" r="1.85"/>
<circle cx="541.0" cy="434.1" r="1.85"/>
<circle cx="541.3" cy="435.3" r="1.85"/>
<circle cx="541.5" cy="436.3" r="1.85"/>
<circle cx="541.8" cy="436.1" r="1.85"/>
<circle cx="542.0" cy="436.0" r="1.85"/>
<circle cx="542.2" cy="437.8" r="1.85"/>
<circle cx="542.5" cy="437.0" r="1.85"/>
<circle cx="542.7" cy="437.7" r="1.85"/>
<circle cx="543.0" cy="439.3" r="1.85"/>
<circle cx="543.2" cy="439.2" r="1.85"/>
<circle cx="543.4" cy="439.8" r="1.85"/>
<circle cx="543.7" cy="439.8" r="1.85"/>
<circle cx="543.9" cy="440.3" r="1.85"/>
<circle cx="544.2" cy="442.1" r="1.85"/>
<circle cx="544.4" cy="442.7" r="1.85"/>
<circle cx="544.7" cy="441.5" r="1.85"/>
<circle cx="544.9" cy="442.6" r="1.85"/>
<circle cx="545.1" cy="442.8" r="1.85"/>
<circle cx="545.4" cy="443.4" r="1.85"/>
<circle cx="545.6" cy="443.0" r="1.85"/>
<circle cx="545.9" cy="445.4" r="1.85"/>
<circle cx="546.1" cy="444.2" r="1.85"/>
<circle cx="546.4" cy="446.0" r="1.85"/>
<circle cx="546.6" cy="445.3" r="1.85"/>
<circle cx="546.8" cy="445.3" r="1.85"/>
<circle cx="547.1" cy="447.8" r="1.85"/>
<circle cx="547.3" cy="446.9" r="1.85"/>
<circle cx="547.6" cy="447.9" r="1.85"/>
<circle cx="547.8" cy="448.3" r="1.85"/>
<circle cx="548.0" cy="448.5" r="1.85"/>
<circle cx="548.3" cy="449.8" r="1.85"/>
<circle cx="548.5" cy="450.2" r="1.85"/>
<circle cx="548.8" cy="449.3" r="1.85"/>
<circle cx="549.0" cy="449.6" r="1.85"/>
<circle cx="549.3" cy="451.1" r="1.85"/>
<circle cx="549.5" cy="452.3" r="1.85"/>
<circle cx="549.7" cy="449.7" r="1.85"/>
<circle cx="550.0" cy="451.0" r="1.85"/>
<circle cx="550.2" cy="452.0" r="1.85"/>
<circle cx="550.5" cy="453.6" r="1.85"/>
<circle cx="550.7" cy="453.6" r="1.85"/>
<circle cx="551.0" cy="453.3" r="1.85"/>
<circle cx="551.2" cy="454.8" r="1.85"/>
<circle cx="551.4" cy="453.0" r="1.85"/>
<circle cx="551.7" cy="454.6" r="1.85"/>
<circle cx="551.9" cy="454.8" r="1.85"/>
<circle cx="552.2" cy="456.5" r="1.85"/>
<circle cx="552.4" cy="456.7" r="1.85"/>
<circle cx="552.6" cy="457.0" r="1.85"/>
<circle cx="552.9" cy="456.5" r="1.85"/>
<circle cx="553.1" cy="457.4" r="1.85"/>
<circle cx="553.4" cy="457.8" r="1.85"/>
<circle cx="553.6" cy="457.6" r="1.85"/>
<circle cx="553.9" cy="458.1" r="1.85"/>
<circle cx="554.1" cy="457.3" r="1.85"/>
<circle cx="554.3" cy="459.2" r="1.85"/>
<circle cx="554.6" cy="460.4" r="1.85"/>
<circle cx="554.8" cy="459.8" r="1.85"/>
<circle cx="555.1" cy="458.9" r="1.85"/>
<circle cx="555.3" cy="461.1" r="1.85"/>
<circle cx="555.5" cy="460.9" r="1.85"/>
<circle cx="555.8" cy="461.6" r="1.85"/>
<circle cx="556.0" cy="461.3" r="1.85"/>
<circle cx="556.3" cy="461.8" r="1.85"/>
<circle cx="556.5" cy="463.2" r="1.85"/>
<circle cx="556.8" cy="463.0" r="1.85"/>
<circle cx="557.0" cy="462.3" r="1.85"/>
<circle cx="557.2" cy="462.5" r="1.85"/>
<circle cx="557.5" cy="463.0" r="1.85"/>
<circle cx="557.7" cy="463.4" r="1.85"/>
<circle cx="558.0" cy="465.0" r="1.85"/>
<circle cx="558.2" cy="465.4" r="1.85"/>
<circle cx="558.5" cy="464.5" r="1.85"/>
<circle cx="558.7" cy="466.9" r="1.85"/>
<circle cx="558.9" cy="466.1" r="1.85"/>
<circle cx="559.2" cy="468.4" r="1.85"/>
<circle cx="559.4" cy="467.2" r="1.85"/>
<circle cx="559.7" cy="467.9" r="1.85"/>
<circle cx="559.9" cy="468.8" r="1.85"/>
<circle cx="560.1" cy="467.3" r="1.85"/>
<circle cx="560.4" cy="469.0" r="1.85"/>
<circle cx="560.6" cy="469.0" r="1.85"/>
<circle cx="560.9" cy="469.2" r="1.85"/>
<circle cx="561.1" cy="470.1" r="1.85"/>
<circle cx="561.4" cy="468.1" r="1.85"/>
<circle cx="561.6" cy="470.5" r="1.85"/>
<circle cx="561.8" cy="470.1" r="1.85"/>
<circle cx="562.1" cy="472.1" r="1.85"/>
<circle cx="562.3" cy="471.6" r="1.85"/>
<circle cx="562.6" cy="471.7" r="1.85"/>
<circle cx="562.8" cy="472.1" r="1.85"/>
<circle cx="563.1" cy="472.7" r="1.85"/>
<circle cx="563.3" cy="472.2" r="1.85"/>
<circle cx="563.5" cy="471.0" r="1.85"/>
<circle cx="563.8" cy="473.2" r="1.85"/>
<circle cx="564.0" cy="473.6" r="1.85"/>
<circle cx="564.3" cy="474.2" r="1.85"/>
<circle cx="564.5" cy="471.3" r="1.85"/>
<circle cx="564.7" cy="472.6" r="1.85"/>
<circle cx="565.0" cy="474.1" r="1.85"/>
<circle cx="565.2" cy="474.3" r="1.85"/>
<circle cx="565.5" cy="476.2" r="1.85"/>
<circle cx="565.7" cy="475.9" r="1.85"/>
<circle cx="566.0" cy="475.8" r="1.85"/>
<circle cx="566.2" cy="476.2" r="1.85"/>
<circle cx="566.4" cy="477.8" r="1.85"/>
<circle cx="566.7" cy="478.0" r="1.85"/>
<circle cx="566.9" cy="476.8" r="1.85"/>
<circle cx="567.2" cy="477.3" r="1.85"/>
<circle cx="567.4" cy="480.7" r="1.85"/>
<circle cx="567.6" cy="478.3" r="1.85"/>
<circle cx="567.9" cy="477.2" r="1.85"/>
<circle cx="568.1" cy="479.8" r="1.85"/>
<circle cx="568.4" cy="479.0" r="1.85"/>
<circle cx="568.6" cy="481.5" r="1.85"/>
<circle cx="568.9" cy="478.9" r="1.85"/>
<circle cx="569.1" cy="481.7" r="1.85"/>
<circle cx="569.3" cy="482.2" r="1.85"/>
<circle cx="569.6" cy="481.3" r="1.85"/>
<circle cx="569.8" cy="478.4" r="1.85"/>
<circle cx="570.1" cy="482.3" r="1.85"/>
<circle cx="570.3" cy="483.5" r="1.85"/>
<circle cx="570.6" cy="481.6" r="1.85"/>
<circle cx="570.8" cy="482.2" r="1.85"/>
<circle cx="571.0" cy="480.7" r="1.85"/>
<circle cx="571.3" cy="484.8" r="1.85"/>
<circle cx="571.5" cy="485.6" r="1.85"/>
<circle cx="571.8" cy="484.2" r="1.85"/>
<circle cx="572.0" cy="483.6" r="1.85"/>
<circle cx="572.2" cy="483.9" r="1.85"/>
<circle cx="572.5" cy="483.3" r="1.85"/>
<circle cx="572.7" cy="487.1" r="1.85"/>
<circle cx="573.0" cy="486.4" r="1.85"/>
<circle cx="573.2" cy="485.8" r="1.85"/>
<circle cx="573.5" cy="484.8" r="1.85"/>
<circle cx="573.7" cy="485.5" r="1.85"/>
<circle cx="573.9" cy="487.1" r="1.85"/>
<circle cx="574.2" cy="488.2" r="1.85"/>
<circle cx="574.4" cy="485.9" r="1.85"/>
<circle cx="574.7" cy="486.1" r="1.85"/>
<circle cx="574.9" cy="484.1" r="1.85"/>
<circle cx="575.2" cy="488.3" r="1.85"/>
<circle cx="575.4" cy="486.1" r="1.85"/>
<circle cx="575.6" cy="490.3" r="1.85"/>
<circle cx="575.9" cy="489.7" r="1.85"/>
<circle cx="576.1" cy="490.2" r="1.85"/>
<circle cx="576.4" cy="490.2" r="1.85"/>
<circle cx="576.6" cy="491.0" r="1.85"/>
<circle cx="576.8" cy="490.9" r="1.85"/>
<circle cx="577.1" cy="490.4" r="1.85"/>
<circle cx="577.3" cy="491.3" r="1.85"/>
<circle cx="577.6" cy="490.0" r="1.85"/>
<circle cx="577.8" cy="491.3" r="1.85"/>
<circle cx="578.1" cy="491.5" r="1.85"/>
<circle cx="578.3" cy="489.7" r="1.85"/>
<circle cx="578.5" cy="491.6" r="1.85"/>
<circle cx="578.8" cy="492.2" r="1.85"/>
<circle cx="579.0" cy="492.7" r="1.85"/>
<circle cx="579.3" cy="492.9" r="1.85"/>
<circle cx="579.5" cy="492.4" r="1.85"/>
<circle cx="579.7" cy="494.8" r="1.85"/>
<circle cx="580.0" cy="492.1" r="1.85"/>
<circle cx="580.2" cy="491.8" r="1.85"/>
<circle cx="580.5" cy="492.6" r="1.85"/>
<circle cx="580.7" cy="495.5" r="1.85"/>
<circle cx="581.0" cy="497.6" r="1.85"/>
<circle cx="581.2" cy="495.9" r="1.85"/>
<circle cx="581.4" cy="495.3" r="1.85"/>
<circle cx="581.7" cy="494.5" r="1.85"/>
<circle cx="581.9" cy="496.3" r="1.85"/>
<circle cx="582.2" cy="496.8" r="1.85"/>
<circle cx="582.4" cy="494.3" r="1.85"/>
<circle cx="582.7" cy="498.0" r="1.85"/>
<circle cx="582.9" cy="495.6" r="1.85"/>
<circle cx="583.1" cy="496.1" r="1.85"/>
<circle cx="583.4" cy="500.0" r="1.85"/>
<circle cx="583.6" cy="497.6" r="1.85"/>
<circle cx="583.9" cy="499.2" r="1.85"/>
<circle cx="584.1" cy="500.2" r="1.85"/>
<circle cx="584.3" cy="502.0" r="1.85"/>
<circle cx="584.6" cy="501.8" r="1.85"/>
<circle cx="584.8" cy="498.7" r="1.85"/>
<circle cx="585.1" cy="500.3" r="1.85"/>
<circle cx="585.3" cy="499.5" r="1.85"/>
<circle cx="585.6" cy="502.0" r="1.85"/>
<circle cx="585.8" cy="501.0" r="1.85"/>
<circle cx="586.0" cy="501.2" r="1.85"/>
<circle cx="586.3" cy="503.8" r="1.85"/>
<circle cx="586.5" cy="504.2" r="1.85"/>
<circle cx="586.8" cy="500.8" r="1.85"/>
<circle cx="587.0" cy="501.6" r="1.85"/>
<circle cx="587.3" cy="503.8" r="1.85"/>
<circle cx="587.5" cy="502.5" r="1.85"/>
<circle cx="587.7" cy="501.5" r="1.85"/>
<circle cx="588.0" cy="499.8" r="1.85"/>
<circle cx="588.2" cy="504.8" r="1.85"/>
<circle cx="588.5" cy="502.3" r="1.85"/>
<circle cx="588.7" cy="500.1" r="1.85"/>
<circle cx="588.9" cy="503.8" r="1.85"/>
<circle cx="589.2" cy="501.7" r="1.85"/>
<circle cx="589.4" cy="509.5" r="1.85"/>
<circle cx="589.7" cy="502.2" r="1.85"/>
<circle cx="589.9" cy="505.0" r="1.85"/>
<circle cx="590.2" cy="508.8" r="1.85"/>
<circle cx="590.4" cy="504.1" r="1.85"/>
<circle cx="590.6" cy="503.9" r="1.85"/>
<circle cx="590.9" cy="503.9" r="1.85"/>
<circle cx="591.1" cy="504.1" r="1.85"/>
<circle cx="591.4" cy="506.6" r="1.85"/>
<circle cx="591.6" cy="508.2" r="1.85"/>
<circle cx="591.8" cy="507.9" r="1.85"/>
<circle cx="592.1" cy="507.3" r="1.85"/>
<circle cx="592.3" cy="506.9" r="1.85"/>
<circle cx="592.6" cy="508.8" r="1.85"/>
<circle cx="592.8" cy="507.9" r="1.85"/>
<circle cx="593.1" cy="506.7" r="1.85"/>
<circle cx="593.3" cy="507.9" r="1.85"/>
<circle cx="593.5" cy="504.7" r="1.85"/>
<circle cx="593.8" cy="505.1" r="1.85"/>
<circle cx="594.0" cy="511.7" r="1.85"/>
<circle cx="594.3" cy="510.8" r="1.85"/>
<circle cx="594.5" cy="512.6" r="1.85"/>
<circle cx="594.8" cy="512.6" r="1.85"/>
<circle cx="595.0" cy="509.3" r="1.85"/>
<circle cx="595.2" cy="512.7" r="1.85"/>
<circle cx="595.5" cy="513.1" r="1.85"/>
<circle cx="595.7" cy="511.7" r="1.85"/>
<circle cx="596.0" cy="509.8" r="1.85"/>
<circle cx="596.2" cy="512.4" r="1.85"/>
<circle cx="596.4" cy="512.7" r="1.85"/>
<circle cx="596.7" cy="510.2" r="1.85"/>
<circle cx="596.9" cy="511.4" r="1.85"/>
<circle cx="597.2" cy="511.7" r="1.85"/>
<circle cx="597.4" cy="510.9" r="1.85"/>
<circle cx="597.7" cy="515.4" r="1.85"/>
<circle cx="597.9" cy="513.0" r="1.85"/>
<circle cx="598.1" cy="515.1" r="1.85"/>
<circle cx="598.4" cy="511.7" r="1.85"/>
<circle cx="598.6" cy="512.4" r="1.85"/>
<circle cx="598.9" cy="516.8" r="1.85"/>
<circle cx="599.1" cy="511.9" r="1.85"/>
<circle cx="599.4" cy="517.6" r="1.85"/>
<circle cx="599.6" cy="512.7" r="1.85"/>
<circle cx="599.8" cy="514.9" r="1.85"/>
<circle cx="600.1" cy="517.6" r="1.85"/>
<circle cx="600.3" cy="518.4" r="1.85"/>
<circle cx="600.6" cy="516.8" r="1.85"/>
<circle cx="600.8" cy="516.5" r="1.85"/>
<circle cx="601.0" cy="518.2" r="1.85"/>
<circle cx="601.3" cy="515.5" r="1.85"/>
<circle cx="601.5" cy="520.3" r="1.85"/>
<circle cx="601.8" cy="517.3" r="1.85"/>
<circle cx="602.0" cy="517.6" r="1.85"/>
<circle cx="602.3" cy="522.3" r="1.85"/>
<circle cx="602.5" cy="517.3" r="1.85"/>
<circle cx="602.7" cy="521.4" r="1.85"/>
<circle cx="603.0" cy="524.9" r="1.85"/>
<circle cx="603.2" cy="520.1" r="1.85"/>
<circle cx="603.5" cy="519.6" r="1.85"/>
<circle cx="603.7" cy="517.3" r="1.85"/>
<circle cx="603.9" cy="520.7" r="1.85"/>
<circle cx="604.2" cy="516.5" r="1.85"/>
<circle cx="604.4" cy="516.8" r="1.85"/>
<circle cx="604.7" cy="517.7" r="1.85"/>
<circle cx="604.9" cy="517.4" r="1.85"/>
<circle cx="605.2" cy="519.8" r="1.85"/>
<circle cx="605.4" cy="522.3" r="1.85"/>
<circle cx="605.6" cy="519.6" r="1.85"/>
<circle cx="605.9" cy="519.1" r="1.85"/>
<circle cx="606.1" cy="521.0" r="1.85"/>
<circle cx="606.4" cy="522.5" r="1.85"/>
<circle cx="606.6" cy="526.2" r="1.85"/>
<circle cx="606.9" cy="520.7" r="1.85"/>
<circle cx="607.1" cy="521.8" r="1.85"/>
<circle cx="607.3" cy="526.2" r="1.85"/>
<circle cx="607.6" cy="522.7" r="1.85"/>
<circle cx="607.8" cy="521.6" r="1.85"/>
<circle cx="608.1" cy="523.7" r="1.85"/>
<circle cx="608.3" cy="521.8" r="1.85"/>
<circle cx="608.5" cy="522.2" r="1.85"/>
<circle cx="608.8" cy="528.4" r="1.85"/>
<circle cx="609.0" cy="525.3" r="1.85"/>
<circle cx="609.3" cy="523.5" r="1.85"/>
<circle cx="609.5" cy="522.5" r="1.85"/>
<circle cx="609.8" cy="521.6" r="1.85"/>
<circle cx="610.0" cy="530.9" r="1.85"/>
<circle cx="610.2" cy="525.7" r="1.85"/>
<circle cx="610.5" cy="524.1" r="1.85"/>
<circle cx="610.7" cy="522.9" r="1.85"/>
<circle cx="611.0" cy="522.2" r="1.85"/>
<circle cx="611.2" cy="529.0" r="1.85"/>
<circle cx="611.5" cy="527.9" r="1.85"/>
<circle cx="611.7" cy="530.0" r="1.85"/>
<circle cx="611.9" cy="525.1" r="1.85"/>
<circle cx="612.2" cy="531.2" r="1.85"/>
<circle cx="612.4" cy="524.7" r="1.85"/>
<circle cx="612.7" cy="525.5" r="1.85"/>
<circle cx="612.9" cy="526.8" r="1.85"/>
<circle cx="613.1" cy="535.1" r="1.85"/>
<circle cx="613.4" cy="530.5" r="1.85"/>
<circle cx="613.6" cy="526.8" r="1.85"/>
<circle cx="613.9" cy="533.2" r="1.85"/>
<circle cx="614.1" cy="530.0" r="1.85"/>
<circle cx="614.4" cy="529.7" r="1.85"/>
<circle cx="614.6" cy="527.2" r="1.85"/>
<circle cx="614.8" cy="529.3" r="1.85"/>
<circle cx="615.1" cy="529.5" r="1.85"/>
<circle cx="615.3" cy="531.7" r="1.85"/>
<circle cx="615.6" cy="530.7" r="1.85"/>
<circle cx="615.8" cy="531.2" r="1.85"/>
<circle cx="616.0" cy="529.0" r="1.85"/>
<circle cx="616.3" cy="531.9" r="1.85"/>
<circle cx="616.5" cy="528.8" r="1.85"/>
<circle cx="616.8" cy="537.1" r="1.85"/>
<circle cx="617.0" cy="528.6" r="1.85"/>
<circle cx="617.3" cy="532.7" r="1.85"/>
<circle cx="617.5" cy="529.3" r="1.85"/>
<circle cx="617.7" cy="532.4" r="1.85"/>
<circle cx="618.0" cy="530.5" r="1.85"/>
<circle cx="618.2" cy="529.0" r="1.85"/>
<circle cx="618.5" cy="535.1" r="1.85"/>
<circle cx="618.7" cy="533.5" r="1.85"/>
<circle cx="619.0" cy="534.3" r="1.85"/>
<circle cx="619.2" cy="533.5" r="1.85"/>
<circle cx="619.4" cy="539.6" r="1.85"/>
<circle cx="619.7" cy="535.1" r="1.85"/>
<circle cx="619.9" cy="535.7" r="1.85"/>
<circle cx="620.2" cy="537.4" r="1.85"/>
<circle cx="620.4" cy="536.0" r="1.85"/>
<circle cx="620.6" cy="540.5" r="1.85"/>
<circle cx="620.9" cy="531.4" r="1.85"/>
<circle cx="621.1" cy="534.6" r="1.85"/>
<circle cx="621.4" cy="530.7" r="1.85"/>
<circle cx="621.6" cy="539.3" r="1.85"/>
<circle cx="621.9" cy="540.5" r="1.85"/>
<circle cx="622.1" cy="536.0" r="1.85"/>
<circle cx="622.3" cy="542.9" r="1.85"/>
<circle cx="622.6" cy="536.5" r="1.85"/>
<circle cx="622.8" cy="539.9" r="1.85"/>
<circle cx="623.1" cy="538.6" r="1.85"/>
<circle cx="623.3" cy="537.1" r="1.85"/>
<circle cx="623.6" cy="538.0" r="1.85"/>
<circle cx="623.8" cy="532.7" r="1.85"/>
<circle cx="624.0" cy="536.5" r="1.85"/>
<circle cx="624.3" cy="543.3" r="1.85"/>
<circle cx="624.5" cy="536.0" r="1.85"/>
<circle cx="624.8" cy="544.0" r="1.85"/>
<circle cx="625.0" cy="539.3" r="1.85"/>
<circle cx="625.2" cy="544.3" r="1.85"/>
<circle cx="625.5" cy="542.9" r="1.85"/>
<circle cx="625.7" cy="536.0" r="1.85"/>
<circle cx="626.0" cy="542.2" r="1.85"/>
<circle cx="626.2" cy="542.9" r="1.85"/>
<circle cx="626.5" cy="542.9" r="1.85"/>
<circle cx="626.7" cy="542.2" r="1.85"/>
<circle cx="626.9" cy="536.5" r="1.85"/>
<circle cx="627.2" cy="545.8" r="1.85"/>
<circle cx="627.4" cy="546.2" r="1.85"/>
<circle cx="627.7" cy="539.9" r="1.85"/>
<circle cx="627.9" cy="548.2" r="1.85"/>
<circle cx="628.1" cy="543.6" r="1.85"/>
<circle cx="628.4" cy="538.6" r="1.85"/>
<circle cx="628.6" cy="542.9" r="1.85"/>
<circle cx="628.9" cy="544.7" r="1.85"/>
<circle cx="629.1" cy="545.8" r="1.85"/>
<circle cx="629.4" cy="547.0" r="1.85"/>
<circle cx="629.6" cy="545.8" r="1.85"/>
<circle cx="629.8" cy="543.3" r="1.85"/>
<circle cx="630.1" cy="539.9" r="1.85"/>
<circle cx="630.3" cy="540.9" r="1.85"/>
<circle cx="630.6" cy="546.6" r="1.85"/>
<circle cx="630.8" cy="547.4" r="1.85"/>
<circle cx="631.1" cy="542.6" r="1.85"/>
<circle cx="631.3" cy="552.6" r="1.85"/>
<circle cx="631.5" cy="547.0" r="1.85"/>
<circle cx="631.8" cy="547.0" r="1.85"/>
<circle cx="632.0" cy="550.4" r="1.85"/>
<circle cx="632.3" cy="549.9" r="1.85"/>
<circle cx="632.5" cy="545.1" r="1.85"/>
<circle cx="632.7" cy="553.6" r="1.85"/>
<circle cx="633.0" cy="550.4" r="1.85"/>
<circle cx="633.2" cy="549.5" r="1.85"/>
<circle cx="633.5" cy="547.0" r="1.85"/>
<circle cx="633.7" cy="553.1" r="1.85"/>
<circle cx="634.0" cy="543.6" r="1.85"/>
<circle cx="634.2" cy="549.1" r="1.85"/>
<circle cx="634.4" cy="549.1" r="1.85"/>
<circle cx="634.7" cy="549.5" r="1.85"/>
<circle cx="634.9" cy="551.2" r="1.85"/>
<circle cx="635.2" cy="552.6" r="1.85"/>
<circle cx="635.4" cy="544.7" r="1.85"/>
<circle cx="635.7" cy="548.2" r="1.85"/>
<circle cx="635.9" cy="549.9" r="1.85"/>
<circle cx="636.1" cy="545.8" r="1.85"/>
<circle cx="636.4" cy="552.6" r="1.85"/>
<circle cx="636.6" cy="547.4" r="1.85"/>
<circle cx="636.9" cy="549.9" r="1.85"/>
<circle cx="637.1" cy="554.1" r="1.85"/>
<circle cx="637.3" cy="547.8" r="1.85"/>
<circle cx="637.6" cy="557.7" r="1.85"/>
<circle cx="637.8" cy="548.6" r="1.85"/>
<circle cx="638.1" cy="555.1" r="1.85"/>
<circle cx="638.3" cy="549.9" r="1.85"/>
<circle cx="638.6" cy="546.2" r="1.85"/>
<circle cx="638.8" cy="549.5" r="1.85"/>
<circle cx="639.0" cy="554.6" r="1.85"/>
<circle cx="639.3" cy="552.6" r="1.85"/>
<circle cx="639.5" cy="554.1" r="1.85"/>
<circle cx="639.8" cy="558.2" r="1.85"/>
<circle cx="640.0" cy="558.2" r="1.85"/>
<circle cx="640.2" cy="553.1" r="1.85"/>
<circle cx="640.5" cy="551.2" r="1.85"/>
<circle cx="640.7" cy="562.4" r="1.85"/>
<circle cx="641.0" cy="554.1" r="1.85"/>
<circle cx="641.2" cy="552.2" r="1.85"/>
<circle cx="641.5" cy="553.6" r="1.85"/>
<circle cx="641.7" cy="559.4" r="1.85"/>
<circle cx="641.9" cy="550.4" r="1.85"/>
<circle cx="642.2" cy="560.5" r="1.85"/>
<circle cx="642.4" cy="552.6" r="1.85"/>
<circle cx="642.7" cy="549.1" r="1.85"/>
<circle cx="642.9" cy="566.4" r="1.85"/>
<circle cx="643.2" cy="554.6" r="1.85"/>
<circle cx="643.4" cy="554.6" r="1.85"/>
<circle cx="643.6" cy="555.1" r="1.85"/>
<circle cx="643.9" cy="559.9" r="1.85"/>
<circle cx="644.1" cy="558.2" r="1.85"/>
<circle cx="644.4" cy="563.7" r="1.85"/>
<circle cx="644.6" cy="556.6" r="1.85"/>
<circle cx="644.8" cy="555.1" r="1.85"/>
<circle cx="645.1" cy="560.5" r="1.85"/>
<circle cx="645.3" cy="562.4" r="1.85"/>
<circle cx="645.6" cy="559.9" r="1.85"/>
<circle cx="645.8" cy="558.2" r="1.85"/>
<circle cx="646.1" cy="558.2" r="1.85"/>
<circle cx="646.3" cy="558.8" r="1.85"/>
<circle cx="646.5" cy="558.2" r="1.85"/>
<circle cx="646.8" cy="565.7" r="1.85"/>
<circle cx="647.0" cy="575.3" r="1.85"/>
<circle cx="647.3" cy="556.6" r="1.85"/>
<circle cx="647.5" cy="553.6" r="1.85"/>
<circle cx="647.8" cy="567.8" r="1.85"/>
<circle cx="648.0" cy="563.7" r="1.85"/>
<circle cx="648.2" cy="558.8" r="1.85"/>
<circle cx="648.5" cy="556.1" r="1.85"/>
<circle cx="648.7" cy="557.7" r="1.85"/>
<circle cx="649.0" cy="555.1" r="1.85"/>
<circle cx="649.2" cy="561.1" r="1.85"/>
<circle cx="649.4" cy="559.4" r="1.85"/>
<circle cx="649.7" cy="559.4" r="1.85"/>
<circle cx="649.9" cy="563.7" r="1.85"/>
<circle cx="650.2" cy="556.6" r="1.85"/>
<circle cx="650.4" cy="559.4" r="1.85"/>
<circle cx="650.7" cy="557.7" r="1.85"/>
<circle cx="650.9" cy="564.3" r="1.85"/>
<circle cx="651.1" cy="557.7" r="1.85"/>
<circle cx="651.4" cy="568.6" r="1.85"/>
<circle cx="651.6" cy="561.1" r="1.85"/>
<circle cx="651.9" cy="580.3" r="1.85"/>
<circle cx="652.1" cy="569.3" r="1.85"/>
<circle cx="652.3" cy="559.9" r="1.85"/>
<circle cx="652.6" cy="566.4" r="1.85"/>
<circle cx="652.8" cy="563.0" r="1.85"/>
<circle cx="653.1" cy="574.4" r="1.85"/>
<circle cx="653.3" cy="557.1" r="1.85"/>
<circle cx="653.6" cy="561.8" r="1.85"/>
<circle cx="653.8" cy="565.0" r="1.85"/>
<circle cx="654.0" cy="563.0" r="1.85"/>
<circle cx="654.3" cy="563.7" r="1.85"/>
<circle cx="654.5" cy="558.8" r="1.85"/>
<circle cx="654.8" cy="565.0" r="1.85"/>
<circle cx="655.0" cy="575.3" r="1.85"/>
<circle cx="655.3" cy="567.8" r="1.85"/>
<circle cx="655.5" cy="559.9" r="1.85"/>
<circle cx="655.7" cy="563.7" r="1.85"/>
<circle cx="656.0" cy="569.3" r="1.85"/>
<circle cx="656.2" cy="563.7" r="1.85"/>
<circle cx="656.5" cy="566.4" r="1.85"/>
<circle cx="656.7" cy="564.3" r="1.85"/>
<circle cx="656.9" cy="578.2" r="1.85"/>
<circle cx="657.2" cy="573.5" r="1.85"/>
<circle cx="657.4" cy="564.3" r="1.85"/>
<circle cx="657.7" cy="569.3" r="1.85"/>
<circle cx="657.9" cy="566.4" r="1.85"/>
<circle cx="658.2" cy="559.4" r="1.85"/>
<circle cx="658.4" cy="570.9" r="1.85"/>
<circle cx="658.6" cy="567.8" r="1.85"/>
<circle cx="658.9" cy="572.6" r="1.85"/>
<circle cx="659.1" cy="573.5" r="1.85"/>
<circle cx="659.4" cy="570.1" r="1.85"/>
<circle cx="659.6" cy="579.2" r="1.85"/>
<circle cx="659.9" cy="584.9" r="1.85"/>
<circle cx="660.1" cy="563.0" r="1.85"/>
<circle cx="660.3" cy="570.9" r="1.85"/>
<circle cx="660.6" cy="565.0" r="1.85"/>
<circle cx="660.8" cy="570.1" r="1.85"/>
<circle cx="661.1" cy="570.1" r="1.85"/>
<circle cx="661.3" cy="567.8" r="1.85"/>
<circle cx="661.5" cy="567.8" r="1.85"/>
<circle cx="661.8" cy="580.3" r="1.85"/>
<circle cx="662.0" cy="565.7" r="1.85"/>
<circle cx="662.3" cy="578.2" r="1.85"/>
<circle cx="662.5" cy="570.9" r="1.85"/>
<circle cx="662.8" cy="572.6" r="1.85"/>
<circle cx="663.0" cy="579.2" r="1.85"/>
<circle cx="663.2" cy="567.1" r="1.85"/>
<circle cx="663.5" cy="559.4" r="1.85"/>
<circle cx="663.7" cy="572.6" r="1.85"/>
<circle cx="664.0" cy="577.2" r="1.85"/>
<circle cx="664.2" cy="570.1" r="1.85"/>
<circle cx="664.4" cy="576.2" r="1.85"/>
<circle cx="664.7" cy="572.6" r="1.85"/>
<circle cx="664.9" cy="581.4" r="1.85"/>
<circle cx="665.2" cy="579.2" r="1.85"/>
<circle cx="665.4" cy="565.0" r="1.85"/>
<circle cx="665.7" cy="577.2" r="1.85"/>
<circle cx="665.9" cy="580.3" r="1.85"/>
<circle cx="666.1" cy="578.2" r="1.85"/>
<circle cx="666.4" cy="579.2" r="1.85"/>
<circle cx="666.6" cy="573.5" r="1.85"/>
<circle cx="666.9" cy="573.5" r="1.85"/>
<circle cx="667.1" cy="573.5" r="1.85"/>
<circle cx="667.4" cy="571.8" r="1.85"/>
<circle cx="667.6" cy="570.1" r="1.85"/>
<circle cx="667.8" cy="591.7" r="1.85"/>
<circle cx="668.1" cy="580.3" r="1.85"/>
<circle cx="668.3" cy="579.2" r="1.85"/>
<circle cx="668.6" cy="578.2" r="1.85"/>
<circle cx="668.8" cy="579.2" r="1.85"/>
<circle cx="669.0" cy="581.4" r="1.85"/>
<circle cx="669.3" cy="580.3" r="1.85"/>
<circle cx="669.5" cy="581.4" r="1.85"/>
<circle cx="669.8" cy="584.9" r="1.85"/>
<circle cx="670.0" cy="579.2" r="1.85"/>
<circle cx="670.3" cy="568.6" r="1.85"/>
<circle cx="670.5" cy="580.3" r="1.85"/>
<circle cx="670.7" cy="579.2" r="1.85"/>
<circle cx="671.0" cy="576.2" r="1.85"/>
<circle cx="671.2" cy="570.9" r="1.85"/>
<circle cx="671.5" cy="588.8" r="1.85"/>
<circle cx="671.7" cy="582.5" r="1.85"/>
<circle cx="672.0" cy="578.2" r="1.85"/>
<circle cx="672.2" cy="584.9" r="1.85"/>
<circle cx="672.4" cy="576.2" r="1.85"/>
<circle cx="672.7" cy="581.4" r="1.85"/>
<circle cx="672.9" cy="590.2" r="1.85"/>
<circle cx="673.2" cy="583.7" r="1.85"/>
<circle cx="673.4" cy="582.5" r="1.85"/>
<circle cx="673.6" cy="582.5" r="1.85"/>
<circle cx="673.9" cy="591.7" r="1.85"/>
<circle cx="674.1" cy="582.5" r="1.85"/>
<circle cx="674.4" cy="579.2" r="1.85"/>
<circle cx="674.6" cy="574.4" r="1.85"/>
<circle cx="674.9" cy="584.9" r="1.85"/>
<circle cx="675.1" cy="576.2" r="1.85"/>
<circle cx="675.3" cy="583.7" r="1.85"/>
<circle cx="675.6" cy="583.7" r="1.85"/>
<circle cx="675.8" cy="590.2" r="1.85"/>
<circle cx="676.1" cy="578.2" r="1.85"/>
<circle cx="676.3" cy="580.3" r="1.85"/>
<circle cx="676.5" cy="587.4" r="1.85"/>
<circle cx="676.8" cy="584.9" r="1.85"/>
<circle cx="677.0" cy="587.4" r="1.85"/>
<circle cx="677.3" cy="580.3" r="1.85"/>
<circle cx="677.5" cy="588.8" r="1.85"/>
<circle cx="677.8" cy="581.4" r="1.85"/>
<circle cx="678.0" cy="586.1" r="1.85"/>
<circle cx="678.2" cy="586.1" r="1.85"/>
<circle cx="678.5" cy="580.3" r="1.85"/>
<circle cx="678.7" cy="584.9" r="1.85"/>
<circle cx="679.0" cy="587.4" r="1.85"/>
<circle cx="679.2" cy="579.2" r="1.85"/>
<circle cx="679.5" cy="588.8" r="1.85"/>
<circle cx="679.7" cy="578.2" r="1.85"/>
<circle cx="679.9" cy="581.4" r="1.85"/>
<circle cx="680.2" cy="584.9" r="1.85"/>
<circle cx="680.4" cy="587.4" r="1.85"/>
<circle cx="680.7" cy="590.2" r="1.85"/>
<circle cx="680.9" cy="598.4" r="1.85"/>
<circle cx="681.1" cy="598.4" r="1.85"/>
<circle cx="681.4" cy="586.1" r="1.85"/>
<circle cx="681.6" cy="580.3" r="1.85"/>
<circle cx="681.9" cy="580.3" r="1.85"/>
<circle cx="682.1" cy="593.3" r="1.85"/>
<circle cx="682.4" cy="586.1" r="1.85"/>
<circle cx="682.6" cy="580.3" r="1.85"/>
<circle cx="682.8" cy="594.9" r="1.85"/>
<circle cx="683.1" cy="581.4" r="1.85"/>
<circle cx="683.3" cy="587.4" r="1.85"/>
<circle cx="683.6" cy="586.1" r="1.85"/>
<circle cx="683.8" cy="576.2" r="1.85"/>
<circle cx="684.1" cy="594.9" r="1.85"/>
<circle cx="684.3" cy="588.8" r="1.85"/>
<circle cx="684.5" cy="590.2" r="1.85"/>
<circle cx="684.8" cy="587.4" r="1.85"/>
<circle cx="685.0" cy="586.1" r="1.85"/>
<circle cx="685.3" cy="594.9" r="1.85"/>
<circle cx="685.5" cy="594.9" r="1.85"/>
<circle cx="685.7" cy="594.9" r="1.85"/>
<circle cx="686.0" cy="586.1" r="1.85"/>
<circle cx="686.2" cy="594.9" r="1.85"/>
<circle cx="686.5" cy="588.8" r="1.85"/>
<circle cx="686.7" cy="618.0" r="1.85"/>
<circle cx="687.0" cy="587.4" r="1.85"/>
<circle cx="687.2" cy="590.2" r="1.85"/>
<circle cx="687.4" cy="591.7" r="1.85"/>
<circle cx="687.7" cy="588.8" r="1.85"/>
<circle cx="687.9" cy="580.3" r="1.85"/>
<circle cx="688.2" cy="590.2" r="1.85"/>
<circle cx="688.4" cy="594.9" r="1.85"/>
<circle cx="688.6" cy="600.3" r="1.85"/>
<circle cx="688.9" cy="614.8" r="1.85"/>
<circle cx="689.1" cy="591.7" r="1.85"/>
<circle cx="689.4" cy="596.6" r="1.85"/>
<circle cx="689.6" cy="609.2" r="1.85"/>
<circle cx="689.9" cy="586.1" r="1.85"/>
<circle cx="690.1" cy="583.7" r="1.85"/>
<circle cx="690.3" cy="587.4" r="1.85"/>
<circle cx="690.6" cy="583.7" r="1.85"/>
<circle cx="690.8" cy="594.9" r="1.85"/>
<circle cx="691.1" cy="596.6" r="1.85"/>
<circle cx="691.3" cy="583.7" r="1.85"/>
<circle cx="691.6" cy="587.4" r="1.85"/>
<circle cx="691.8" cy="591.7" r="1.85"/>
<circle cx="692.0" cy="598.4" r="1.85"/>
<circle cx="692.3" cy="588.8" r="1.85"/>
<circle cx="692.5" cy="587.4" r="1.85"/>
<circle cx="692.8" cy="600.3" r="1.85"/>
<circle cx="693.0" cy="604.5" r="1.85"/>
<circle cx="693.2" cy="600.3" r="1.85"/>
<circle cx="693.5" cy="611.9" r="1.85"/>
<circle cx="693.7" cy="598.4" r="1.85"/>
<circle cx="694.0" cy="594.9" r="1.85"/>
<circle cx="694.2" cy="606.8" r="1.85"/>
<circle cx="694.5" cy="590.2" r="1.85"/>
<circle cx="694.7" cy="604.5" r="1.85"/>
<circle cx="694.9" cy="606.8" r="1.85"/>
<circle cx="695.2" cy="602.3" r="1.85"/>
<circle cx="695.4" cy="606.8" r="1.85"/>
<circle cx="695.7" cy="591.7" r="1.85"/>
<circle cx="695.9" cy="587.4" r="1.85"/>
<circle cx="696.2" cy="600.3" r="1.85"/>
<circle cx="696.4" cy="590.2" r="1.85"/>
<circle cx="696.6" cy="598.4" r="1.85"/>
<circle cx="696.9" cy="602.3" r="1.85"/>
<circle cx="697.1" cy="604.5" r="1.85"/>
<circle cx="697.4" cy="593.3" r="1.85"/>
<circle cx="697.6" cy="604.5" r="1.85"/>
<circle cx="697.8" cy="591.7" r="1.85"/>
<circle cx="698.1" cy="604.5" r="1.85"/>
<circle cx="698.3" cy="598.4" r="1.85"/>
<circle cx="698.6" cy="604.5" r="1.85"/>
<circle cx="698.8" cy="598.4" r="1.85"/>
<circle cx="699.1" cy="611.9" r="1.85"/>
<circle cx="699.3" cy="602.3" r="1.85"/>
<circle cx="699.5" cy="604.5" r="1.85"/>
<circle cx="699.8" cy="606.8" r="1.85"/>
<circle cx="700.0" cy="598.4" r="1.85"/>
<circle cx="700.3" cy="591.7" r="1.85"/>
<circle cx="700.5" cy="600.3" r="1.85"/>
<circle cx="700.7" cy="598.4" r="1.85"/>
<circle cx="701.0" cy="596.6" r="1.85"/>
<circle cx="701.2" cy="598.4" r="1.85"/>
<circle cx="701.5" cy="609.2" r="1.85"/>
<circle cx="701.7" cy="604.5" r="1.85"/>
<circle cx="702.2" cy="614.8" r="1.85"/>
<circle cx="702.4" cy="591.7" r="1.85"/>
<circle cx="702.9" cy="618.0" r="1.85"/>
<circle cx="703.2" cy="600.3" r="1.85"/>
<circle cx="703.4" cy="604.5" r="1.85"/>
<circle cx="703.7" cy="602.3" r="1.85"/>
<circle cx="703.9" cy="611.9" r="1.85"/>
<circle cx="704.1" cy="602.3" r="1.85"/>
<circle cx="704.6" cy="611.9" r="1.85"/>
<circle cx="704.9" cy="606.8" r="1.85"/>
<circle cx="705.1" cy="588.8" r="1.85"/>
<circle cx="705.3" cy="598.4" r="1.85"/>
<circle cx="705.6" cy="606.8" r="1.85"/>
<circle cx="705.8" cy="614.8" r="1.85"/>
<circle cx="706.1" cy="598.4" r="1.85"/>
<circle cx="706.3" cy="604.5" r="1.85"/>
<circle cx="706.6" cy="596.6" r="1.85"/>
<circle cx="706.8" cy="606.8" r="1.85"/>
<circle cx="707.0" cy="598.4" r="1.85"/>
<circle cx="707.3" cy="591.7" r="1.85"/>
<circle cx="707.5" cy="614.8" r="1.85"/>
<circle cx="707.8" cy="602.3" r="1.85"/>
<circle cx="708.0" cy="602.3" r="1.85"/>
<circle cx="708.3" cy="598.4" r="1.85"/>
<circle cx="708.5" cy="606.8" r="1.85"/>
<circle cx="708.7" cy="600.3" r="1.85"/>
<circle cx="709.0" cy="596.6" r="1.85"/>
<circle cx="709.2" cy="596.6" r="1.85"/>
<circle cx="709.5" cy="602.3" r="1.85"/>
<circle cx="709.7" cy="602.3" r="1.85"/>
<circle cx="709.9" cy="602.3" r="1.85"/>
<circle cx="710.2" cy="600.3" r="1.85"/>
<circle cx="710.4" cy="598.4" r="1.85"/>
<circle cx="710.7" cy="611.9" r="1.85"/>
<circle cx="711.2" cy="586.1" r="1.85"/>
<circle cx="711.4" cy="600.3" r="1.85"/>
<circle cx="712.1" cy="618.0" r="1.85"/>
<circle cx="712.4" cy="602.3" r="1.85"/>
<circle cx="712.6" cy="614.8" r="1.85"/>
<circle cx="712.8" cy="614.8" r="1.85"/>
<circle cx="713.1" cy="596.6" r="1.85"/>
<circle cx="713.3" cy="611.9" r="1.85"/>
<circle cx="713.8" cy="609.2" r="1.85"/>
<circle cx="714.1" cy="614.8" r="1.85"/>
<circle cx="714.3" cy="604.5" r="1.85"/>
<circle cx="714.5" cy="600.3" r="1.85"/>
<circle cx="714.8" cy="611.9" r="1.85"/>
<circle cx="715.0" cy="611.9" r="1.85"/>
<circle cx="715.8" cy="609.2" r="1.85"/>
<circle cx="716.2" cy="602.3" r="1.85"/>
<circle cx="716.5" cy="606.8" r="1.85"/>
<circle cx="716.7" cy="614.8" r="1.85"/>
<circle cx="717.0" cy="606.8" r="1.85"/>
<circle cx="717.2" cy="598.4" r="1.85"/>
<circle cx="717.4" cy="606.8" r="1.85"/>
<circle cx="717.9" cy="602.3" r="1.85"/>
<circle cx="718.2" cy="611.9" r="1.85"/>
<circle cx="718.7" cy="614.8" r="1.85"/>
<circle cx="718.9" cy="606.8" r="1.85"/>
<circle cx="719.1" cy="604.5" r="1.85"/>
<circle cx="719.6" cy="611.9" r="1.85"/>
<circle cx="719.9" cy="602.3" r="1.85"/>
<circle cx="720.1" cy="600.3" r="1.85"/>
<circle cx="720.4" cy="611.9" r="1.85"/>
<circle cx="720.6" cy="609.2" r="1.85"/>
<circle cx="720.8" cy="618.0" r="1.85"/>
<circle cx="721.1" cy="602.3" r="1.85"/>
<circle cx="721.3" cy="609.2" r="1.85"/>
<circle cx="721.6" cy="602.3" r="1.85"/>
<circle cx="721.8" cy="604.5" r="1.85"/>
<circle cx="722.0" cy="611.9" r="1.85"/>
<circle cx="722.3" cy="618.0" r="1.85"/>
<circle cx="722.5" cy="609.2" r="1.85"/>
<circle cx="722.8" cy="614.8" r="1.85"/>
<circle cx="723.0" cy="611.9" r="1.85"/>
<circle cx="723.3" cy="593.3" r="1.85"/>
<circle cx="723.7" cy="611.9" r="1.85"/>
<circle cx="724.0" cy="614.8" r="1.85"/>
<circle cx="724.9" cy="618.0" r="1.85"/>
<circle cx="725.2" cy="604.5" r="1.85"/>
<circle cx="725.4" cy="611.9" r="1.85"/>
<circle cx="725.9" cy="614.8" r="1.85"/>
<circle cx="726.2" cy="618.0" r="1.85"/>
<circle cx="726.9" cy="618.0" r="1.85"/>
<circle cx="727.4" cy="618.0" r="1.85"/>
<circle cx="727.6" cy="606.8" r="1.85"/>
<circle cx="728.1" cy="600.3" r="1.85"/>
<circle cx="728.8" cy="614.8" r="1.85"/>
<circle cx="729.5" cy="604.5" r="1.85"/>
<circle cx="730.3" cy="618.0" r="1.85"/>
<circle cx="730.8" cy="611.9" r="1.85"/>
<circle cx="731.5" cy="604.5" r="1.85"/>
<circle cx="732.2" cy="604.5" r="1.85"/>
<circle cx="732.5" cy="611.9" r="1.85"/>
<circle cx="732.7" cy="604.5" r="1.85"/>
<circle cx="732.9" cy="611.9" r="1.85"/>
<circle cx="733.9" cy="611.9" r="1.85"/>
<circle cx="734.6" cy="618.0" r="1.85"/>
<circle cx="734.9" cy="618.0" r="1.85"/>
<circle cx="735.1" cy="611.9" r="1.85"/>
<circle cx="735.8" cy="611.9" r="1.85"/>
<circle cx="736.1" cy="614.8" r="1.85"/>
<circle cx="736.3" cy="614.8" r="1.85"/>
<circle cx="737.8" cy="602.3" r="1.85"/>
<circle cx="738.0" cy="604.5" r="1.85"/>
<circle cx="738.7" cy="602.3" r="1.85"/>
<circle cx="739.2" cy="604.5" r="1.85"/>
<circle cx="739.5" cy="609.2" r="1.85"/>
<circle cx="740.0" cy="618.0" r="1.85"/>
<circle cx="740.2" cy="614.8" r="1.85"/>
<circle cx="742.1" cy="606.8" r="1.85"/>
<circle cx="742.6" cy="618.0" r="1.85"/>
<circle cx="742.9" cy="614.8" r="1.85"/>
<circle cx="744.8" cy="611.9" r="1.85"/>
<circle cx="745.3" cy="611.9" r="1.85"/>
<circle cx="745.5" cy="618.0" r="1.85"/>
<circle cx="746.0" cy="611.9" r="1.85"/>
<circle cx="747.0" cy="611.9" r="1.85"/>
<circle cx="747.7" cy="609.2" r="1.85"/>
<circle cx="749.6" cy="614.8" r="1.85"/>
<circle cx="752.1" cy="611.9" r="1.85"/>
<circle cx="752.5" cy="614.8" r="1.85"/>
<circle cx="755.9" cy="609.2" r="1.85"/>
<circle cx="756.2" cy="614.8" r="1.85"/>
<circle cx="757.4" cy="614.8" r="1.85"/>
</g>
</g>
<rect x="514.7" y="385.5" width="290.4" height="232.70000000000005" fill="none" stroke="#000" stroke-width="2.4"/>
<line x1="508.7" y1="618" x2="514.7" y2="618" stroke="#000" stroke-width="2" />
<text x="505" y="624.2" font-size="13.5" text-anchor="end" fill="#000" stroke="#000" stroke-width="0.25" >10<tspan dy="-6" font-size="9.3">1</tspan></text>
<line x1="511.2" y1="594.9" x2="514.7" y2="594.9" stroke="#000" stroke-width="1.6" />
<line x1="511.2" y1="581.4" x2="514.7" y2="581.4" stroke="#000" stroke-width="1.6" />
<line x1="511.2" y1="571.8" x2="514.7" y2="571.8" stroke="#000" stroke-width="1.6" />
<line x1="511.2" y1="564.3" x2="514.7" y2="564.3" stroke="#000" stroke-width="1.6" />
<line x1="511.2" y1="558.2" x2="514.7" y2="558.2" stroke="#000" stroke-width="1.6" />
<line x1="511.2" y1="553.1" x2="514.7" y2="553.1" stroke="#000" stroke-width="1.6" />
<line x1="511.2" y1="548.6" x2="514.7" y2="548.6" stroke="#000" stroke-width="1.6" />
<line x1="511.2" y1="544.7" x2="514.7" y2="544.7" stroke="#000" stroke-width="1.6" />
<line x1="508.7" y1="541.2" x2="514.7" y2="541.2" stroke="#000" stroke-width="2" />
<text x="505" y="547.4" font-size="13.5" text-anchor="end" fill="#000" stroke="#000" stroke-width="0.25" >10<tspan dy="-6" font-size="9.3">2</tspan></text>
<line x1="511.2" y1="518.1" x2="514.7" y2="518.1" stroke="#000" stroke-width="1.6" />
<line x1="511.2" y1="504.6" x2="514.7" y2="504.6" stroke="#000" stroke-width="1.6" />
<line x1="511.2" y1="495" x2="514.7" y2="495" stroke="#000" stroke-width="1.6" />
<line x1="511.2" y1="487.5" x2="514.7" y2="487.5" stroke="#000" stroke-width="1.6" />
<line x1="511.2" y1="481.4" x2="514.7" y2="481.4" stroke="#000" stroke-width="1.6" />
<line x1="511.2" y1="476.3" x2="514.7" y2="476.3" stroke="#000" stroke-width="1.6" />
<line x1="511.2" y1="471.8" x2="514.7" y2="471.8" stroke="#000" stroke-width="1.6" />
<line x1="511.2" y1="467.9" x2="514.7" y2="467.9" stroke="#000" stroke-width="1.6" />
<line x1="508.7" y1="464.4" x2="514.7" y2="464.4" stroke="#000" stroke-width="2" />
<text x="505" y="470.6" font-size="13.5" text-anchor="end" fill="#000" stroke="#000" stroke-width="0.25" >10<tspan dy="-6" font-size="9.3">3</tspan></text>
<line x1="511.2" y1="441.3" x2="514.7" y2="441.3" stroke="#000" stroke-width="1.6" />
<line x1="511.2" y1="427.8" x2="514.7" y2="427.8" stroke="#000" stroke-width="1.6" />
<line x1="511.2" y1="418.2" x2="514.7" y2="418.2" stroke="#000" stroke-width="1.6" />
<line x1="511.2" y1="410.7" x2="514.7" y2="410.7" stroke="#000" stroke-width="1.6" />
<line x1="511.2" y1="404.6" x2="514.7" y2="404.6" stroke="#000" stroke-width="1.6" />
<line x1="511.2" y1="399.5" x2="514.7" y2="399.5" stroke="#000" stroke-width="1.6" />
<line x1="511.2" y1="395" x2="514.7" y2="395" stroke="#000" stroke-width="1.6" />
<line x1="511.2" y1="391.1" x2="514.7" y2="391.1" stroke="#000" stroke-width="1.6" />
<line x1="508.7" y1="387.6" x2="514.7" y2="387.6" stroke="#000" stroke-width="2" />
<text x="505" y="393.8" font-size="13.5" text-anchor="end" fill="#000" stroke="#000" stroke-width="0.25" >10<tspan dy="-6" font-size="9.3">4</tspan></text>
<line x1="514.7" y1="618.2" x2="514.7" y2="623.6" stroke="#000" stroke-width="2" />
<text x="514.7" y="638.3" font-size="13.6" text-anchor="middle" fill="#000" stroke="#000" stroke-width="0.25" >0</text>
<line x1="563.1" y1="618.2" x2="563.1" y2="621.2" stroke="#000" stroke-width="2" />
<line x1="611.5" y1="618.2" x2="611.5" y2="623.6" stroke="#000" stroke-width="2" />
<text x="611.5" y="638.3" font-size="13.6" text-anchor="middle" fill="#000" stroke="#000" stroke-width="0.25" >500</text>
<line x1="659.9" y1="618.2" x2="659.9" y2="621.2" stroke="#000" stroke-width="2" />
<line x1="708.3" y1="618.2" x2="708.3" y2="623.6" stroke="#000" stroke-width="2" />
<text x="708.3" y="638.3" font-size="13.6" text-anchor="middle" fill="#000" stroke="#000" stroke-width="0.25" >1000</text>
<line x1="756.7" y1="618.2" x2="756.7" y2="621.2" stroke="#000" stroke-width="2" />
<line x1="805.1" y1="618.2" x2="805.1" y2="623.6" stroke="#000" stroke-width="2" />
<text x="805.1" y="638.3" font-size="13.6" text-anchor="middle" fill="#000" stroke="#000" stroke-width="0.25" >1500</text>
<text x="476.4" y="501.8" font-size="20.7" text-anchor="middle" fill="#000" stroke="#000" stroke-width="0.25" transform="rotate(-90 476.4 501.8)" >Intensity</text>
<text x="659.8" y="667.4" font-size="20.1" text-anchor="middle" fill="#000" stroke="#000" stroke-width="0.25" >Time (ns)</text>
<circle cx="733.4" cy="403.9" r="2.3" fill="url(#gB)" fill-opacity="0.85" stroke="#2c68d0" stroke-opacity="0.85" stroke-width="0.7"/>
<circle cx="733.4" cy="422.6" r="2.3" fill="url(#gR)" fill-opacity="0.85" stroke="#e03c44" stroke-opacity="0.85" stroke-width="0.7"/>
<text x="755.6" y="408.7" font-size="15.3" text-anchor="start" fill="#000" stroke="#000" stroke-width="0.25" >R-film</text>
<text x="755.6" y="428.3" font-size="15.3" text-anchor="start" fill="#000" stroke="#000" stroke-width="0.25" >S-film</text>
</g>
<g id="panel-f">
<clipPath id="clipF"><rect x="963.6" y="384.9" width="287.69999999999993" height="233.10000000000002"/></clipPath>
<g clip-path="url(#clipF)" fill="none" stroke-width="2.1" stroke-linejoin="round">
<path d="M963.6,469.1L964.3,471.5L965.3,469.6L966.4,467.7L967.1,466.5L968.8,466.1L970.5,465.8L971.5,467.1L972.8,468.2L974,467.5L975,466.5L976.1,465.2L977,465.9L977.9,466.9L978.9,467.5L980,468.2L981.3,467.7L982.3,468L983.3,468.9L984.2,469.9L985.9,471.2L987.8,472L988.9,471.5L989.8,474.8L990.9,473.4L991.8,472.3L992.8,472L993.7,471.7L995.1,473.5L996.4,474.9L997.7,473.8L998.6,471.6L999.6,473.4L1000.9,472.8L1002.3,473.6L1003.6,473.3L1004.9,474.2L1006.2,472.8L1007.5,473.4L1008.8,472.2L1010.1,471.7L1011.4,470.7L1012.7,472.9L1013.8,473.9L1015.4,472.2L1016.9,471.2L1018,469.6L1019.3,469.1L1020.6,467.5L1021.9,468.7L1023.2,468.1L1024.5,467.8L1025.8,467.3L1027.2,466.5L1028.5,467.2L1029.8,467.7L1031.1,467.3L1032.4,466.8L1033.7,466.5L1035,466.3L1036.3,465.6L1037.4,466.8L1038.3,466.5L1041.5,466.5L1042,466.4L1042.5,466.1L1043.1,466.4L1043.6,466.6L1044.1,466.6L1044.7,466.3L1045.2,465.6L1045.7,465.2L1046.3,465.7L1046.8,466.4L1047.3,466.4L1047.9,466.2L1048.4,465.6L1048.9,464.9L1049.5,465.2L1050,465.3L1050.5,464.7L1051.1,464.1L1051.6,464.7L1052.1,465.8L1052.7,465.8L1053.2,465.7L1053.7,465.8L1054.3,465.7L1054.8,466.4L1055.3,466.9L1055.9,466.3L1056.4,464.9L1056.9,464.3L1057.5,465.2L1058,466.3L1058.5,466.4L1059.1,465.7L1059.6,465L1060.1,465.2L1060.7,465.8L1061.2,466.2L1061.7,466.1L1062.3,465.7L1062.8,466.2L1063.3,466.3L1063.9,464.6L1064.4,463.9L1064.9,464.1L1065.5,464.5L1066,464.7L1066.5,464.4L1067.1,464.2L1067.6,463.6L1068.1,464.2L1068.6,465L1069.2,463.8L1069.7,463L1070.2,463.5L1070.8,463.7L1071.3,464.1L1071.8,465.2L1072.4,465.3L1072.9,464.1L1073.4,463.7L1074,464.1L1074.5,464.5L1075,464.2L1075.6,463.4L1076.1,463.6L1076.6,464.2L1077.2,464.2L1077.7,463.4L1078.2,463L1078.8,463.4L1079.3,463.8L1079.8,463.5L1080.4,462.8L1080.9,463L1081.4,462.7L1082,462L1082.5,462.8L1083,463.8L1083.6,463.6L1084.1,462.5L1084.6,461.5L1085.2,461.8L1085.7,462.1L1086.2,461.4L1086.8,461.4L1087.3,461.7L1087.8,461.1L1088.4,460.8L1088.9,461.9L1089.4,462.8L1090,461.7L1090.5,460.7L1091,460.5L1091.6,460.1L1092.1,460.8L1092.6,461.5L1093.2,460.9L1093.7,460.4L1094.2,460.3L1094.8,460.2L1095.3,460.1L1095.8,460.4L1096.4,460.8L1096.9,461.2L1097.4,460.9L1098,460.4L1098.5,460.4L1099,460.3L1099.6,459.9L1100.1,459.3L1100.6,458.8L1101.2,458.4L1101.7,458.4L1102.2,458.9L1102.7,459.7L1103.3,460L1103.8,459.6L1104.3,459.6L1104.9,459.2L1105.4,458.4L1105.9,458.6L1106.5,458.2L1107,457.5L1107.5,457L1108.1,456.2L1108.6,456.9L1109.1,457.2L1109.7,456.6L1110.2,457.3L1110.7,458.1L1111.3,457.8L1111.8,457.1L1112.3,456.4L1112.9,456.4L1113.4,456.7L1113.9,455.5L1114.5,454.5L1115,455.3L1115.5,455.4L1116.1,454.5L1116.6,454.3L1117.1,455.1L1117.7,455.6L1118.2,454.9L1118.7,453.6L1119.3,453.8L1119.8,455.4L1120.3,455.8L1120.9,455.1L1121.4,454.3L1121.9,453.1L1122.5,452L1123,451.1L1123.5,451.2L1124.1,451.4L1124.6,451.3L1125.1,452.1L1125.7,452.3L1126.2,451.1L1126.7,450.7L1127.3,450.9L1127.8,449.9L1128.3,449.3L1128.9,449.6L1129.4,449.5L1129.9,449.1L1130.5,448.5L1131,448.1L1131.5,447.9L1132.1,447L1132.6,446.2L1133.1,446.6L1133.7,447.7L1134.2,447.3L1134.7,445.7L1135.2,445.3L1135.8,445.3L1136.3,445L1136.8,444.6L1137.4,443.8L1137.9,443.2L1138.4,442.5L1139,441.7L1139.5,441.2L1140,440.7L1140.6,440L1141.1,438.8L1141.6,438.5L1142.2,437.8L1142.7,436.7L1143.2,436.2L1143.8,435.5L1144.3,435.5L1144.8,435.3L1145.4,433.5L1145.9,432.1L1146.4,432.4L1147,432.4L1147.5,431.1L1148,429.6L1148.6,428.5L1149.1,427.5L1149.6,427L1150.2,427.2L1150.7,426.8L1151.2,425L1151.8,424.1L1152.3,423.9L1152.8,423.6L1153.4,422.9L1153.9,421.8L1154.4,420.7L1155,419.6L1155.5,418.6L1156,417.5L1156.6,416.5L1157.1,415.4L1157.6,414.2L1158.2,413L1158.7,412L1159.2,410.9L1159.8,410.1L1160.3,409.3L1160.8,408.2L1161.4,407.4L1161.9,407.2L1162.4,406.9L1163,406.6L1163.5,406.3L1164,406L1164.6,406L1165.1,406.7L1165.6,408.1L1166.2,409.6L1166.7,411.6L1167.2,414.5L1167.8,418.1L1168.3,422.6L1168.8,427.7L1169.3,432.7L1169.9,437.9L1170.4,442.7L1170.9,447L1171.5,451L1172,455.6L1172.5,461.8L1173.1,469.8L1173.6,478.6L1174.1,487L1174.7,494.9L1175.2,503L1175.7,510.9L1176.3,518.5L1176.8,526.5L1177.3,534.6L1177.9,542.6L1178.4,550.1L1178.9,557.7L1179.5,565.7L1180,574.4L1180.5,583.2L1181.1,590.8L1181.6,596L1182.1,599.9L1182.7,602.5L1183.2,604.2L1183.7,604.8L1184.3,603.8L1184.8,602.2L1185.3,599.8L1185.9,596.3L1186.4,591.7L1186.9,585.6L1187.5,578.8L1188,571.8L1188.5,564.9L1189.1,558.7L1189.6,552.8L1190.1,546.9L1190.7,541.1L1191.2,535.9L1191.7,531.3L1192.3,527.3L1192.8,523.8L1193.3,520.5L1193.9,517.7L1194.4,515.1L1194.9,512.7L1195.5,510.5L1196,508.7L1196.5,507L1197.1,505.4L1197.6,503.9L1198.1,502.5L1198.7,501.3L1199.2,500.2L1199.7,499.1L1200.3,497.9L1200.8,496.7L1201.3,495.7L1201.8,495L1202.4,494.4L1202.9,493.6L1203.4,492.7L1204,492.2L1204.5,491.7L1205,491.2L1205.6,491.1L1206.1,490.5L1206.6,489.8L1207.2,489.7L1207.7,489.3L1208.2,487.8L1208.8,487.4L1209.3,488.1L1209.8,487.7L1210.4,486.2L1210.9,485.6L1211.4,486.6L1212,487.1L1212.5,485.9L1213,484.8L1213.6,485L1214.1,484.8L1214.6,484.8L1215.2,486.3L1215.7,486.4L1216.2,484.4L1216.8,484.1L1217.3,484.6L1217.8,484L1218.4,483.5L1218.9,483.7L1219.4,483.9L1220,484L1220.5,483.7L1221,483.2L1221.6,482.4L1222.1,481.6L1222.6,482.1L1223.2,482.9L1223.7,482L1224.2,481L1224.8,481L1225.3,481.1L1225.8,481.2L1226.4,481.4L1226.9,481.5L1227.4,481.5L1228,481.3L1228.5,481.1L1229,482L1229.6,482.2L1230.1,481L1230.6,480.5L1231.2,480.3L1231.7,480L1232.2,480.3L1232.8,480.5L1233.3,480L1233.8,479.5L1234.4,478.8L1234.9,478.6L1235.4,479.4L1235.9,479.5L1236.5,479.1L1237,479.7L1237.5,480.1L1238.1,479.4L1238.6,478.6L1239.1,478.5L1239.7,478.7L1240.2,478.8L1240.7,478.7L1241.3,479L1241.8,479.1L1242.3,478.5L1242.9,477.8L1243.4,477.8L1243.9,478.4L1244.5,477.7L1245,476.5L1245.5,476.7L1246.1,477.8L1246.6,478.3L1247.1,478L1247.7,477.5L1248.2,477.2L1248.7,477L1249.3,477.2L1249.8,478L1250.3,478.5L1250.9,478.5L1251.4,478.2" stroke="#e8141c"/>
<path d="M963.6,474.3L964.5,473.5L965.8,472.9L967.5,472.5L969.5,472.2L971.1,471.9L972.8,472.5L974.7,473.2L976.1,473L978,473.5L980,473.8L981.9,474.1L983.3,474.6L984.6,475.1L985.9,474.8L987.2,474.6L988.5,475.4L989.8,474.8L991.1,474.6L992.4,475.1L993.7,475.8L995.1,475.1L996.4,474.6L997.7,474.1L999,473.6L1000.3,473.2L1001.6,472.8L1002.9,472.2L1004.2,472.5L1005.5,472L1006.8,471.7L1008.2,471.5L1009.5,470.9L1010.8,470.7L1012.1,470.4L1013.4,470.1L1014.7,469.1L1016,467.8L1017.3,468.2L1018.6,469.4L1019.9,468.3L1021.3,467.8L1022.6,468.9L1023.9,468.3L1025.2,467.8L1026.5,467.1L1027.8,466.8L1029.1,467.4L1030.4,466.8L1031.7,466.5L1033.1,466.2L1034.4,466.8L1035.7,466.3L1037,466.5L1038.3,466L1041.5,466.3L1042,465.6L1042.5,465L1043.1,465.4L1043.6,465.7L1044.1,465.6L1044.7,466L1045.2,465.8L1045.7,465.3L1046.3,465.3L1046.8,465.6L1047.3,466.1L1047.9,466.4L1048.4,466.1L1048.9,465.8L1049.5,465.4L1050,465.3L1050.5,465.6L1051.1,465.8L1051.6,465.5L1052.1,465.8L1052.7,466.4L1053.2,466.3L1053.7,465.5L1054.3,464.7L1054.8,464.8L1055.3,465.4L1055.9,465.3L1056.4,465.4L1056.9,465.9L1057.5,466.1L1058,466.1L1058.5,466.2L1059.1,466.3L1059.6,465.9L1060.1,465.5L1060.7,465.4L1061.2,464.9L1061.7,464.4L1062.3,464.5L1062.8,464.4L1063.3,464L1063.9,463.8L1064.4,464.1L1064.9,464.7L1065.5,465.1L1066,465L1066.5,464.7L1067.1,464.4L1067.6,464L1068.1,463.8L1068.6,463.6L1069.2,463.1L1069.7,463.3L1070.2,463.8L1070.8,464.3L1071.3,464.7L1071.8,463.8L1072.4,463.3L1072.9,463.9L1073.4,463.8L1074,463L1074.5,463.2L1075,463.4L1075.6,463.1L1076.1,463.5L1076.6,463.6L1077.2,463.4L1077.7,463.4L1078.2,463.1L1078.8,462.7L1079.3,462.8L1079.8,463L1080.4,462.6L1080.9,462.1L1081.4,462.1L1082,462.2L1082.5,461.9L1083,461.8L1083.6,462.2L1084.1,462.5L1084.6,462.2L1085.2,462.1L1085.7,462.7L1086.2,463L1086.8,462.4L1087.3,461.6L1087.8,461.4L1088.4,461.4L1088.9,461.5L1089.4,461.6L1090,461.6L1090.5,461.4L1091,461L1091.6,461L1092.1,461.5L1092.6,461.7L1093.2,461.4L1093.7,461.4L1094.2,461.1L1094.8,460.8L1095.3,461L1095.8,460.8L1096.4,460.1L1096.9,460L1097.4,460.3L1098,460.2L1098.5,460.2L1099,460.9L1099.6,461.5L1100.1,461L1100.6,459.8L1101.2,459.7L1101.7,460.1L1102.2,460L1102.7,459.6L1103.3,459.3L1103.8,458.6L1104.3,458.1L1104.9,458.6L1105.4,458.9L1105.9,458.9L1106.5,458.9L1107,458.7L1107.5,458.5L1108.1,458.1L1108.6,457.7L1109.1,457.7L1109.7,457.4L1110.2,457L1110.7,457.2L1111.3,456.7L1111.8,456L1112.3,456.3L1112.9,455.9L1113.4,455.5L1113.9,456.2L1114.5,456.5L1115,455.7L1115.5,455.5L1116.1,455.5L1116.6,455.2L1117.1,455.1L1117.7,454.9L1118.2,454.8L1118.7,454.8L1119.3,454.9L1119.8,454.9L1120.3,454.7L1120.9,454.3L1121.4,453.8L1121.9,453.5L1122.5,452.9L1123,452.5L1123.5,453L1124.1,453.4L1124.6,452.8L1125.1,451.9L1125.7,451.2L1126.2,450.8L1126.7,450.8L1127.3,450.9L1127.8,450.9L1128.3,450.8L1128.9,449.9L1129.4,449.4L1129.9,449.5L1130.5,449.4L1131,449.3L1131.5,448.9L1132.1,448.5L1132.6,448.2L1133.1,447.3L1133.7,446.2L1134.2,445.7L1134.7,445.8L1135.2,445.8L1135.8,445.3L1136.3,444.9L1136.8,444.7L1137.4,444.8L1137.9,444.4L1138.4,443.7L1139,443.2L1139.5,443.1L1140,442.7L1140.6,441.6L1141.1,440.7L1141.6,440.2L1142.2,439.5L1142.7,438.7L1143.2,438.4L1143.8,438.3L1144.3,438.2L1144.8,437.9L1145.4,436.7L1145.9,435.7L1146.4,434.9L1147,433.5L1147.5,432.7L1148,432.5L1148.6,432.2L1149.1,432.2L1149.6,431.7L1150.2,430.6L1150.7,429.8L1151.2,429.3L1151.8,428.5L1152.3,427.3L1152.8,426.9L1153.4,426.6L1153.9,426.4L1154.4,426L1155,425.7L1155.5,425.4L1156,425L1156.6,424.5L1157.1,424.3L1157.6,424.2L1158.2,423.9L1158.7,423.5L1159.2,423L1159.8,422.8L1160.3,422.6L1160.8,422.5L1161.4,422.5L1161.9,422.6L1162.4,422.6L1163,422.9L1163.5,423.5L1164,424.4L1164.6,425.5L1165.1,427.4L1165.6,430.1L1166.2,433.9L1166.7,438.5L1167.2,442.1L1167.8,445.3L1168.3,448.5L1168.8,451.6L1169.3,454.3L1169.9,457.3L1170.4,460.9L1170.9,464.7L1171.5,468.8L1172,472.9L1172.5,477L1173.1,481.4L1173.6,486L1174.1,491.2L1174.7,497.2L1175.2,504.2L1175.7,512.1L1176.3,520.3L1176.8,528.2L1177.3,535.8L1177.9,543.5L1178.4,551.4L1178.9,559.3L1179.5,567.7L1180,576.6L1180.5,585L1181.1,592.1L1181.6,597.1L1182.1,600.7L1182.7,602.9L1183.2,604.4L1183.7,604.5L1184.3,603.3L1184.8,601.5L1185.3,598.8L1185.9,595.2L1186.4,590.4L1186.9,584.1L1187.5,576.9L1188,569.4L1188.5,562.3L1189.1,555.4L1189.6,547.9L1190.1,540.3L1190.7,533.4L1191.2,527.7L1191.7,523.3L1192.3,519.3L1192.8,516.1L1193.3,513.4L1193.9,510.8L1194.4,508.3L1194.9,505.9L1195.5,503.6L1196,501.7L1196.5,499.8L1197.1,497.9L1197.6,496.2L1198.1,494.6L1198.7,493.4L1199.2,492.3L1199.7,491.3L1200.3,490.4L1200.8,489.5L1201.3,488.6L1201.8,487.9L1202.4,487.2L1202.9,486.6L1203.4,486.1L1204,485.8L1204.5,485.4L1205,484.5L1205.6,484L1206.1,483.9L1206.6,484.3L1207.2,484.3L1207.7,483.3L1208.2,482.8L1208.8,482.7L1209.3,482.1L1209.8,481.4L1210.4,481.3L1210.9,481.5L1211.4,481.8L1212,481.9L1212.5,481.3L1213,480.3L1213.6,480.2L1214.1,480.8L1214.6,481L1215.2,480.4L1215.7,480.2L1216.2,480.7L1216.8,480L1217.3,478.5L1217.8,478.7L1218.4,479.4L1218.9,479L1219.4,478.2L1220,478.2L1220.5,478.6L1221,478.5L1221.6,478L1222.1,477.7L1222.6,477.5L1223.2,477.6L1223.7,477.5L1224.2,477.2L1224.8,477.3L1225.3,477.5L1225.8,477.5L1226.4,477.5L1226.9,477.4L1227.4,477.3L1228,476.7L1228.5,475.8L1229,475.4L1229.6,475.7L1230.1,476L1230.6,475.8L1231.2,475.5L1231.7,475.6L1232.2,475.9L1232.8,475.8L1233.3,475.6L1233.8,475.5L1234.4,475.4L1234.9,475.3L1235.4,475.8L1235.9,476.4L1236.5,476.1L1237,475.4L1237.5,475.5L1238.1,476.1L1238.6,475.9L1239.1,475.3L1239.7,474.8L1240.2,474.7L1240.7,475.1L1241.3,475.1L1241.8,474.6L1242.3,474.1L1242.9,474L1243.4,474L1243.9,474.1L1244.5,474.1L1245,473.9L1245.5,473.6L1246.1,473.7L1246.6,474L1247.1,474.1L1247.7,474L1248.2,473.6L1248.7,472.6L1249.3,472L1249.8,472.6L1250.3,473L1250.9,472.8L1251.4,472.7" stroke="#1414dc"/>
</g>
<rect x="963.6" y="384.9" width="287.69999999999993" height="233.10000000000002" fill="none" stroke="#000" stroke-width="2.4"/>
<line x1="958" y1="398.1" x2="963.6" y2="398.1" stroke="#000" stroke-width="2" />
<text x="953.6" y="402.8" font-size="13.6" text-anchor="end" fill="#000" stroke="#000" stroke-width="0.25" >0.50</text>
<line x1="958" y1="432.5" x2="963.6" y2="432.5" stroke="#000" stroke-width="2" />
<text x="953.6" y="437.2" font-size="13.6" text-anchor="end" fill="#000" stroke="#000" stroke-width="0.25" >0.25</text>
<line x1="958" y1="466.9" x2="963.6" y2="466.9" stroke="#000" stroke-width="2" />
<text x="953.6" y="471.6" font-size="13.6" text-anchor="end" fill="#000" stroke="#000" stroke-width="0.25" >0.00</text>
<line x1="958" y1="501.3" x2="963.6" y2="501.3" stroke="#000" stroke-width="2" />
<text x="953.6" y="506" font-size="13.6" text-anchor="end" fill="#000" stroke="#000" stroke-width="0.25" >-0.25</text>
<line x1="958" y1="535.7" x2="963.6" y2="535.7" stroke="#000" stroke-width="2" />
<text x="953.6" y="540.4" font-size="13.6" text-anchor="end" fill="#000" stroke="#000" stroke-width="0.25" >-0.50</text>
<line x1="958" y1="570.1" x2="963.6" y2="570.1" stroke="#000" stroke-width="2" />
<text x="953.6" y="574.8" font-size="13.6" text-anchor="end" fill="#000" stroke="#000" stroke-width="0.25" >-0.75</text>
<line x1="958" y1="604.5" x2="963.6" y2="604.5" stroke="#000" stroke-width="2" />
<text x="953.6" y="609.2" font-size="13.6" text-anchor="end" fill="#000" stroke="#000" stroke-width="0.25" >-1.00</text>
<line x1="985" y1="618" x2="985" y2="623.6" stroke="#000" stroke-width="2" />
<text x="985" y="638.8" font-size="13.6" text-anchor="middle" fill="#000" stroke="#000" stroke-width="0.25" >350</text>
<line x1="1011.6" y1="618" x2="1011.6" y2="621" stroke="#000" stroke-width="2" />
<line x1="1038.3" y1="618" x2="1038.3" y2="623.6" stroke="#000" stroke-width="2" />
<text x="1038.3" y="638.8" font-size="13.6" text-anchor="middle" fill="#000" stroke="#000" stroke-width="0.25" >400</text>
<line x1="1064.9" y1="618" x2="1064.9" y2="621" stroke="#000" stroke-width="2" />
<line x1="1091.6" y1="618" x2="1091.6" y2="623.6" stroke="#000" stroke-width="2" />
<text x="1091.6" y="638.8" font-size="13.6" text-anchor="middle" fill="#000" stroke="#000" stroke-width="0.25" >450</text>
<line x1="1118.2" y1="618" x2="1118.2" y2="621" stroke="#000" stroke-width="2" />
<line x1="1144.8" y1="618" x2="1144.8" y2="623.6" stroke="#000" stroke-width="2" />
<text x="1144.8" y="638.8" font-size="13.6" text-anchor="middle" fill="#000" stroke="#000" stroke-width="0.25" >500</text>
<line x1="1171.5" y1="618" x2="1171.5" y2="621" stroke="#000" stroke-width="2" />
<line x1="1198.1" y1="618" x2="1198.1" y2="623.6" stroke="#000" stroke-width="2" />
<text x="1198.1" y="638.8" font-size="13.6" text-anchor="middle" fill="#000" stroke="#000" stroke-width="0.25" >550</text>
<line x1="1224.8" y1="618" x2="1224.8" y2="621" stroke="#000" stroke-width="2" />
<line x1="1251.4" y1="618" x2="1251.4" y2="623.6" stroke="#000" stroke-width="2" />
<text x="1251.4" y="638.8" font-size="13.6" text-anchor="middle" fill="#000" stroke="#000" stroke-width="0.25" >600</text>
<text x="914" y="501" font-size="20.6" text-anchor="middle" fill="#000" stroke="#000" stroke-width="0.25" transform="rotate(-90 914 501)" >ΔA (a.u.)</text>
<text x="1107.6" y="666.3" font-size="19.95" text-anchor="middle" fill="#000" stroke="#000" stroke-width="0.25" >Wavelength (nm)</text>
<line x1="982.6" y1="402.3" x2="1014.2" y2="402.3" stroke="#1414dc" stroke-width="1.9" />
<line x1="982.6" y1="420" x2="1014.2" y2="420" stroke="#e8141c" stroke-width="1.9" />
<text x="1017.2" y="407.2" font-size="14.1" text-anchor="start" fill="#000" stroke="#000" stroke-width="0.25" >R-film</text>
<text x="1017.2" y="424.8" font-size="14.1" text-anchor="start" fill="#000" stroke="#000" stroke-width="0.25" >S-film</text>
<rect x="1005.7" y="489.7" width="126.5" height="94.69999999999999" fill="#fff" stroke="#4a4a4a" stroke-width="1"/>
<clipPath id="clipI"><rect x="1005.7" y="489.7" width="127.5" height="94.69999999999999"/></clipPath>
<g clip-path="url(#clipI)" fill="none" stroke-width="0.95" stroke-linejoin="round">
<path d="M1005.7,535L1006.7,542.6L1007.7,539.4L1008.7,531.5L1009.7,528.5L1010.7,529.4L1011.7,522.8L1012.7,522.5L1013.7,525.7L1014.6,522.9L1015.6,521.7L1016.6,521.6L1017.6,520.8L1018.6,527.6L1019.6,525.9L1020.6,528L1021.6,529.1L1022.6,528.7L1023.6,526.2L1024.6,524.8L1025.6,519.3L1026.6,517.2L1027.6,516.1L1028.6,522.2L1029.6,522.1L1030.5,527L1031.5,527.6L1032.5,530.8L1033.5,529.4L1034.5,529.3L1035.5,527.2L1036.5,526.5L1037.5,530.1L1038.5,531.7L1039.5,533.6L1040.5,537.9L1041.5,540.7L1042.5,541.1L1043.5,542.6L1044.5,543.2L1045.5,544.1L1046.5,547.5L1047.4,544.9L1048.4,542.4L1049.4,554.4L1050.4,556.8L1051.4,554.9L1052.4,550.6L1053.4,545.3L1054.4,547L1055.4,548.1L1056.4,545.2L1057.4,547.7L1058.4,549.7L1059.4,556.9L1060.4,558.8L1061.4,558.9L1062.4,559.2L1063.3,552.5L1064.3,551.7L1065.3,548.4L1066.3,553.7L1067.3,553L1068.3,549.3L1069.3,549.7L1070.3,550.7L1071.3,552.4L1072.3,556.2L1073.3,551.7L1074.3,557L1075.3,556.5L1076.3,554.9L1077.3,552.3L1078.3,549.7L1079.3,553.1L1080.2,549.2L1081.2,548.9L1082.2,545.8L1083.2,545.5L1084.2,544.3L1085.2,544.1L1086.2,538.8L1087.2,545.1L1088.2,546.8L1089.2,551.2L1090.2,554L1091.2,553L1092.2,552.1L1093.2,546.8L1094.2,545.1L1095.2,544.6L1096.1,541.5L1097.1,540.8L1098.1,539.3L1099.1,536.3L1100.1,534.4L1101.1,526.7L1102.1,528.1L1103.1,527.7L1104.1,530.4L1105.1,528.4L1106.1,530.5L1107.1,528.7L1108.1,529.6L1109.1,530.1L1110.1,529.4L1111.1,528L1112.1,522.9L1113,523.3L1114,524.4L1115,525.3L1116,527.4L1117,527.5L1118,528.1L1119,526.3L1120,525.1L1121,528.4L1122,524.3L1123,521.8L1124,525.2L1125,523.5L1126,522.3L1127,520L1128,519.5L1128.9,519.9L1129.9,521.6L1130.9,522.7L1131.9,522.9" stroke="#e8262c"/>
<path d="M1005.7,553.7L1006.7,553.6L1007.7,554.1L1008.7,552.4L1009.7,550.5L1010.7,550.1L1011.7,548.5L1012.7,548.4L1013.7,546.1L1014.6,547L1015.6,545.6L1016.6,548.2L1017.6,547.2L1018.6,545.6L1019.6,547.4L1020.6,547.5L1021.6,548.9L1022.6,551L1023.6,548.6L1024.6,550.1L1025.6,553.5L1026.6,551.8L1027.6,551.5L1028.6,551.3L1029.6,553.1L1030.5,555.4L1031.5,552.6L1032.5,554.5L1033.5,552.8L1034.5,554.5L1035.5,553.9L1036.5,554.5L1037.5,555.3L1038.5,558.3L1039.5,557.1L1040.5,559.3L1041.5,561.7L1042.5,559.9L1043.5,559.3L1044.5,557.6L1045.5,556.8L1046.5,560.8L1047.4,559.7L1048.4,560.7L1049.4,561L1050.4,557.5L1051.4,559.2L1052.4,559.6L1053.4,557.9L1054.4,558.7L1055.4,562.1L1056.4,561L1057.4,560.5L1058.4,561.4L1059.4,556.7L1060.4,558.7L1061.4,557.4L1062.4,560.1L1063.3,554.8L1064.3,555.6L1065.3,553.1L1066.3,555.3L1067.3,550.5L1068.3,549.2L1069.3,547.8L1070.3,553.8L1071.3,547.8L1072.3,547.3L1073.3,552.6L1074.3,550L1075.3,548.3L1076.3,545.1L1077.3,547.5L1078.3,545.5L1079.3,545.4L1080.2,544.3L1081.2,544.8L1082.2,542L1083.2,540.9L1084.2,543.7L1085.2,539.8L1086.2,541.9L1087.2,540.7L1088.2,538.1L1089.2,538.8L1090.2,537.2L1091.2,535.2L1092.2,533.6L1093.2,532.8L1094.2,530.9L1095.2,528.4L1096.1,528.9L1097.1,531L1098.1,534.2L1099.1,534L1100.1,533.2L1101.1,533L1102.1,529.6L1103.1,528.3L1104.1,529.3L1105.1,533.6L1106.1,533.8L1107.1,531.3L1108.1,531.4L1109.1,529.8L1110.1,527.4L1111.1,526.7L1112.1,523.2L1113,524.7L1114,522.2L1115,523.5L1116,522.5L1117,526.4L1118,525.4L1119,522.5L1120,524.5L1121,523.9L1122,522.4L1123,521.6L1124,524.6L1125,523.5L1126,524.5L1127,523.1L1128,522L1128.9,523L1129.9,521.7L1130.9,521.6L1131.9,521.6" stroke="#2626e0"/>
</g>
<line x1="1002.7" y1="495.4" x2="1005.7" y2="495.4" stroke="#4a4a4a" stroke-width="1" />
<text x="1002.2" y="499.2" font-size="10.6" text-anchor="end" fill="#333" stroke="#333" stroke-width="0.25" >0.05</text>
<line x1="1002.7" y1="524.9" x2="1005.7" y2="524.9" stroke="#4a4a4a" stroke-width="1" />
<text x="1002.2" y="528.7" font-size="10.6" text-anchor="end" fill="#333" stroke="#333" stroke-width="0.25" >0.00</text>
<line x1="1002.7" y1="554.4" x2="1005.7" y2="554.4" stroke="#4a4a4a" stroke-width="1" />
<text x="1002.2" y="558.2" font-size="10.6" text-anchor="end" fill="#333" stroke="#333" stroke-width="0.25" >-0.05</text>
<line x1="1002.7" y1="583.9" x2="1005.7" y2="583.9" stroke="#4a4a4a" stroke-width="1" />
<text x="1002.2" y="587.7" font-size="10.6" text-anchor="end" fill="#333" stroke="#333" stroke-width="0.25" >-0.10</text>
<line x1="1023.8" y1="584.4" x2="1023.8" y2="587.4" stroke="#4a4a4a" stroke-width="1" />
<text x="1023.8" y="596" font-size="10.6" text-anchor="middle" fill="#333" stroke="#333" stroke-width="0.25" >340</text>
<line x1="1041.8" y1="584.4" x2="1041.8" y2="586.2" stroke="#4a4a4a" stroke-width="1" />
<line x1="1059.9" y1="584.4" x2="1059.9" y2="587.4" stroke="#4a4a4a" stroke-width="1" />
<text x="1059.9" y="596" font-size="10.6" text-anchor="middle" fill="#333" stroke="#333" stroke-width="0.25" >360</text>
<line x1="1078" y1="584.4" x2="1078" y2="586.2" stroke="#4a4a4a" stroke-width="1" />
<line x1="1096.1" y1="584.4" x2="1096.1" y2="587.4" stroke="#4a4a4a" stroke-width="1" />
<text x="1096.1" y="596" font-size="10.6" text-anchor="middle" fill="#333" stroke="#333" stroke-width="0.25" >380</text>
<line x1="1114.1" y1="584.4" x2="1114.1" y2="586.2" stroke="#4a4a4a" stroke-width="1" />
<line x1="1132.2" y1="584.4" x2="1132.2" y2="587.4" stroke="#4a4a4a" stroke-width="1" />
<text x="1132.2" y="596" font-size="10.6" text-anchor="middle" fill="#333" stroke="#333" stroke-width="0.25" >400</text>
<text x="980" y="537.5" font-size="14.5" text-anchor="middle" fill="#000" stroke="#000" stroke-width="0.25" transform="rotate(-90 980 537.5)" >ΔA</text>
<text x="1069.3" y="609.6" font-size="16.3" text-anchor="middle" fill="#000" stroke="#000" stroke-width="0.25" >Wavelength (nm)</text>
<line x1="1003.3" y1="480" x2="1024" y2="500.5" stroke="#1f6b8b" stroke-width="2.6"/>
<polygon points="1016.7,505.6 1030.7,494 1035.6,513.3" fill="#1f6b8b"/>
</g>
</svg></body></html>
